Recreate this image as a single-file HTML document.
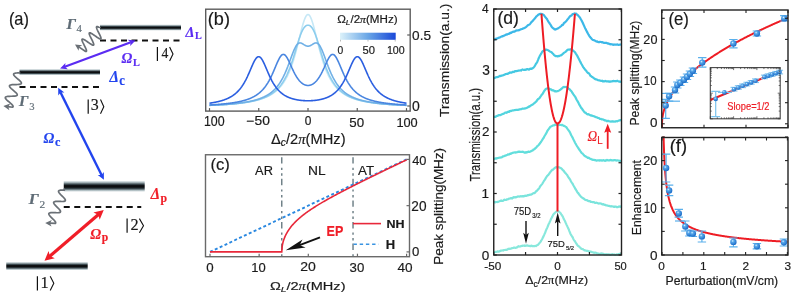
<!DOCTYPE html>
<html><head><meta charset="utf-8"><style>html,body{margin:0;padding:0;background:#fff;} svg{display:block;}</style></head>
<body><svg width="794" height="296" viewBox="0 0 794 296">
<rect width="794" height="296" fill="#fff"/>
<path d="M209.5,105.38 L209.75,105.37 L209.99,105.36 L210.24,105.35 L210.49,105.34 L210.73,105.33 L210.98,105.32 L211.22,105.3 L211.47,105.29 L211.72,105.28 L211.96,105.27 L212.21,105.26 L212.45,105.25 L212.7,105.24 L212.95,105.23 L213.19,105.22 L213.44,105.21 L213.69,105.2 L213.93,105.18 L214.18,105.17 L214.43,105.16 L214.67,105.15 L214.92,105.14 L215.16,105.13 L215.41,105.11 L215.66,105.1 L215.9,105.09 L216.15,105.08 L216.39,105.07 L216.64,105.05 L216.89,105.04 L217.13,105.03 L217.38,105.02 L217.63,105 L217.87,104.99 L218.12,104.98 L218.37,104.96 L218.61,104.95 L218.86,104.94 L219.1,104.92 L219.35,104.91 L219.6,104.9 L219.84,104.88 L220.09,104.87 L220.34,104.85 L220.58,104.84 L220.83,104.83 L221.07,104.81 L221.32,104.8 L221.57,104.78 L221.81,104.77 L222.06,104.75 L222.31,104.74 L222.55,104.72 L222.8,104.71 L223.04,104.69 L223.29,104.68 L223.54,104.66 L223.78,104.65 L224.03,104.63 L224.28,104.62 L224.52,104.6 L224.77,104.58 L225.01,104.57 L225.26,104.55 L225.51,104.53 L225.75,104.52 L226,104.5 L226.25,104.48 L226.49,104.47 L226.74,104.45 L226.98,104.43 L227.23,104.41 L227.48,104.4 L227.72,104.38 L227.97,104.36 L228.22,104.34 L228.46,104.32 L228.71,104.3 L228.95,104.28 L229.2,104.27 L229.45,104.25 L229.69,104.23 L229.94,104.21 L230.19,104.19 L230.43,104.17 L230.68,104.15 L230.92,104.13 L231.17,104.11 L231.42,104.09 L231.66,104.07 L231.91,104.05 L232.16,104.02 L232.4,104 L232.65,103.98 L232.89,103.96 L233.14,103.94 L233.39,103.92 L233.63,103.89 L233.88,103.87 L234.12,103.85 L234.37,103.83 L234.62,103.8 L234.86,103.78 L235.11,103.75 L235.36,103.73 L235.6,103.71 L235.85,103.68 L236.09,103.66 L236.34,103.63 L236.59,103.61 L236.83,103.58 L237.08,103.56 L237.33,103.53 L237.57,103.51 L237.82,103.48 L238.06,103.45 L238.31,103.43 L238.56,103.4 L238.8,103.37 L239.05,103.34 L239.3,103.31 L239.54,103.29 L239.79,103.26 L240.03,103.23 L240.28,103.2 L240.53,103.17 L240.77,103.14 L241.02,103.11 L241.27,103.08 L241.51,103.05 L241.76,103.02 L242,102.99 L242.25,102.96 L242.5,102.92 L242.74,102.89 L242.99,102.86 L243.24,102.83 L243.48,102.79 L243.73,102.76 L243.97,102.72 L244.22,102.69 L244.47,102.66 L244.71,102.62 L244.96,102.58 L245.21,102.55 L245.45,102.51 L245.7,102.48 L245.94,102.44 L246.19,102.4 L246.44,102.36 L246.68,102.32 L246.93,102.28 L247.18,102.25 L247.42,102.21 L247.67,102.17 L247.91,102.12 L248.16,102.08 L248.41,102.04 L248.65,102 L248.9,101.96 L249.15,101.91 L249.39,101.87 L249.64,101.83 L249.88,101.78 L250.13,101.74 L250.38,101.69 L250.62,101.64 L250.87,101.6 L251.12,101.55 L251.36,101.5 L251.61,101.45 L251.86,101.41 L252.1,101.36 L252.35,101.31 L252.59,101.25 L252.84,101.2 L253.09,101.15 L253.33,101.1 L253.58,101.04 L253.82,100.99 L254.07,100.94 L254.32,100.88 L254.56,100.82 L254.81,100.77 L255.06,100.71 L255.3,100.65 L255.55,100.59 L255.8,100.53 L256.04,100.47 L256.29,100.41 L256.53,100.35 L256.78,100.29 L257.03,100.22 L257.27,100.16 L257.52,100.09 L257.76,100.03 L258.01,99.96 L258.26,99.89 L258.5,99.82 L258.75,99.75 L259,99.68 L259.24,99.61 L259.49,99.54 L259.74,99.46 L259.98,99.39 L260.23,99.31 L260.47,99.24 L260.72,99.16 L260.97,99.08 L261.21,99 L261.46,98.92 L261.7,98.84 L261.95,98.75 L262.2,98.67 L262.44,98.58 L262.69,98.49 L262.94,98.41 L263.18,98.32 L263.43,98.23 L263.68,98.13 L263.92,98.04 L264.17,97.94 L264.41,97.85 L264.66,97.75 L264.91,97.65 L265.15,97.55 L265.4,97.45 L265.64,97.35 L265.89,97.24 L266.14,97.13 L266.38,97.02 L266.63,96.91 L266.88,96.8 L267.12,96.69 L267.37,96.57 L267.62,96.46 L267.86,96.34 L268.11,96.22 L268.35,96.1 L268.6,95.97 L268.85,95.84 L269.09,95.72 L269.34,95.59 L269.58,95.45 L269.83,95.32 L270.08,95.18 L270.32,95.04 L270.57,94.9 L270.82,94.76 L271.06,94.61 L271.31,94.46 L271.56,94.31 L271.8,94.16 L272.05,94 L272.29,93.84 L272.54,93.68 L272.79,93.52 L273.03,93.35 L273.28,93.18 L273.52,93.01 L273.77,92.83 L274.02,92.66 L274.26,92.47 L274.51,92.29 L274.76,92.1 L275,91.91 L275.25,91.72 L275.5,91.52 L275.74,91.32 L275.99,91.11 L276.23,90.9 L276.48,90.69 L276.73,90.47 L276.97,90.25 L277.22,90.03 L277.46,89.8 L277.71,89.57 L277.96,89.33 L278.2,89.09 L278.45,88.85 L278.7,88.6 L278.94,88.34 L279.19,88.08 L279.44,87.82 L279.68,87.55 L279.93,87.28 L280.17,87 L280.42,86.71 L280.67,86.42 L280.91,86.13 L281.16,85.82 L281.4,85.52 L281.65,85.2 L281.9,84.89 L282.14,84.56 L282.39,84.23 L282.64,83.89 L282.88,83.55 L283.13,83.2 L283.38,82.84 L283.62,82.47 L283.87,82.1 L284.11,81.72 L284.36,81.33 L284.61,80.94 L284.85,80.54 L285.1,80.13 L285.35,79.71 L285.59,79.28 L285.84,78.85 L286.08,78.4 L286.33,77.95 L286.58,77.49 L286.82,77.02 L287.07,76.54 L287.31,76.05 L287.56,75.55 L287.81,75.04 L288.05,74.52 L288.3,73.99 L288.55,73.45 L288.79,72.9 L289.04,72.34 L289.29,71.76 L289.53,71.18 L289.78,70.58 L290.02,69.98 L290.27,69.36 L290.52,68.73 L290.76,68.09 L291.01,67.43 L291.25,66.77 L291.5,66.09 L291.75,65.4 L291.99,64.69 L292.24,63.98 L292.49,63.25 L292.73,62.51 L292.98,61.75 L293.23,60.99 L293.47,60.21 L293.72,59.41 L293.96,58.61 L294.21,57.79 L294.46,56.96 L294.7,56.11 L294.95,55.26 L295.19,54.39 L295.44,53.51 L295.69,52.61 L295.93,51.71 L296.18,50.79 L296.43,49.87 L296.67,48.93 L296.92,47.98 L297.17,47.03 L297.41,46.06 L297.66,45.09 L297.9,44.11 L298.15,43.13 L298.4,42.13 L298.64,41.14 L298.89,40.14 L299.13,39.13 L299.38,38.13 L299.63,37.12 L299.87,36.12 L300.12,35.12 L300.37,34.12 L300.61,33.13 L300.86,32.14 L301.11,31.16 L301.35,30.19 L301.6,29.23 L301.84,28.29 L302.09,27.36 L302.34,26.45 L302.58,25.56 L302.83,24.69 L303.07,23.84 L303.32,23.02 L303.57,22.22 L303.81,21.45 L304.06,20.72 L304.31,20.01 L304.55,19.35 L304.8,18.72 L305.05,18.12 L305.29,17.57 L305.54,17.06 L305.78,16.6 L306.03,16.17 L306.28,15.8 L306.52,15.47 L306.77,15.19 L307.01,14.96 L307.26,14.78 L307.51,14.66 L307.75,14.58 L308,14.55 L308.25,14.58 L308.49,14.66 L308.74,14.78 L308.99,14.96 L309.23,15.19 L309.48,15.47 L309.72,15.8 L309.97,16.17 L310.22,16.6 L310.46,17.06 L310.71,17.57 L310.95,18.12 L311.2,18.72 L311.45,19.35 L311.69,20.01 L311.94,20.72 L312.19,21.45 L312.43,22.22 L312.68,23.02 L312.93,23.84 L313.17,24.69 L313.42,25.56 L313.66,26.45 L313.91,27.36 L314.16,28.29 L314.4,29.23 L314.65,30.19 L314.89,31.16 L315.14,32.14 L315.39,33.13 L315.63,34.12 L315.88,35.12 L316.13,36.12 L316.37,37.12 L316.62,38.13 L316.87,39.13 L317.11,40.14 L317.36,41.14 L317.6,42.13 L317.85,43.13 L318.1,44.11 L318.34,45.09 L318.59,46.06 L318.83,47.03 L319.08,47.98 L319.33,48.93 L319.57,49.87 L319.82,50.79 L320.07,51.71 L320.31,52.61 L320.56,53.51 L320.81,54.39 L321.05,55.26 L321.3,56.11 L321.54,56.96 L321.79,57.79 L322.04,58.61 L322.28,59.41 L322.53,60.21 L322.77,60.99 L323.02,61.75 L323.27,62.51 L323.51,63.25 L323.76,63.98 L324.01,64.69 L324.25,65.4 L324.5,66.09 L324.75,66.77 L324.99,67.43 L325.24,68.09 L325.48,68.73 L325.73,69.36 L325.98,69.98 L326.22,70.58 L326.47,71.18 L326.71,71.76 L326.96,72.34 L327.21,72.9 L327.45,73.45 L327.7,73.99 L327.95,74.52 L328.19,75.04 L328.44,75.55 L328.69,76.05 L328.93,76.54 L329.18,77.02 L329.42,77.49 L329.67,77.95 L329.92,78.4 L330.16,78.85 L330.41,79.28 L330.65,79.71 L330.9,80.13 L331.15,80.54 L331.39,80.94 L331.64,81.33 L331.89,81.72 L332.13,82.1 L332.38,82.47 L332.62,82.84 L332.87,83.2 L333.12,83.55 L333.36,83.89 L333.61,84.23 L333.86,84.56 L334.1,84.89 L334.35,85.2 L334.6,85.52 L334.84,85.82 L335.09,86.13 L335.33,86.42 L335.58,86.71 L335.83,87 L336.07,87.28 L336.32,87.55 L336.56,87.82 L336.81,88.08 L337.06,88.34 L337.3,88.6 L337.55,88.85 L337.8,89.09 L338.04,89.33 L338.29,89.57 L338.54,89.8 L338.78,90.03 L339.03,90.25 L339.27,90.47 L339.52,90.69 L339.77,90.9 L340.01,91.11 L340.26,91.32 L340.5,91.52 L340.75,91.72 L341,91.91 L341.24,92.1 L341.49,92.29 L341.74,92.47 L341.98,92.66 L342.23,92.83 L342.48,93.01 L342.72,93.18 L342.97,93.35 L343.21,93.52 L343.46,93.68 L343.71,93.84 L343.95,94 L344.2,94.16 L344.44,94.31 L344.69,94.46 L344.94,94.61 L345.18,94.76 L345.43,94.9 L345.68,95.04 L345.92,95.18 L346.17,95.32 L346.42,95.45 L346.66,95.59 L346.91,95.72 L347.15,95.84 L347.4,95.97 L347.65,96.1 L347.89,96.22 L348.14,96.34 L348.38,96.46 L348.63,96.57 L348.88,96.69 L349.12,96.8 L349.37,96.91 L349.62,97.02 L349.86,97.13 L350.11,97.24 L350.36,97.35 L350.6,97.45 L350.85,97.55 L351.09,97.65 L351.34,97.75 L351.59,97.85 L351.83,97.94 L352.08,98.04 L352.32,98.13 L352.57,98.23 L352.82,98.32 L353.06,98.41 L353.31,98.49 L353.56,98.58 L353.8,98.67 L354.05,98.75 L354.3,98.84 L354.54,98.92 L354.79,99 L355.03,99.08 L355.28,99.16 L355.53,99.24 L355.77,99.31 L356.02,99.39 L356.26,99.46 L356.51,99.54 L356.76,99.61 L357,99.68 L357.25,99.75 L357.5,99.82 L357.74,99.89 L357.99,99.96 L358.24,100.03 L358.48,100.09 L358.73,100.16 L358.97,100.22 L359.22,100.29 L359.47,100.35 L359.71,100.41 L359.96,100.47 L360.2,100.53 L360.45,100.59 L360.7,100.65 L360.94,100.71 L361.19,100.77 L361.44,100.82 L361.68,100.88 L361.93,100.94 L362.18,100.99 L362.42,101.04 L362.67,101.1 L362.91,101.15 L363.16,101.2 L363.41,101.25 L363.65,101.31 L363.9,101.36 L364.14,101.41 L364.39,101.45 L364.64,101.5 L364.88,101.55 L365.13,101.6 L365.38,101.64 L365.62,101.69 L365.87,101.74 L366.12,101.78 L366.36,101.83 L366.61,101.87 L366.85,101.91 L367.1,101.96 L367.35,102 L367.59,102.04 L367.84,102.08 L368.08,102.12 L368.33,102.17 L368.58,102.21 L368.82,102.25 L369.07,102.28 L369.32,102.32 L369.56,102.36 L369.81,102.4 L370.06,102.44 L370.3,102.48 L370.55,102.51 L370.79,102.55 L371.04,102.58 L371.29,102.62 L371.53,102.66 L371.78,102.69 L372.02,102.72 L372.27,102.76 L372.52,102.79 L372.76,102.83 L373.01,102.86 L373.26,102.89 L373.5,102.92 L373.75,102.96 L374,102.99 L374.24,103.02 L374.49,103.05 L374.73,103.08 L374.98,103.11 L375.23,103.14 L375.47,103.17 L375.72,103.2 L375.97,103.23 L376.21,103.26 L376.46,103.29 L376.7,103.31 L376.95,103.34 L377.2,103.37 L377.44,103.4 L377.69,103.43 L377.94,103.45 L378.18,103.48 L378.43,103.51 L378.67,103.53 L378.92,103.56 L379.17,103.58 L379.41,103.61 L379.66,103.63 L379.9,103.66 L380.15,103.68 L380.4,103.71 L380.64,103.73 L380.89,103.75 L381.14,103.78 L381.38,103.8 L381.63,103.83 L381.88,103.85 L382.12,103.87 L382.37,103.89 L382.61,103.92 L382.86,103.94 L383.11,103.96 L383.35,103.98 L383.6,104 L383.85,104.02 L384.09,104.05 L384.34,104.07 L384.58,104.09 L384.83,104.11 L385.08,104.13 L385.32,104.15 L385.57,104.17 L385.81,104.19 L386.06,104.21 L386.31,104.23 L386.55,104.25 L386.8,104.27 L387.05,104.28 L387.29,104.3 L387.54,104.32 L387.78,104.34 L388.03,104.36 L388.28,104.38 L388.52,104.4 L388.77,104.41 L389.02,104.43 L389.26,104.45 L389.51,104.47 L389.75,104.48 L390,104.5 L390.25,104.52 L390.49,104.53 L390.74,104.55 L390.99,104.57 L391.23,104.58 L391.48,104.6 L391.73,104.62 L391.97,104.63 L392.22,104.65 L392.46,104.66 L392.71,104.68 L392.96,104.69 L393.2,104.71 L393.45,104.72 L393.69,104.74 L393.94,104.75 L394.19,104.77 L394.43,104.78 L394.68,104.8 L394.93,104.81 L395.17,104.83 L395.42,104.84 L395.66,104.85 L395.91,104.87 L396.16,104.88 L396.4,104.9 L396.65,104.91 L396.9,104.92 L397.14,104.94 L397.39,104.95 L397.63,104.96 L397.88,104.98 L398.13,104.99 L398.37,105 L398.62,105.02 L398.87,105.03 L399.11,105.04 L399.36,105.05 L399.61,105.07 L399.85,105.08 L400.1,105.09 L400.34,105.1 L400.59,105.11 L400.84,105.13 L401.08,105.14 L401.33,105.15 L401.57,105.16 L401.82,105.17 L402.07,105.18 L402.31,105.2 L402.56,105.21 L402.81,105.22 L403.05,105.23 L403.3,105.24 L403.55,105.25 L403.79,105.26 L404.04,105.27 L404.28,105.28 L404.53,105.29 L404.78,105.3 L405.02,105.32 L405.27,105.33 L405.51,105.34 L405.76,105.35 L406.01,105.36 L406.25,105.37 L406.5,105.38" fill="none" stroke="#c6e8f6" stroke-width="1.6"/>
<path d="M209.5,105.36 L209.75,105.35 L209.99,105.34 L210.24,105.33 L210.49,105.32 L210.73,105.31 L210.98,105.3 L211.22,105.29 L211.47,105.28 L211.72,105.27 L211.96,105.26 L212.21,105.25 L212.45,105.24 L212.7,105.22 L212.95,105.21 L213.19,105.2 L213.44,105.19 L213.69,105.18 L213.93,105.17 L214.18,105.16 L214.43,105.14 L214.67,105.13 L214.92,105.12 L215.16,105.11 L215.41,105.1 L215.66,105.08 L215.9,105.07 L216.15,105.06 L216.39,105.05 L216.64,105.03 L216.89,105.02 L217.13,105.01 L217.38,105 L217.63,104.98 L217.87,104.97 L218.12,104.96 L218.37,104.94 L218.61,104.93 L218.86,104.92 L219.1,104.9 L219.35,104.89 L219.6,104.88 L219.84,104.86 L220.09,104.85 L220.34,104.83 L220.58,104.82 L220.83,104.8 L221.07,104.79 L221.32,104.77 L221.57,104.76 L221.81,104.75 L222.06,104.73 L222.31,104.72 L222.55,104.7 L222.8,104.68 L223.04,104.67 L223.29,104.65 L223.54,104.64 L223.78,104.62 L224.03,104.61 L224.28,104.59 L224.52,104.57 L224.77,104.56 L225.01,104.54 L225.26,104.52 L225.51,104.51 L225.75,104.49 L226,104.47 L226.25,104.45 L226.49,104.44 L226.74,104.42 L226.98,104.4 L227.23,104.38 L227.48,104.36 L227.72,104.35 L227.97,104.33 L228.22,104.31 L228.46,104.29 L228.71,104.27 L228.95,104.25 L229.2,104.23 L229.45,104.21 L229.69,104.19 L229.94,104.17 L230.19,104.15 L230.43,104.13 L230.68,104.11 L230.92,104.09 L231.17,104.07 L231.42,104.05 L231.66,104.03 L231.91,104.01 L232.16,103.99 L232.4,103.96 L232.65,103.94 L232.89,103.92 L233.14,103.9 L233.39,103.88 L233.63,103.85 L233.88,103.83 L234.12,103.81 L234.37,103.78 L234.62,103.76 L234.86,103.73 L235.11,103.71 L235.36,103.69 L235.6,103.66 L235.85,103.64 L236.09,103.61 L236.34,103.59 L236.59,103.56 L236.83,103.53 L237.08,103.51 L237.33,103.48 L237.57,103.45 L237.82,103.43 L238.06,103.4 L238.31,103.37 L238.56,103.34 L238.8,103.32 L239.05,103.29 L239.3,103.26 L239.54,103.23 L239.79,103.2 L240.03,103.17 L240.28,103.14 L240.53,103.11 L240.77,103.08 L241.02,103.05 L241.27,103.02 L241.51,102.99 L241.76,102.96 L242,102.92 L242.25,102.89 L242.5,102.86 L242.74,102.82 L242.99,102.79 L243.24,102.76 L243.48,102.72 L243.73,102.69 L243.97,102.65 L244.22,102.62 L244.47,102.58 L244.71,102.54 L244.96,102.51 L245.21,102.47 L245.45,102.43 L245.7,102.4 L245.94,102.36 L246.19,102.32 L246.44,102.28 L246.68,102.24 L246.93,102.2 L247.18,102.16 L247.42,102.12 L247.67,102.08 L247.91,102.03 L248.16,101.99 L248.41,101.95 L248.65,101.9 L248.9,101.86 L249.15,101.82 L249.39,101.77 L249.64,101.73 L249.88,101.68 L250.13,101.63 L250.38,101.58 L250.62,101.54 L250.87,101.49 L251.12,101.44 L251.36,101.39 L251.61,101.34 L251.86,101.29 L252.1,101.24 L252.35,101.19 L252.59,101.13 L252.84,101.08 L253.09,101.02 L253.33,100.97 L253.58,100.91 L253.82,100.86 L254.07,100.8 L254.32,100.74 L254.56,100.69 L254.81,100.63 L255.06,100.57 L255.3,100.51 L255.55,100.44 L255.8,100.38 L256.04,100.32 L256.29,100.25 L256.53,100.19 L256.78,100.12 L257.03,100.06 L257.27,99.99 L257.52,99.92 L257.76,99.85 L258.01,99.78 L258.26,99.71 L258.5,99.64 L258.75,99.57 L259,99.49 L259.24,99.42 L259.49,99.34 L259.74,99.26 L259.98,99.19 L260.23,99.11 L260.47,99.03 L260.72,98.94 L260.97,98.86 L261.21,98.78 L261.46,98.69 L261.7,98.6 L261.95,98.52 L262.2,98.43 L262.44,98.34 L262.69,98.25 L262.94,98.15 L263.18,98.06 L263.43,97.96 L263.68,97.87 L263.92,97.77 L264.17,97.67 L264.41,97.57 L264.66,97.46 L264.91,97.36 L265.15,97.25 L265.4,97.14 L265.64,97.03 L265.89,96.92 L266.14,96.81 L266.38,96.69 L266.63,96.58 L266.88,96.46 L267.12,96.34 L267.37,96.22 L267.62,96.09 L267.86,95.97 L268.11,95.84 L268.35,95.71 L268.6,95.58 L268.85,95.44 L269.09,95.3 L269.34,95.16 L269.58,95.02 L269.83,94.88 L270.08,94.73 L270.32,94.59 L270.57,94.43 L270.82,94.28 L271.06,94.12 L271.31,93.97 L271.56,93.8 L271.8,93.64 L272.05,93.47 L272.29,93.3 L272.54,93.13 L272.79,92.95 L273.03,92.78 L273.28,92.59 L273.52,92.41 L273.77,92.22 L274.02,92.03 L274.26,91.83 L274.51,91.63 L274.76,91.43 L275,91.22 L275.25,91.01 L275.5,90.8 L275.74,90.58 L275.99,90.36 L276.23,90.14 L276.48,89.91 L276.73,89.67 L276.97,89.43 L277.22,89.19 L277.46,88.94 L277.71,88.69 L277.96,88.44 L278.2,88.17 L278.45,87.91 L278.7,87.64 L278.94,87.36 L279.19,87.08 L279.44,86.79 L279.68,86.5 L279.93,86.2 L280.17,85.89 L280.42,85.58 L280.67,85.27 L280.91,84.95 L281.16,84.62 L281.4,84.28 L281.65,83.94 L281.9,83.59 L282.14,83.24 L282.39,82.88 L282.64,82.51 L282.88,82.13 L283.13,81.75 L283.38,81.36 L283.62,80.96 L283.87,80.55 L284.11,80.14 L284.36,79.72 L284.61,79.29 L284.85,78.85 L285.1,78.4 L285.35,77.94 L285.59,77.48 L285.84,77 L286.08,76.52 L286.33,76.03 L286.58,75.53 L286.82,75.01 L287.07,74.49 L287.31,73.96 L287.56,73.42 L287.81,72.87 L288.05,72.31 L288.3,71.74 L288.55,71.16 L288.79,70.57 L289.04,69.97 L289.29,69.35 L289.53,68.73 L289.78,68.1 L290.02,67.45 L290.27,66.8 L290.52,66.14 L290.76,65.46 L291.01,64.78 L291.25,64.08 L291.5,63.37 L291.75,62.66 L291.99,61.93 L292.24,61.2 L292.49,60.45 L292.73,59.7 L292.98,58.94 L293.23,58.17 L293.47,57.39 L293.72,56.61 L293.96,55.81 L294.21,55.01 L294.46,54.21 L294.7,53.4 L294.95,52.58 L295.19,51.77 L295.44,50.94 L295.69,50.12 L295.93,49.29 L296.18,48.47 L296.43,47.64 L296.67,46.81 L296.92,45.99 L297.17,45.17 L297.41,44.36 L297.66,43.55 L297.9,42.74 L298.15,41.95 L298.4,41.16 L298.64,40.38 L298.89,39.61 L299.13,38.86 L299.38,38.12 L299.63,37.39 L299.87,36.68 L300.12,35.99 L300.37,35.31 L300.61,34.65 L300.86,34.01 L301.11,33.39 L301.35,32.8 L301.6,32.22 L301.84,31.66 L302.09,31.13 L302.34,30.62 L302.58,30.14 L302.83,29.68 L303.07,29.24 L303.32,28.82 L303.57,28.43 L303.81,28.06 L304.06,27.72 L304.31,27.4 L304.55,27.1 L304.8,26.83 L305.05,26.58 L305.29,26.35 L305.54,26.14 L305.78,25.95 L306.03,25.79 L306.28,25.64 L306.52,25.52 L306.77,25.41 L307.01,25.33 L307.26,25.26 L307.51,25.22 L307.75,25.19 L308,25.18 L308.25,25.19 L308.49,25.22 L308.74,25.26 L308.99,25.33 L309.23,25.41 L309.48,25.52 L309.72,25.64 L309.97,25.79 L310.22,25.95 L310.46,26.14 L310.71,26.35 L310.95,26.58 L311.2,26.83 L311.45,27.1 L311.69,27.4 L311.94,27.72 L312.19,28.06 L312.43,28.43 L312.68,28.82 L312.93,29.24 L313.17,29.68 L313.42,30.14 L313.66,30.62 L313.91,31.13 L314.16,31.66 L314.4,32.22 L314.65,32.8 L314.89,33.39 L315.14,34.01 L315.39,34.65 L315.63,35.31 L315.88,35.99 L316.13,36.68 L316.37,37.39 L316.62,38.12 L316.87,38.86 L317.11,39.61 L317.36,40.38 L317.6,41.16 L317.85,41.95 L318.1,42.74 L318.34,43.55 L318.59,44.36 L318.83,45.17 L319.08,45.99 L319.33,46.81 L319.57,47.64 L319.82,48.47 L320.07,49.29 L320.31,50.12 L320.56,50.94 L320.81,51.77 L321.05,52.58 L321.3,53.4 L321.54,54.21 L321.79,55.01 L322.04,55.81 L322.28,56.61 L322.53,57.39 L322.77,58.17 L323.02,58.94 L323.27,59.7 L323.51,60.45 L323.76,61.2 L324.01,61.93 L324.25,62.66 L324.5,63.37 L324.75,64.08 L324.99,64.78 L325.24,65.46 L325.48,66.14 L325.73,66.8 L325.98,67.45 L326.22,68.1 L326.47,68.73 L326.71,69.35 L326.96,69.97 L327.21,70.57 L327.45,71.16 L327.7,71.74 L327.95,72.31 L328.19,72.87 L328.44,73.42 L328.69,73.96 L328.93,74.49 L329.18,75.01 L329.42,75.53 L329.67,76.03 L329.92,76.52 L330.16,77 L330.41,77.48 L330.65,77.94 L330.9,78.4 L331.15,78.85 L331.39,79.29 L331.64,79.72 L331.89,80.14 L332.13,80.55 L332.38,80.96 L332.62,81.36 L332.87,81.75 L333.12,82.13 L333.36,82.51 L333.61,82.88 L333.86,83.24 L334.1,83.59 L334.35,83.94 L334.6,84.28 L334.84,84.62 L335.09,84.95 L335.33,85.27 L335.58,85.58 L335.83,85.89 L336.07,86.2 L336.32,86.5 L336.56,86.79 L336.81,87.08 L337.06,87.36 L337.3,87.64 L337.55,87.91 L337.8,88.17 L338.04,88.44 L338.29,88.69 L338.54,88.94 L338.78,89.19 L339.03,89.43 L339.27,89.67 L339.52,89.91 L339.77,90.14 L340.01,90.36 L340.26,90.58 L340.5,90.8 L340.75,91.01 L341,91.22 L341.24,91.43 L341.49,91.63 L341.74,91.83 L341.98,92.03 L342.23,92.22 L342.48,92.41 L342.72,92.59 L342.97,92.78 L343.21,92.95 L343.46,93.13 L343.71,93.3 L343.95,93.47 L344.2,93.64 L344.44,93.8 L344.69,93.97 L344.94,94.12 L345.18,94.28 L345.43,94.43 L345.68,94.59 L345.92,94.73 L346.17,94.88 L346.42,95.02 L346.66,95.16 L346.91,95.3 L347.15,95.44 L347.4,95.58 L347.65,95.71 L347.89,95.84 L348.14,95.97 L348.38,96.09 L348.63,96.22 L348.88,96.34 L349.12,96.46 L349.37,96.58 L349.62,96.69 L349.86,96.81 L350.11,96.92 L350.36,97.03 L350.6,97.14 L350.85,97.25 L351.09,97.36 L351.34,97.46 L351.59,97.57 L351.83,97.67 L352.08,97.77 L352.32,97.87 L352.57,97.96 L352.82,98.06 L353.06,98.15 L353.31,98.25 L353.56,98.34 L353.8,98.43 L354.05,98.52 L354.3,98.6 L354.54,98.69 L354.79,98.78 L355.03,98.86 L355.28,98.94 L355.53,99.03 L355.77,99.11 L356.02,99.19 L356.26,99.26 L356.51,99.34 L356.76,99.42 L357,99.49 L357.25,99.57 L357.5,99.64 L357.74,99.71 L357.99,99.78 L358.24,99.85 L358.48,99.92 L358.73,99.99 L358.97,100.06 L359.22,100.12 L359.47,100.19 L359.71,100.25 L359.96,100.32 L360.2,100.38 L360.45,100.44 L360.7,100.51 L360.94,100.57 L361.19,100.63 L361.44,100.69 L361.68,100.74 L361.93,100.8 L362.18,100.86 L362.42,100.91 L362.67,100.97 L362.91,101.02 L363.16,101.08 L363.41,101.13 L363.65,101.19 L363.9,101.24 L364.14,101.29 L364.39,101.34 L364.64,101.39 L364.88,101.44 L365.13,101.49 L365.38,101.54 L365.62,101.58 L365.87,101.63 L366.12,101.68 L366.36,101.73 L366.61,101.77 L366.85,101.82 L367.1,101.86 L367.35,101.9 L367.59,101.95 L367.84,101.99 L368.08,102.03 L368.33,102.08 L368.58,102.12 L368.82,102.16 L369.07,102.2 L369.32,102.24 L369.56,102.28 L369.81,102.32 L370.06,102.36 L370.3,102.4 L370.55,102.43 L370.79,102.47 L371.04,102.51 L371.29,102.54 L371.53,102.58 L371.78,102.62 L372.02,102.65 L372.27,102.69 L372.52,102.72 L372.76,102.76 L373.01,102.79 L373.26,102.82 L373.5,102.86 L373.75,102.89 L374,102.92 L374.24,102.96 L374.49,102.99 L374.73,103.02 L374.98,103.05 L375.23,103.08 L375.47,103.11 L375.72,103.14 L375.97,103.17 L376.21,103.2 L376.46,103.23 L376.7,103.26 L376.95,103.29 L377.2,103.32 L377.44,103.34 L377.69,103.37 L377.94,103.4 L378.18,103.43 L378.43,103.45 L378.67,103.48 L378.92,103.51 L379.17,103.53 L379.41,103.56 L379.66,103.59 L379.9,103.61 L380.15,103.64 L380.4,103.66 L380.64,103.69 L380.89,103.71 L381.14,103.73 L381.38,103.76 L381.63,103.78 L381.88,103.81 L382.12,103.83 L382.37,103.85 L382.61,103.88 L382.86,103.9 L383.11,103.92 L383.35,103.94 L383.6,103.96 L383.85,103.99 L384.09,104.01 L384.34,104.03 L384.58,104.05 L384.83,104.07 L385.08,104.09 L385.32,104.11 L385.57,104.13 L385.81,104.15 L386.06,104.17 L386.31,104.19 L386.55,104.21 L386.8,104.23 L387.05,104.25 L387.29,104.27 L387.54,104.29 L387.78,104.31 L388.03,104.33 L388.28,104.35 L388.52,104.36 L388.77,104.38 L389.02,104.4 L389.26,104.42 L389.51,104.44 L389.75,104.45 L390,104.47 L390.25,104.49 L390.49,104.51 L390.74,104.52 L390.99,104.54 L391.23,104.56 L391.48,104.57 L391.73,104.59 L391.97,104.61 L392.22,104.62 L392.46,104.64 L392.71,104.65 L392.96,104.67 L393.2,104.68 L393.45,104.7 L393.69,104.72 L393.94,104.73 L394.19,104.75 L394.43,104.76 L394.68,104.77 L394.93,104.79 L395.17,104.8 L395.42,104.82 L395.66,104.83 L395.91,104.85 L396.16,104.86 L396.4,104.88 L396.65,104.89 L396.9,104.9 L397.14,104.92 L397.39,104.93 L397.63,104.94 L397.88,104.96 L398.13,104.97 L398.37,104.98 L398.62,105 L398.87,105.01 L399.11,105.02 L399.36,105.03 L399.61,105.05 L399.85,105.06 L400.1,105.07 L400.34,105.08 L400.59,105.1 L400.84,105.11 L401.08,105.12 L401.33,105.13 L401.57,105.14 L401.82,105.16 L402.07,105.17 L402.31,105.18 L402.56,105.19 L402.81,105.2 L403.05,105.21 L403.3,105.22 L403.55,105.24 L403.79,105.25 L404.04,105.26 L404.28,105.27 L404.53,105.28 L404.78,105.29 L405.02,105.3 L405.27,105.31 L405.51,105.32 L405.76,105.33 L406.01,105.34 L406.25,105.35 L406.5,105.36" fill="none" stroke="#8ccdee" stroke-width="1.6"/>
<path d="M209.5,105.32 L209.75,105.31 L209.99,105.3 L210.24,105.29 L210.49,105.28 L210.73,105.27 L210.98,105.26 L211.22,105.24 L211.47,105.23 L211.72,105.22 L211.96,105.21 L212.21,105.2 L212.45,105.19 L212.7,105.18 L212.95,105.16 L213.19,105.15 L213.44,105.14 L213.69,105.13 L213.93,105.12 L214.18,105.1 L214.43,105.09 L214.67,105.08 L214.92,105.07 L215.16,105.05 L215.41,105.04 L215.66,105.03 L215.9,105.02 L216.15,105 L216.39,104.99 L216.64,104.98 L216.89,104.96 L217.13,104.95 L217.38,104.94 L217.63,104.92 L217.87,104.91 L218.12,104.9 L218.37,104.88 L218.61,104.87 L218.86,104.85 L219.1,104.84 L219.35,104.82 L219.6,104.81 L219.84,104.8 L220.09,104.78 L220.34,104.77 L220.58,104.75 L220.83,104.74 L221.07,104.72 L221.32,104.7 L221.57,104.69 L221.81,104.67 L222.06,104.66 L222.31,104.64 L222.55,104.63 L222.8,104.61 L223.04,104.59 L223.29,104.58 L223.54,104.56 L223.78,104.54 L224.03,104.53 L224.28,104.51 L224.52,104.49 L224.77,104.47 L225.01,104.46 L225.26,104.44 L225.51,104.42 L225.75,104.4 L226,104.38 L226.25,104.37 L226.49,104.35 L226.74,104.33 L226.98,104.31 L227.23,104.29 L227.48,104.27 L227.72,104.25 L227.97,104.23 L228.22,104.21 L228.46,104.19 L228.71,104.17 L228.95,104.15 L229.2,104.13 L229.45,104.11 L229.69,104.09 L229.94,104.07 L230.19,104.05 L230.43,104.03 L230.68,104 L230.92,103.98 L231.17,103.96 L231.42,103.94 L231.66,103.91 L231.91,103.89 L232.16,103.87 L232.4,103.85 L232.65,103.82 L232.89,103.8 L233.14,103.77 L233.39,103.75 L233.63,103.73 L233.88,103.7 L234.12,103.68 L234.37,103.65 L234.62,103.63 L234.86,103.6 L235.11,103.57 L235.36,103.55 L235.6,103.52 L235.85,103.49 L236.09,103.47 L236.34,103.44 L236.59,103.41 L236.83,103.38 L237.08,103.36 L237.33,103.33 L237.57,103.3 L237.82,103.27 L238.06,103.24 L238.31,103.21 L238.56,103.18 L238.8,103.15 L239.05,103.12 L239.3,103.09 L239.54,103.06 L239.79,103.03 L240.03,102.99 L240.28,102.96 L240.53,102.93 L240.77,102.89 L241.02,102.86 L241.27,102.83 L241.51,102.79 L241.76,102.76 L242,102.72 L242.25,102.69 L242.5,102.65 L242.74,102.62 L242.99,102.58 L243.24,102.54 L243.48,102.51 L243.73,102.47 L243.97,102.43 L244.22,102.39 L244.47,102.35 L244.71,102.31 L244.96,102.27 L245.21,102.23 L245.45,102.19 L245.7,102.15 L245.94,102.11 L246.19,102.06 L246.44,102.02 L246.68,101.98 L246.93,101.93 L247.18,101.89 L247.42,101.84 L247.67,101.8 L247.91,101.75 L248.16,101.7 L248.41,101.66 L248.65,101.61 L248.9,101.56 L249.15,101.51 L249.39,101.46 L249.64,101.41 L249.88,101.36 L250.13,101.31 L250.38,101.25 L250.62,101.2 L250.87,101.15 L251.12,101.09 L251.36,101.04 L251.61,100.98 L251.86,100.92 L252.1,100.87 L252.35,100.81 L252.59,100.75 L252.84,100.69 L253.09,100.63 L253.33,100.57 L253.58,100.51 L253.82,100.44 L254.07,100.38 L254.32,100.31 L254.56,100.25 L254.81,100.18 L255.06,100.11 L255.3,100.05 L255.55,99.98 L255.8,99.91 L256.04,99.84 L256.29,99.76 L256.53,99.69 L256.78,99.62 L257.03,99.54 L257.27,99.46 L257.52,99.39 L257.76,99.31 L258.01,99.23 L258.26,99.15 L258.5,99.06 L258.75,98.98 L259,98.9 L259.24,98.81 L259.49,98.72 L259.74,98.63 L259.98,98.54 L260.23,98.45 L260.47,98.36 L260.72,98.27 L260.97,98.17 L261.21,98.07 L261.46,97.98 L261.7,97.88 L261.95,97.77 L262.2,97.67 L262.44,97.57 L262.69,97.46 L262.94,97.35 L263.18,97.24 L263.43,97.13 L263.68,97.02 L263.92,96.9 L264.17,96.78 L264.41,96.67 L264.66,96.54 L264.91,96.42 L265.15,96.3 L265.4,96.17 L265.64,96.04 L265.89,95.91 L266.14,95.78 L266.38,95.64 L266.63,95.5 L266.88,95.36 L267.12,95.22 L267.37,95.07 L267.62,94.93 L267.86,94.78 L268.11,94.62 L268.35,94.47 L268.6,94.31 L268.85,94.15 L269.09,93.98 L269.34,93.82 L269.58,93.65 L269.83,93.48 L270.08,93.3 L270.32,93.12 L270.57,92.94 L270.82,92.75 L271.06,92.56 L271.31,92.37 L271.56,92.17 L271.8,91.98 L272.05,91.77 L272.29,91.56 L272.54,91.35 L272.79,91.14 L273.03,90.92 L273.28,90.7 L273.52,90.47 L273.77,90.24 L274.02,90 L274.26,89.76 L274.51,89.52 L274.76,89.27 L275,89.01 L275.25,88.75 L275.5,88.49 L275.74,88.22 L275.99,87.94 L276.23,87.66 L276.48,87.38 L276.73,87.09 L276.97,86.79 L277.22,86.49 L277.46,86.18 L277.71,85.86 L277.96,85.54 L278.2,85.22 L278.45,84.88 L278.7,84.54 L278.94,84.2 L279.19,83.84 L279.44,83.48 L279.68,83.11 L279.93,82.74 L280.17,82.36 L280.42,81.97 L280.67,81.57 L280.91,81.17 L281.16,80.75 L281.4,80.33 L281.65,79.91 L281.9,79.47 L282.14,79.03 L282.39,78.57 L282.64,78.11 L282.88,77.64 L283.13,77.17 L283.38,76.68 L283.62,76.18 L283.87,75.68 L284.11,75.17 L284.36,74.65 L284.61,74.12 L284.85,73.58 L285.1,73.03 L285.35,72.47 L285.59,71.91 L285.84,71.34 L286.08,70.76 L286.33,70.17 L286.58,69.57 L286.82,68.96 L287.07,68.35 L287.31,67.73 L287.56,67.1 L287.81,66.47 L288.05,65.82 L288.3,65.18 L288.55,64.52 L288.79,63.87 L289.04,63.2 L289.29,62.54 L289.53,61.86 L289.78,61.19 L290.02,60.52 L290.27,59.84 L290.52,59.16 L290.76,58.49 L291.01,57.81 L291.25,57.14 L291.5,56.47 L291.75,55.8 L291.99,55.14 L292.24,54.48 L292.49,53.84 L292.73,53.2 L292.98,52.57 L293.23,51.95 L293.47,51.34 L293.72,50.75 L293.96,50.17 L294.21,49.61 L294.46,49.06 L294.7,48.54 L294.95,48.03 L295.19,47.54 L295.44,47.07 L295.69,46.63 L295.93,46.21 L296.18,45.81 L296.43,45.44 L296.67,45.09 L296.92,44.76 L297.17,44.47 L297.41,44.2 L297.66,43.95 L297.9,43.74 L298.15,43.55 L298.4,43.38 L298.64,43.24 L298.89,43.13 L299.13,43.04 L299.38,42.97 L299.63,42.93 L299.87,42.91 L300.12,42.91 L300.37,42.93 L300.61,42.97 L300.86,43.03 L301.11,43.1 L301.35,43.19 L301.6,43.29 L301.84,43.41 L302.09,43.53 L302.34,43.67 L302.58,43.81 L302.83,43.95 L303.07,44.11 L303.32,44.26 L303.57,44.42 L303.81,44.57 L304.06,44.73 L304.31,44.88 L304.55,45.03 L304.8,45.17 L305.05,45.31 L305.29,45.44 L305.54,45.56 L305.78,45.68 L306.03,45.78 L306.28,45.88 L306.52,45.96 L306.77,46.03 L307.01,46.09 L307.26,46.13 L307.51,46.17 L307.75,46.19 L308,46.19 L308.25,46.19 L308.49,46.17 L308.74,46.13 L308.99,46.09 L309.23,46.03 L309.48,45.96 L309.72,45.88 L309.97,45.78 L310.22,45.68 L310.46,45.56 L310.71,45.44 L310.95,45.31 L311.2,45.17 L311.45,45.03 L311.69,44.88 L311.94,44.73 L312.19,44.57 L312.43,44.42 L312.68,44.26 L312.93,44.11 L313.17,43.95 L313.42,43.81 L313.66,43.67 L313.91,43.53 L314.16,43.41 L314.4,43.29 L314.65,43.19 L314.89,43.1 L315.14,43.03 L315.39,42.97 L315.63,42.93 L315.88,42.91 L316.13,42.91 L316.37,42.93 L316.62,42.97 L316.87,43.04 L317.11,43.13 L317.36,43.24 L317.6,43.38 L317.85,43.55 L318.1,43.74 L318.34,43.95 L318.59,44.2 L318.83,44.47 L319.08,44.76 L319.33,45.09 L319.57,45.44 L319.82,45.81 L320.07,46.21 L320.31,46.63 L320.56,47.07 L320.81,47.54 L321.05,48.03 L321.3,48.54 L321.54,49.06 L321.79,49.61 L322.04,50.17 L322.28,50.75 L322.53,51.34 L322.77,51.95 L323.02,52.57 L323.27,53.2 L323.51,53.84 L323.76,54.48 L324.01,55.14 L324.25,55.8 L324.5,56.47 L324.75,57.14 L324.99,57.81 L325.24,58.49 L325.48,59.16 L325.73,59.84 L325.98,60.52 L326.22,61.19 L326.47,61.86 L326.71,62.54 L326.96,63.2 L327.21,63.87 L327.45,64.52 L327.7,65.18 L327.95,65.82 L328.19,66.47 L328.44,67.1 L328.69,67.73 L328.93,68.35 L329.18,68.96 L329.42,69.57 L329.67,70.17 L329.92,70.76 L330.16,71.34 L330.41,71.91 L330.65,72.47 L330.9,73.03 L331.15,73.58 L331.39,74.12 L331.64,74.65 L331.89,75.17 L332.13,75.68 L332.38,76.18 L332.62,76.68 L332.87,77.17 L333.12,77.64 L333.36,78.11 L333.61,78.57 L333.86,79.03 L334.1,79.47 L334.35,79.91 L334.6,80.33 L334.84,80.75 L335.09,81.17 L335.33,81.57 L335.58,81.97 L335.83,82.36 L336.07,82.74 L336.32,83.11 L336.56,83.48 L336.81,83.84 L337.06,84.2 L337.3,84.54 L337.55,84.88 L337.8,85.22 L338.04,85.54 L338.29,85.86 L338.54,86.18 L338.78,86.49 L339.03,86.79 L339.27,87.09 L339.52,87.38 L339.77,87.66 L340.01,87.94 L340.26,88.22 L340.5,88.49 L340.75,88.75 L341,89.01 L341.24,89.27 L341.49,89.52 L341.74,89.76 L341.98,90 L342.23,90.24 L342.48,90.47 L342.72,90.7 L342.97,90.92 L343.21,91.14 L343.46,91.35 L343.71,91.56 L343.95,91.77 L344.2,91.98 L344.44,92.17 L344.69,92.37 L344.94,92.56 L345.18,92.75 L345.43,92.94 L345.68,93.12 L345.92,93.3 L346.17,93.48 L346.42,93.65 L346.66,93.82 L346.91,93.98 L347.15,94.15 L347.4,94.31 L347.65,94.47 L347.89,94.62 L348.14,94.78 L348.38,94.93 L348.63,95.07 L348.88,95.22 L349.12,95.36 L349.37,95.5 L349.62,95.64 L349.86,95.78 L350.11,95.91 L350.36,96.04 L350.6,96.17 L350.85,96.3 L351.09,96.42 L351.34,96.54 L351.59,96.67 L351.83,96.78 L352.08,96.9 L352.32,97.02 L352.57,97.13 L352.82,97.24 L353.06,97.35 L353.31,97.46 L353.56,97.57 L353.8,97.67 L354.05,97.77 L354.3,97.88 L354.54,97.98 L354.79,98.07 L355.03,98.17 L355.28,98.27 L355.53,98.36 L355.77,98.45 L356.02,98.54 L356.26,98.63 L356.51,98.72 L356.76,98.81 L357,98.9 L357.25,98.98 L357.5,99.06 L357.74,99.15 L357.99,99.23 L358.24,99.31 L358.48,99.39 L358.73,99.46 L358.97,99.54 L359.22,99.62 L359.47,99.69 L359.71,99.76 L359.96,99.84 L360.2,99.91 L360.45,99.98 L360.7,100.05 L360.94,100.11 L361.19,100.18 L361.44,100.25 L361.68,100.31 L361.93,100.38 L362.18,100.44 L362.42,100.51 L362.67,100.57 L362.91,100.63 L363.16,100.69 L363.41,100.75 L363.65,100.81 L363.9,100.87 L364.14,100.92 L364.39,100.98 L364.64,101.04 L364.88,101.09 L365.13,101.15 L365.38,101.2 L365.62,101.25 L365.87,101.31 L366.12,101.36 L366.36,101.41 L366.61,101.46 L366.85,101.51 L367.1,101.56 L367.35,101.61 L367.59,101.66 L367.84,101.7 L368.08,101.75 L368.33,101.8 L368.58,101.84 L368.82,101.89 L369.07,101.93 L369.32,101.98 L369.56,102.02 L369.81,102.06 L370.06,102.11 L370.3,102.15 L370.55,102.19 L370.79,102.23 L371.04,102.27 L371.29,102.31 L371.53,102.35 L371.78,102.39 L372.02,102.43 L372.27,102.47 L372.52,102.51 L372.76,102.54 L373.01,102.58 L373.26,102.62 L373.5,102.65 L373.75,102.69 L374,102.72 L374.24,102.76 L374.49,102.79 L374.73,102.83 L374.98,102.86 L375.23,102.89 L375.47,102.93 L375.72,102.96 L375.97,102.99 L376.21,103.03 L376.46,103.06 L376.7,103.09 L376.95,103.12 L377.2,103.15 L377.44,103.18 L377.69,103.21 L377.94,103.24 L378.18,103.27 L378.43,103.3 L378.67,103.33 L378.92,103.36 L379.17,103.38 L379.41,103.41 L379.66,103.44 L379.9,103.47 L380.15,103.49 L380.4,103.52 L380.64,103.55 L380.89,103.57 L381.14,103.6 L381.38,103.63 L381.63,103.65 L381.88,103.68 L382.12,103.7 L382.37,103.73 L382.61,103.75 L382.86,103.77 L383.11,103.8 L383.35,103.82 L383.6,103.85 L383.85,103.87 L384.09,103.89 L384.34,103.91 L384.58,103.94 L384.83,103.96 L385.08,103.98 L385.32,104 L385.57,104.03 L385.81,104.05 L386.06,104.07 L386.31,104.09 L386.55,104.11 L386.8,104.13 L387.05,104.15 L387.29,104.17 L387.54,104.19 L387.78,104.21 L388.03,104.23 L388.28,104.25 L388.52,104.27 L388.77,104.29 L389.02,104.31 L389.26,104.33 L389.51,104.35 L389.75,104.37 L390,104.38 L390.25,104.4 L390.49,104.42 L390.74,104.44 L390.99,104.46 L391.23,104.47 L391.48,104.49 L391.73,104.51 L391.97,104.53 L392.22,104.54 L392.46,104.56 L392.71,104.58 L392.96,104.59 L393.2,104.61 L393.45,104.63 L393.69,104.64 L393.94,104.66 L394.19,104.67 L394.43,104.69 L394.68,104.7 L394.93,104.72 L395.17,104.74 L395.42,104.75 L395.66,104.77 L395.91,104.78 L396.16,104.8 L396.4,104.81 L396.65,104.82 L396.9,104.84 L397.14,104.85 L397.39,104.87 L397.63,104.88 L397.88,104.9 L398.13,104.91 L398.37,104.92 L398.62,104.94 L398.87,104.95 L399.11,104.96 L399.36,104.98 L399.61,104.99 L399.85,105 L400.1,105.02 L400.34,105.03 L400.59,105.04 L400.84,105.05 L401.08,105.07 L401.33,105.08 L401.57,105.09 L401.82,105.1 L402.07,105.12 L402.31,105.13 L402.56,105.14 L402.81,105.15 L403.05,105.16 L403.3,105.18 L403.55,105.19 L403.79,105.2 L404.04,105.21 L404.28,105.22 L404.53,105.23 L404.78,105.24 L405.02,105.26 L405.27,105.27 L405.51,105.28 L405.76,105.29 L406.01,105.3 L406.25,105.31 L406.5,105.32" fill="none" stroke="#70b0e6" stroke-width="1.6"/>
<path d="M209.5,104.99 L209.75,104.98 L209.99,104.96 L210.24,104.95 L210.49,104.93 L210.73,104.92 L210.98,104.91 L211.22,104.89 L211.47,104.88 L211.72,104.86 L211.96,104.85 L212.21,104.83 L212.45,104.82 L212.7,104.8 L212.95,104.78 L213.19,104.77 L213.44,104.75 L213.69,104.74 L213.93,104.72 L214.18,104.7 L214.43,104.69 L214.67,104.67 L214.92,104.65 L215.16,104.64 L215.41,104.62 L215.66,104.6 L215.9,104.58 L216.15,104.57 L216.39,104.55 L216.64,104.53 L216.89,104.51 L217.13,104.49 L217.38,104.47 L217.63,104.46 L217.87,104.44 L218.12,104.42 L218.37,104.4 L218.61,104.38 L218.86,104.36 L219.1,104.34 L219.35,104.32 L219.6,104.3 L219.84,104.28 L220.09,104.26 L220.34,104.24 L220.58,104.22 L220.83,104.19 L221.07,104.17 L221.32,104.15 L221.57,104.13 L221.81,104.11 L222.06,104.08 L222.31,104.06 L222.55,104.04 L222.8,104.01 L223.04,103.99 L223.29,103.97 L223.54,103.94 L223.78,103.92 L224.03,103.89 L224.28,103.87 L224.52,103.84 L224.77,103.82 L225.01,103.79 L225.26,103.77 L225.51,103.74 L225.75,103.72 L226,103.69 L226.25,103.66 L226.49,103.63 L226.74,103.61 L226.98,103.58 L227.23,103.55 L227.48,103.52 L227.72,103.49 L227.97,103.46 L228.22,103.43 L228.46,103.4 L228.71,103.37 L228.95,103.34 L229.2,103.31 L229.45,103.28 L229.69,103.25 L229.94,103.22 L230.19,103.18 L230.43,103.15 L230.68,103.12 L230.92,103.08 L231.17,103.05 L231.42,103.02 L231.66,102.98 L231.91,102.95 L232.16,102.91 L232.4,102.87 L232.65,102.84 L232.89,102.8 L233.14,102.76 L233.39,102.72 L233.63,102.69 L233.88,102.65 L234.12,102.61 L234.37,102.57 L234.62,102.53 L234.86,102.49 L235.11,102.44 L235.36,102.4 L235.6,102.36 L235.85,102.32 L236.09,102.27 L236.34,102.23 L236.59,102.18 L236.83,102.14 L237.08,102.09 L237.33,102.05 L237.57,102 L237.82,101.95 L238.06,101.9 L238.31,101.85 L238.56,101.8 L238.8,101.75 L239.05,101.7 L239.3,101.65 L239.54,101.6 L239.79,101.54 L240.03,101.49 L240.28,101.43 L240.53,101.38 L240.77,101.32 L241.02,101.26 L241.27,101.2 L241.51,101.15 L241.76,101.09 L242,101.02 L242.25,100.96 L242.5,100.9 L242.74,100.84 L242.99,100.77 L243.24,100.71 L243.48,100.64 L243.73,100.57 L243.97,100.5 L244.22,100.44 L244.47,100.36 L244.71,100.29 L244.96,100.22 L245.21,100.15 L245.45,100.07 L245.7,100 L245.94,99.92 L246.19,99.84 L246.44,99.76 L246.68,99.68 L246.93,99.6 L247.18,99.51 L247.42,99.43 L247.67,99.34 L247.91,99.25 L248.16,99.16 L248.41,99.07 L248.65,98.98 L248.9,98.89 L249.15,98.79 L249.39,98.69 L249.64,98.6 L249.88,98.5 L250.13,98.39 L250.38,98.29 L250.62,98.18 L250.87,98.08 L251.12,97.97 L251.36,97.86 L251.61,97.74 L251.86,97.63 L252.1,97.51 L252.35,97.39 L252.59,97.27 L252.84,97.15 L253.09,97.02 L253.33,96.9 L253.58,96.77 L253.82,96.63 L254.07,96.5 L254.32,96.36 L254.56,96.22 L254.81,96.08 L255.06,95.93 L255.3,95.79 L255.55,95.64 L255.8,95.48 L256.04,95.33 L256.29,95.17 L256.53,95 L256.78,94.84 L257.03,94.67 L257.27,94.5 L257.52,94.32 L257.76,94.14 L258.01,93.96 L258.26,93.78 L258.5,93.59 L258.75,93.4 L259,93.2 L259.24,93 L259.49,92.79 L259.74,92.58 L259.98,92.37 L260.23,92.16 L260.47,91.93 L260.72,91.71 L260.97,91.48 L261.21,91.24 L261.46,91 L261.7,90.76 L261.95,90.51 L262.2,90.25 L262.44,89.99 L262.69,89.73 L262.94,89.46 L263.18,89.18 L263.43,88.9 L263.68,88.61 L263.92,88.32 L264.17,88.02 L264.41,87.72 L264.66,87.4 L264.91,87.09 L265.15,86.76 L265.4,86.43 L265.64,86.09 L265.89,85.75 L266.14,85.4 L266.38,85.04 L266.63,84.67 L266.88,84.3 L267.12,83.92 L267.37,83.53 L267.62,83.14 L267.86,82.74 L268.11,82.33 L268.35,81.91 L268.6,81.48 L268.85,81.05 L269.09,80.61 L269.34,80.16 L269.58,79.71 L269.83,79.24 L270.08,78.77 L270.32,78.29 L270.57,77.8 L270.82,77.31 L271.06,76.8 L271.31,76.29 L271.56,75.77 L271.8,75.25 L272.05,74.72 L272.29,74.18 L272.54,73.63 L272.79,73.08 L273.03,72.52 L273.28,71.96 L273.52,71.39 L273.77,70.82 L274.02,70.25 L274.26,69.67 L274.51,69.08 L274.76,68.5 L275,67.91 L275.25,67.32 L275.5,66.74 L275.74,66.15 L275.99,65.56 L276.23,64.98 L276.48,64.4 L276.73,63.83 L276.97,63.26 L277.22,62.7 L277.46,62.14 L277.71,61.6 L277.96,61.06 L278.2,60.54 L278.45,60.03 L278.7,59.54 L278.94,59.05 L279.19,58.59 L279.44,58.15 L279.68,57.72 L279.93,57.32 L280.17,56.93 L280.42,56.57 L280.67,56.24 L280.91,55.93 L281.16,55.65 L281.4,55.39 L281.65,55.16 L281.9,54.97 L282.14,54.8 L282.39,54.66 L282.64,54.55 L282.88,54.48 L283.13,54.43 L283.38,54.42 L283.62,54.44 L283.87,54.49 L284.11,54.57 L284.36,54.69 L284.61,54.83 L284.85,55 L285.1,55.21 L285.35,55.44 L285.59,55.7 L285.84,55.98 L286.08,56.29 L286.33,56.62 L286.58,56.98 L286.82,57.36 L287.07,57.76 L287.31,58.17 L287.56,58.61 L287.81,59.06 L288.05,59.53 L288.3,60.01 L288.55,60.5 L288.79,61 L289.04,61.52 L289.29,62.04 L289.53,62.57 L289.78,63.1 L290.02,63.64 L290.27,64.18 L290.52,64.73 L290.76,65.27 L291.01,65.82 L291.25,66.36 L291.5,66.91 L291.75,67.45 L291.99,67.99 L292.24,68.52 L292.49,69.06 L292.73,69.58 L292.98,70.1 L293.23,70.62 L293.47,71.12 L293.72,71.62 L293.96,72.12 L294.21,72.6 L294.46,73.08 L294.7,73.55 L294.95,74.01 L295.19,74.46 L295.44,74.9 L295.69,75.34 L295.93,75.76 L296.18,76.17 L296.43,76.58 L296.67,76.98 L296.92,77.36 L297.17,77.74 L297.41,78.1 L297.66,78.46 L297.9,78.81 L298.15,79.14 L298.4,79.47 L298.64,79.79 L298.89,80.1 L299.13,80.4 L299.38,80.69 L299.63,80.97 L299.87,81.24 L300.12,81.5 L300.37,81.75 L300.61,82 L300.86,82.23 L301.11,82.46 L301.35,82.68 L301.6,82.88 L301.84,83.08 L302.09,83.28 L302.34,83.46 L302.58,83.63 L302.83,83.8 L303.07,83.96 L303.32,84.11 L303.57,84.25 L303.81,84.38 L304.06,84.51 L304.31,84.62 L304.55,84.73 L304.8,84.83 L305.05,84.93 L305.29,85.01 L305.54,85.09 L305.78,85.16 L306.03,85.23 L306.28,85.28 L306.52,85.33 L306.77,85.37 L307.01,85.41 L307.26,85.43 L307.51,85.45 L307.75,85.46 L308,85.47 L308.25,85.46 L308.49,85.45 L308.74,85.43 L308.99,85.41 L309.23,85.37 L309.48,85.33 L309.72,85.28 L309.97,85.23 L310.22,85.16 L310.46,85.09 L310.71,85.01 L310.95,84.93 L311.2,84.83 L311.45,84.73 L311.69,84.62 L311.94,84.51 L312.19,84.38 L312.43,84.25 L312.68,84.11 L312.93,83.96 L313.17,83.8 L313.42,83.63 L313.66,83.46 L313.91,83.28 L314.16,83.08 L314.4,82.88 L314.65,82.68 L314.89,82.46 L315.14,82.23 L315.39,82 L315.63,81.75 L315.88,81.5 L316.13,81.24 L316.37,80.97 L316.62,80.69 L316.87,80.4 L317.11,80.1 L317.36,79.79 L317.6,79.47 L317.85,79.14 L318.1,78.81 L318.34,78.46 L318.59,78.1 L318.83,77.74 L319.08,77.36 L319.33,76.98 L319.57,76.58 L319.82,76.17 L320.07,75.76 L320.31,75.34 L320.56,74.9 L320.81,74.46 L321.05,74.01 L321.3,73.55 L321.54,73.08 L321.79,72.6 L322.04,72.12 L322.28,71.62 L322.53,71.12 L322.77,70.62 L323.02,70.1 L323.27,69.58 L323.51,69.06 L323.76,68.52 L324.01,67.99 L324.25,67.45 L324.5,66.91 L324.75,66.36 L324.99,65.82 L325.24,65.27 L325.48,64.73 L325.73,64.18 L325.98,63.64 L326.22,63.1 L326.47,62.57 L326.71,62.04 L326.96,61.52 L327.21,61 L327.45,60.5 L327.7,60.01 L327.95,59.53 L328.19,59.06 L328.44,58.61 L328.69,58.17 L328.93,57.76 L329.18,57.36 L329.42,56.98 L329.67,56.62 L329.92,56.29 L330.16,55.98 L330.41,55.7 L330.65,55.44 L330.9,55.21 L331.15,55 L331.39,54.83 L331.64,54.69 L331.89,54.57 L332.13,54.49 L332.38,54.44 L332.62,54.42 L332.87,54.43 L333.12,54.48 L333.36,54.55 L333.61,54.66 L333.86,54.8 L334.1,54.97 L334.35,55.16 L334.6,55.39 L334.84,55.65 L335.09,55.93 L335.33,56.24 L335.58,56.57 L335.83,56.93 L336.07,57.32 L336.32,57.72 L336.56,58.15 L336.81,58.59 L337.06,59.05 L337.3,59.54 L337.55,60.03 L337.8,60.54 L338.04,61.06 L338.29,61.6 L338.54,62.14 L338.78,62.7 L339.03,63.26 L339.27,63.83 L339.52,64.4 L339.77,64.98 L340.01,65.56 L340.26,66.15 L340.5,66.74 L340.75,67.32 L341,67.91 L341.24,68.5 L341.49,69.08 L341.74,69.67 L341.98,70.25 L342.23,70.82 L342.48,71.39 L342.72,71.96 L342.97,72.52 L343.21,73.08 L343.46,73.63 L343.71,74.18 L343.95,74.72 L344.2,75.25 L344.44,75.77 L344.69,76.29 L344.94,76.8 L345.18,77.31 L345.43,77.8 L345.68,78.29 L345.92,78.77 L346.17,79.24 L346.42,79.71 L346.66,80.16 L346.91,80.61 L347.15,81.05 L347.4,81.48 L347.65,81.91 L347.89,82.33 L348.14,82.74 L348.38,83.14 L348.63,83.53 L348.88,83.92 L349.12,84.3 L349.37,84.67 L349.62,85.04 L349.86,85.4 L350.11,85.75 L350.36,86.09 L350.6,86.43 L350.85,86.76 L351.09,87.09 L351.34,87.4 L351.59,87.72 L351.83,88.02 L352.08,88.32 L352.32,88.61 L352.57,88.9 L352.82,89.18 L353.06,89.46 L353.31,89.73 L353.56,89.99 L353.8,90.25 L354.05,90.51 L354.3,90.76 L354.54,91 L354.79,91.24 L355.03,91.48 L355.28,91.71 L355.53,91.93 L355.77,92.16 L356.02,92.37 L356.26,92.58 L356.51,92.79 L356.76,93 L357,93.2 L357.25,93.4 L357.5,93.59 L357.74,93.78 L357.99,93.96 L358.24,94.14 L358.48,94.32 L358.73,94.5 L358.97,94.67 L359.22,94.84 L359.47,95 L359.71,95.17 L359.96,95.33 L360.2,95.48 L360.45,95.64 L360.7,95.79 L360.94,95.93 L361.19,96.08 L361.44,96.22 L361.68,96.36 L361.93,96.5 L362.18,96.63 L362.42,96.77 L362.67,96.9 L362.91,97.02 L363.16,97.15 L363.41,97.27 L363.65,97.39 L363.9,97.51 L364.14,97.63 L364.39,97.74 L364.64,97.86 L364.88,97.97 L365.13,98.08 L365.38,98.18 L365.62,98.29 L365.87,98.39 L366.12,98.5 L366.36,98.6 L366.61,98.69 L366.85,98.79 L367.1,98.89 L367.35,98.98 L367.59,99.07 L367.84,99.16 L368.08,99.25 L368.33,99.34 L368.58,99.43 L368.82,99.51 L369.07,99.6 L369.32,99.68 L369.56,99.76 L369.81,99.84 L370.06,99.92 L370.3,100 L370.55,100.07 L370.79,100.15 L371.04,100.22 L371.29,100.29 L371.53,100.36 L371.78,100.44 L372.02,100.5 L372.27,100.57 L372.52,100.64 L372.76,100.71 L373.01,100.77 L373.26,100.84 L373.5,100.9 L373.75,100.96 L374,101.02 L374.24,101.09 L374.49,101.15 L374.73,101.2 L374.98,101.26 L375.23,101.32 L375.47,101.38 L375.72,101.43 L375.97,101.49 L376.21,101.54 L376.46,101.6 L376.7,101.65 L376.95,101.7 L377.2,101.75 L377.44,101.8 L377.69,101.85 L377.94,101.9 L378.18,101.95 L378.43,102 L378.67,102.05 L378.92,102.09 L379.17,102.14 L379.41,102.18 L379.66,102.23 L379.9,102.27 L380.15,102.32 L380.4,102.36 L380.64,102.4 L380.89,102.44 L381.14,102.49 L381.38,102.53 L381.63,102.57 L381.88,102.61 L382.12,102.65 L382.37,102.69 L382.61,102.72 L382.86,102.76 L383.11,102.8 L383.35,102.84 L383.6,102.87 L383.85,102.91 L384.09,102.95 L384.34,102.98 L384.58,103.02 L384.83,103.05 L385.08,103.08 L385.32,103.12 L385.57,103.15 L385.81,103.18 L386.06,103.22 L386.31,103.25 L386.55,103.28 L386.8,103.31 L387.05,103.34 L387.29,103.37 L387.54,103.4 L387.78,103.43 L388.03,103.46 L388.28,103.49 L388.52,103.52 L388.77,103.55 L389.02,103.58 L389.26,103.61 L389.51,103.63 L389.75,103.66 L390,103.69 L390.25,103.72 L390.49,103.74 L390.74,103.77 L390.99,103.79 L391.23,103.82 L391.48,103.84 L391.73,103.87 L391.97,103.89 L392.22,103.92 L392.46,103.94 L392.71,103.97 L392.96,103.99 L393.2,104.01 L393.45,104.04 L393.69,104.06 L393.94,104.08 L394.19,104.11 L394.43,104.13 L394.68,104.15 L394.93,104.17 L395.17,104.19 L395.42,104.22 L395.66,104.24 L395.91,104.26 L396.16,104.28 L396.4,104.3 L396.65,104.32 L396.9,104.34 L397.14,104.36 L397.39,104.38 L397.63,104.4 L397.88,104.42 L398.13,104.44 L398.37,104.46 L398.62,104.47 L398.87,104.49 L399.11,104.51 L399.36,104.53 L399.61,104.55 L399.85,104.57 L400.1,104.58 L400.34,104.6 L400.59,104.62 L400.84,104.64 L401.08,104.65 L401.33,104.67 L401.57,104.69 L401.82,104.7 L402.07,104.72 L402.31,104.74 L402.56,104.75 L402.81,104.77 L403.05,104.78 L403.3,104.8 L403.55,104.82 L403.79,104.83 L404.04,104.85 L404.28,104.86 L404.53,104.88 L404.78,104.89 L405.02,104.91 L405.27,104.92 L405.51,104.93 L405.76,104.95 L406.01,104.96 L406.25,104.98 L406.5,104.99" fill="none" stroke="#4a86e0" stroke-width="1.6"/>
<path d="M209.5,103.21 L209.75,103.18 L209.99,103.14 L210.24,103.1 L210.49,103.07 L210.73,103.03 L210.98,102.99 L211.22,102.95 L211.47,102.91 L211.72,102.87 L211.96,102.83 L212.21,102.79 L212.45,102.75 L212.7,102.7 L212.95,102.66 L213.19,102.62 L213.44,102.57 L213.69,102.53 L213.93,102.48 L214.18,102.44 L214.43,102.39 L214.67,102.34 L214.92,102.29 L215.16,102.25 L215.41,102.2 L215.66,102.15 L215.9,102.09 L216.15,102.04 L216.39,101.99 L216.64,101.94 L216.89,101.88 L217.13,101.83 L217.38,101.77 L217.63,101.72 L217.87,101.66 L218.12,101.6 L218.37,101.54 L218.61,101.48 L218.86,101.42 L219.1,101.36 L219.35,101.3 L219.6,101.23 L219.84,101.17 L220.09,101.1 L220.34,101.03 L220.58,100.96 L220.83,100.9 L221.07,100.83 L221.32,100.75 L221.57,100.68 L221.81,100.61 L222.06,100.53 L222.31,100.46 L222.55,100.38 L222.8,100.3 L223.04,100.22 L223.29,100.14 L223.54,100.06 L223.78,99.97 L224.03,99.89 L224.28,99.8 L224.52,99.71 L224.77,99.62 L225.01,99.53 L225.26,99.43 L225.51,99.34 L225.75,99.24 L226,99.14 L226.25,99.04 L226.49,98.94 L226.74,98.84 L226.98,98.73 L227.23,98.63 L227.48,98.52 L227.72,98.4 L227.97,98.29 L228.22,98.18 L228.46,98.06 L228.71,97.94 L228.95,97.82 L229.2,97.69 L229.45,97.56 L229.69,97.43 L229.94,97.3 L230.19,97.17 L230.43,97.03 L230.68,96.89 L230.92,96.75 L231.17,96.61 L231.42,96.46 L231.66,96.31 L231.91,96.15 L232.16,96 L232.4,95.84 L232.65,95.68 L232.89,95.51 L233.14,95.34 L233.39,95.17 L233.63,94.99 L233.88,94.81 L234.12,94.63 L234.37,94.44 L234.62,94.25 L234.86,94.06 L235.11,93.86 L235.36,93.65 L235.6,93.45 L235.85,93.24 L236.09,93.02 L236.34,92.8 L236.59,92.58 L236.83,92.35 L237.08,92.11 L237.33,91.87 L237.57,91.63 L237.82,91.38 L238.06,91.13 L238.31,90.87 L238.56,90.6 L238.8,90.33 L239.05,90.05 L239.3,89.77 L239.54,89.48 L239.79,89.19 L240.03,88.89 L240.28,88.58 L240.53,88.27 L240.77,87.95 L241.02,87.63 L241.27,87.29 L241.51,86.95 L241.76,86.61 L242,86.25 L242.25,85.89 L242.5,85.52 L242.74,85.15 L242.99,84.77 L243.24,84.38 L243.48,83.98 L243.73,83.57 L243.97,83.16 L244.22,82.74 L244.47,82.31 L244.71,81.87 L244.96,81.43 L245.21,80.98 L245.45,80.52 L245.7,80.05 L245.94,79.57 L246.19,79.09 L246.44,78.6 L246.68,78.1 L246.93,77.59 L247.18,77.08 L247.42,76.56 L247.67,76.03 L247.91,75.5 L248.16,74.96 L248.41,74.41 L248.65,73.86 L248.9,73.31 L249.15,72.75 L249.39,72.18 L249.64,71.61 L249.88,71.04 L250.13,70.47 L250.38,69.89 L250.62,69.31 L250.87,68.73 L251.12,68.16 L251.36,67.58 L251.61,67.01 L251.86,66.44 L252.1,65.87 L252.35,65.31 L252.59,64.76 L252.84,64.21 L253.09,63.68 L253.33,63.15 L253.58,62.64 L253.82,62.13 L254.07,61.65 L254.32,61.17 L254.56,60.72 L254.81,60.28 L255.06,59.86 L255.3,59.46 L255.55,59.09 L255.8,58.74 L256.04,58.41 L256.29,58.11 L256.53,57.83 L256.78,57.58 L257.03,57.36 L257.27,57.17 L257.52,57.01 L257.76,56.88 L258.01,56.79 L258.26,56.72 L258.5,56.68 L258.75,56.68 L259,56.71 L259.24,56.77 L259.49,56.86 L259.74,56.99 L259.98,57.14 L260.23,57.33 L260.47,57.54 L260.72,57.79 L260.97,58.06 L261.21,58.36 L261.46,58.68 L261.7,59.03 L261.95,59.41 L262.2,59.8 L262.44,60.22 L262.69,60.66 L262.94,61.11 L263.18,61.59 L263.43,62.08 L263.68,62.58 L263.92,63.1 L264.17,63.63 L264.41,64.17 L264.66,64.72 L264.91,65.27 L265.15,65.84 L265.4,66.41 L265.64,66.98 L265.89,67.56 L266.14,68.14 L266.38,68.72 L266.63,69.31 L266.88,69.89 L267.12,70.47 L267.37,71.05 L267.62,71.63 L267.86,72.2 L268.11,72.77 L268.35,73.34 L268.6,73.9 L268.85,74.45 L269.09,75 L269.34,75.55 L269.58,76.08 L269.83,76.61 L270.08,77.14 L270.32,77.65 L270.57,78.16 L270.82,78.66 L271.06,79.15 L271.31,79.64 L271.56,80.11 L271.8,80.58 L272.05,81.04 L272.29,81.49 L272.54,81.93 L272.79,82.37 L273.03,82.8 L273.28,83.22 L273.52,83.63 L273.77,84.03 L274.02,84.42 L274.26,84.81 L274.51,85.19 L274.76,85.56 L275,85.92 L275.25,86.28 L275.5,86.63 L275.74,86.97 L275.99,87.3 L276.23,87.63 L276.48,87.95 L276.73,88.26 L276.97,88.56 L277.22,88.86 L277.46,89.16 L277.71,89.44 L277.96,89.72 L278.2,90 L278.45,90.26 L278.7,90.52 L278.94,90.78 L279.19,91.03 L279.44,91.27 L279.68,91.51 L279.93,91.75 L280.17,91.98 L280.42,92.2 L280.67,92.42 L280.91,92.63 L281.16,92.84 L281.4,93.04 L281.65,93.24 L281.9,93.44 L282.14,93.63 L282.39,93.82 L282.64,94 L282.88,94.18 L283.13,94.35 L283.38,94.52 L283.62,94.69 L283.87,94.85 L284.11,95.01 L284.36,95.17 L284.61,95.32 L284.85,95.47 L285.1,95.61 L285.35,95.75 L285.59,95.89 L285.84,96.03 L286.08,96.16 L286.33,96.29 L286.58,96.42 L286.82,96.54 L287.07,96.67 L287.31,96.78 L287.56,96.9 L287.81,97.01 L288.05,97.12 L288.3,97.23 L288.55,97.34 L288.79,97.44 L289.04,97.54 L289.29,97.64 L289.53,97.74 L289.78,97.83 L290.02,97.93 L290.27,98.02 L290.52,98.1 L290.76,98.19 L291.01,98.27 L291.25,98.36 L291.5,98.44 L291.75,98.52 L291.99,98.59 L292.24,98.67 L292.49,98.74 L292.73,98.81 L292.98,98.88 L293.23,98.95 L293.47,99.02 L293.72,99.08 L293.96,99.14 L294.21,99.2 L294.46,99.26 L294.7,99.32 L294.95,99.38 L295.19,99.44 L295.44,99.49 L295.69,99.54 L295.93,99.59 L296.18,99.64 L296.43,99.69 L296.67,99.74 L296.92,99.79 L297.17,99.83 L297.41,99.88 L297.66,99.92 L297.9,99.96 L298.15,100 L298.4,100.04 L298.64,100.08 L298.89,100.11 L299.13,100.15 L299.38,100.18 L299.63,100.21 L299.87,100.25 L300.12,100.28 L300.37,100.31 L300.61,100.34 L300.86,100.36 L301.11,100.39 L301.35,100.42 L301.6,100.44 L301.84,100.46 L302.09,100.49 L302.34,100.51 L302.58,100.53 L302.83,100.55 L303.07,100.57 L303.32,100.59 L303.57,100.6 L303.81,100.62 L304.06,100.63 L304.31,100.65 L304.55,100.66 L304.8,100.67 L305.05,100.68 L305.29,100.69 L305.54,100.7 L305.78,100.71 L306.03,100.72 L306.28,100.73 L306.52,100.73 L306.77,100.74 L307.01,100.74 L307.26,100.74 L307.51,100.75 L307.75,100.75 L308,100.75 L308.25,100.75 L308.49,100.75 L308.74,100.74 L308.99,100.74 L309.23,100.74 L309.48,100.73 L309.72,100.73 L309.97,100.72 L310.22,100.71 L310.46,100.7 L310.71,100.69 L310.95,100.68 L311.2,100.67 L311.45,100.66 L311.69,100.65 L311.94,100.63 L312.19,100.62 L312.43,100.6 L312.68,100.59 L312.93,100.57 L313.17,100.55 L313.42,100.53 L313.66,100.51 L313.91,100.49 L314.16,100.46 L314.4,100.44 L314.65,100.42 L314.89,100.39 L315.14,100.36 L315.39,100.34 L315.63,100.31 L315.88,100.28 L316.13,100.25 L316.37,100.21 L316.62,100.18 L316.87,100.15 L317.11,100.11 L317.36,100.08 L317.6,100.04 L317.85,100 L318.1,99.96 L318.34,99.92 L318.59,99.88 L318.83,99.83 L319.08,99.79 L319.33,99.74 L319.57,99.69 L319.82,99.64 L320.07,99.59 L320.31,99.54 L320.56,99.49 L320.81,99.44 L321.05,99.38 L321.3,99.32 L321.54,99.26 L321.79,99.2 L322.04,99.14 L322.28,99.08 L322.53,99.02 L322.77,98.95 L323.02,98.88 L323.27,98.81 L323.51,98.74 L323.76,98.67 L324.01,98.59 L324.25,98.52 L324.5,98.44 L324.75,98.36 L324.99,98.27 L325.24,98.19 L325.48,98.1 L325.73,98.02 L325.98,97.93 L326.22,97.83 L326.47,97.74 L326.71,97.64 L326.96,97.54 L327.21,97.44 L327.45,97.34 L327.7,97.23 L327.95,97.12 L328.19,97.01 L328.44,96.9 L328.69,96.78 L328.93,96.67 L329.18,96.54 L329.42,96.42 L329.67,96.29 L329.92,96.16 L330.16,96.03 L330.41,95.89 L330.65,95.75 L330.9,95.61 L331.15,95.47 L331.39,95.32 L331.64,95.17 L331.89,95.01 L332.13,94.85 L332.38,94.69 L332.62,94.52 L332.87,94.35 L333.12,94.18 L333.36,94 L333.61,93.82 L333.86,93.63 L334.1,93.44 L334.35,93.24 L334.6,93.04 L334.84,92.84 L335.09,92.63 L335.33,92.42 L335.58,92.2 L335.83,91.98 L336.07,91.75 L336.32,91.51 L336.56,91.27 L336.81,91.03 L337.06,90.78 L337.3,90.52 L337.55,90.26 L337.8,90 L338.04,89.72 L338.29,89.44 L338.54,89.16 L338.78,88.86 L339.03,88.56 L339.27,88.26 L339.52,87.95 L339.77,87.63 L340.01,87.3 L340.26,86.97 L340.5,86.63 L340.75,86.28 L341,85.92 L341.24,85.56 L341.49,85.19 L341.74,84.81 L341.98,84.42 L342.23,84.03 L342.48,83.63 L342.72,83.22 L342.97,82.8 L343.21,82.37 L343.46,81.93 L343.71,81.49 L343.95,81.04 L344.2,80.58 L344.44,80.11 L344.69,79.64 L344.94,79.15 L345.18,78.66 L345.43,78.16 L345.68,77.65 L345.92,77.14 L346.17,76.61 L346.42,76.08 L346.66,75.55 L346.91,75 L347.15,74.45 L347.4,73.9 L347.65,73.34 L347.89,72.77 L348.14,72.2 L348.38,71.63 L348.63,71.05 L348.88,70.47 L349.12,69.89 L349.37,69.31 L349.62,68.72 L349.86,68.14 L350.11,67.56 L350.36,66.98 L350.6,66.41 L350.85,65.84 L351.09,65.27 L351.34,64.72 L351.59,64.17 L351.83,63.63 L352.08,63.1 L352.32,62.58 L352.57,62.08 L352.82,61.59 L353.06,61.11 L353.31,60.66 L353.56,60.22 L353.8,59.8 L354.05,59.41 L354.3,59.03 L354.54,58.68 L354.79,58.36 L355.03,58.06 L355.28,57.79 L355.53,57.54 L355.77,57.33 L356.02,57.14 L356.26,56.99 L356.51,56.86 L356.76,56.77 L357,56.71 L357.25,56.68 L357.5,56.68 L357.74,56.72 L357.99,56.79 L358.24,56.88 L358.48,57.01 L358.73,57.17 L358.97,57.36 L359.22,57.58 L359.47,57.83 L359.71,58.11 L359.96,58.41 L360.2,58.74 L360.45,59.09 L360.7,59.46 L360.94,59.86 L361.19,60.28 L361.44,60.72 L361.68,61.17 L361.93,61.65 L362.18,62.13 L362.42,62.64 L362.67,63.15 L362.91,63.68 L363.16,64.21 L363.41,64.76 L363.65,65.31 L363.9,65.87 L364.14,66.44 L364.39,67.01 L364.64,67.58 L364.88,68.16 L365.13,68.73 L365.38,69.31 L365.62,69.89 L365.87,70.47 L366.12,71.04 L366.36,71.61 L366.61,72.18 L366.85,72.75 L367.1,73.31 L367.35,73.86 L367.59,74.41 L367.84,74.96 L368.08,75.5 L368.33,76.03 L368.58,76.56 L368.82,77.08 L369.07,77.59 L369.32,78.1 L369.56,78.6 L369.81,79.09 L370.06,79.57 L370.3,80.05 L370.55,80.52 L370.79,80.98 L371.04,81.43 L371.29,81.87 L371.53,82.31 L371.78,82.74 L372.02,83.16 L372.27,83.57 L372.52,83.98 L372.76,84.38 L373.01,84.77 L373.26,85.15 L373.5,85.52 L373.75,85.89 L374,86.25 L374.24,86.61 L374.49,86.95 L374.73,87.29 L374.98,87.63 L375.23,87.95 L375.47,88.27 L375.72,88.58 L375.97,88.89 L376.21,89.19 L376.46,89.48 L376.7,89.77 L376.95,90.05 L377.2,90.33 L377.44,90.6 L377.69,90.87 L377.94,91.13 L378.18,91.38 L378.43,91.63 L378.67,91.87 L378.92,92.11 L379.17,92.35 L379.41,92.58 L379.66,92.8 L379.9,93.02 L380.15,93.24 L380.4,93.45 L380.64,93.65 L380.89,93.86 L381.14,94.06 L381.38,94.25 L381.63,94.44 L381.88,94.63 L382.12,94.81 L382.37,94.99 L382.61,95.17 L382.86,95.34 L383.11,95.51 L383.35,95.68 L383.6,95.84 L383.85,96 L384.09,96.15 L384.34,96.31 L384.58,96.46 L384.83,96.61 L385.08,96.75 L385.32,96.89 L385.57,97.03 L385.81,97.17 L386.06,97.3 L386.31,97.43 L386.55,97.56 L386.8,97.69 L387.05,97.82 L387.29,97.94 L387.54,98.06 L387.78,98.18 L388.03,98.29 L388.28,98.4 L388.52,98.52 L388.77,98.63 L389.02,98.73 L389.26,98.84 L389.51,98.94 L389.75,99.04 L390,99.14 L390.25,99.24 L390.49,99.34 L390.74,99.43 L390.99,99.53 L391.23,99.62 L391.48,99.71 L391.73,99.8 L391.97,99.89 L392.22,99.97 L392.46,100.06 L392.71,100.14 L392.96,100.22 L393.2,100.3 L393.45,100.38 L393.69,100.46 L393.94,100.53 L394.19,100.61 L394.43,100.68 L394.68,100.75 L394.93,100.83 L395.17,100.9 L395.42,100.96 L395.66,101.03 L395.91,101.1 L396.16,101.17 L396.4,101.23 L396.65,101.3 L396.9,101.36 L397.14,101.42 L397.39,101.48 L397.63,101.54 L397.88,101.6 L398.13,101.66 L398.37,101.72 L398.62,101.77 L398.87,101.83 L399.11,101.88 L399.36,101.94 L399.61,101.99 L399.85,102.04 L400.1,102.09 L400.34,102.15 L400.59,102.2 L400.84,102.25 L401.08,102.29 L401.33,102.34 L401.57,102.39 L401.82,102.44 L402.07,102.48 L402.31,102.53 L402.56,102.57 L402.81,102.62 L403.05,102.66 L403.3,102.7 L403.55,102.75 L403.79,102.79 L404.04,102.83 L404.28,102.87 L404.53,102.91 L404.78,102.95 L405.02,102.99 L405.27,103.03 L405.51,103.07 L405.76,103.1 L406.01,103.14 L406.25,103.18 L406.5,103.21" fill="none" stroke="#2a5ee0" stroke-width="1.6"/>
<rect x="205.7" y="9.2" width="204.5" height="101.89999999999999" fill="none" stroke="#5c5c5c" stroke-width="1.4"/>
<line x1="209.5" y1="111.1" x2="209.5" y2="108.1" stroke="#5c5c5c" stroke-width="1.2"/>
<line x1="258.75" y1="111.1" x2="258.75" y2="108.1" stroke="#5c5c5c" stroke-width="1.2"/>
<line x1="308" y1="111.1" x2="308" y2="108.1" stroke="#5c5c5c" stroke-width="1.2"/>
<line x1="357.25" y1="111.1" x2="357.25" y2="108.1" stroke="#5c5c5c" stroke-width="1.2"/>
<line x1="406.5" y1="111.1" x2="406.5" y2="108.1" stroke="#5c5c5c" stroke-width="1.2"/>
<line x1="410.2" y1="106" x2="407.2" y2="106" stroke="#5c5c5c" stroke-width="1.2"/>
<line x1="410.2" y1="35" x2="407.2" y2="35" stroke="#5c5c5c" stroke-width="1.2"/>
<defs><linearGradient id="cb" x1="0" x2="1" y1="0" y2="0"><stop offset="0" stop-color="#dcf2fa"/><stop offset="0.5" stop-color="#6aa6e6"/><stop offset="1" stop-color="#1a48d8"/></linearGradient></defs>
<rect x="340" y="32.7" width="55.7" height="7.1" fill="url(#cb)"/>
<line x1="340.5" y1="39.8" x2="340.5" y2="41.5" stroke="#aaa" stroke-width="0.8"/>
<line x1="368" y1="39.8" x2="368" y2="41.5" stroke="#aaa" stroke-width="0.8"/>
<line x1="395.2" y1="39.8" x2="395.2" y2="41.5" stroke="#aaa" stroke-width="0.8"/>
<line x1="281.76" y1="157.2" x2="281.76" y2="256.7" stroke="#687a82" stroke-width="1.4" stroke-dasharray="6.4,4.2,2.2,3.3,2.5,3"/>
<line x1="353.03" y1="157.2" x2="353.03" y2="256.7" stroke="#687a82" stroke-width="1.4" stroke-dasharray="6.4,4.2,2.2,3.3,2.5,3"/>
<line x1="210" y1="251.9" x2="406.6" y2="159.4" stroke="#2a88e0" stroke-width="1.9" stroke-dasharray="3,2.36"/>
<path d="M210,251.9 L281.76,251.9 L281.76,251.9 L282.18,246.33 L282.59,244.04 L283.01,242.3 L283.43,240.84 L283.85,239.56 L284.26,238.41 L284.68,237.37 L285.1,236.4 L285.52,235.49 L285.93,234.64 L286.35,233.83 L286.77,233.07 L287.19,232.34 L287.6,231.64 L288.02,230.97 L288.44,230.32 L288.86,229.7 L289.27,229.1 L289.69,228.51 L290.11,227.95 L290.53,227.4 L290.94,226.86 L291.36,226.34 L291.78,225.83 L292.2,225.34 L292.61,224.85 L293.03,224.38 L293.45,223.91 L293.87,223.46 L294.28,223.02 L294.7,222.58 L295.12,222.15 L295.54,221.73 L295.95,221.32 L296.37,220.91 L296.79,220.51 L297.21,220.12 L297.63,219.73 L298.04,219.35 L298.46,218.97 L298.88,218.6 L299.3,218.23 L299.71,217.87 L300.13,217.52 L300.55,217.16 L300.97,216.82 L301.38,216.47 L301.8,216.13 L302.22,215.8 L302.64,215.46 L303.05,215.14 L303.47,214.81 L303.89,214.49 L304.31,214.17 L304.72,213.85 L305.14,213.54 L305.56,213.23 L305.98,212.92 L306.39,212.62 L306.81,212.32 L307.23,212.02 L307.65,211.72 L308.06,211.42 L308.48,211.13 L308.9,210.84 L309.32,210.55 L309.73,210.27 L310.15,209.98 L310.57,209.7 L310.99,209.42 L311.4,209.14 L311.82,208.87 L312.24,208.59 L312.66,208.32 L313.07,208.05 L313.49,207.78 L313.91,207.51 L314.33,207.24 L314.74,206.98 L315.16,206.71 L315.58,206.45 L316,206.19 L316.41,205.93 L316.83,205.67 L317.25,205.41 L317.67,205.16 L318.08,204.9 L318.5,204.65 L318.92,204.39 L319.34,204.14 L319.75,203.89 L320.17,203.64 L320.59,203.39 L321.01,203.15 L321.42,202.9 L321.84,202.66 L322.26,202.41 L322.68,202.17 L323.09,201.92 L323.51,201.68 L323.93,201.44 L324.35,201.2 L324.76,200.96 L325.18,200.72 L325.6,200.48 L326.02,200.25 L326.43,200.01 L326.85,199.77 L327.27,199.54 L327.69,199.3 L328.1,199.07 L328.52,198.84 L328.94,198.61 L329.36,198.37 L329.77,198.14 L330.19,197.91 L330.61,197.68 L331.03,197.45 L331.44,197.22 L331.86,196.99 L332.28,196.77 L332.7,196.54 L333.11,196.31 L333.53,196.09 L333.95,195.86 L334.37,195.64 L334.79,195.41 L335.2,195.19 L335.62,194.96 L336.04,194.74 L336.46,194.52 L336.87,194.29 L337.29,194.07 L337.71,193.85 L338.13,193.63 L338.54,193.41 L338.96,193.19 L339.38,192.97 L339.8,192.75 L340.21,192.53 L340.63,192.31 L341.05,192.09 L341.47,191.87 L341.88,191.65 L342.3,191.43 L342.72,191.22 L343.14,191 L343.55,190.78 L343.97,190.57 L344.39,190.35 L344.81,190.13 L345.22,189.92 L345.64,189.7 L346.06,189.49 L346.48,189.27 L346.89,189.06 L347.31,188.84 L347.73,188.63 L348.15,188.42 L348.56,188.2 L348.98,187.99 L349.4,187.78 L349.82,187.56 L350.23,187.35 L350.65,187.14 L351.07,186.93 L351.49,186.71 L351.9,186.5 L352.32,186.29 L352.74,186.08 L353.16,185.87 L353.57,185.66 L353.99,185.45 L354.41,185.24 L354.83,185.03 L355.24,184.82 L355.66,184.61 L356.08,184.4 L356.5,184.19 L356.91,183.98 L357.33,183.77 L357.75,183.56 L358.17,183.35 L358.58,183.14 L359,182.93 L359.42,182.73 L359.84,182.52 L360.25,182.31 L360.67,182.1 L361.09,181.89 L361.51,181.69 L361.92,181.48 L362.34,181.27 L362.76,181.07 L363.18,180.86 L363.59,180.65 L364.01,180.44 L364.43,180.24 L364.85,180.03 L365.26,179.83 L365.68,179.62 L366.1,179.41 L366.52,179.21 L366.93,179 L367.35,178.8 L367.77,178.59 L368.19,178.38 L368.6,178.18 L369.02,177.97 L369.44,177.77 L369.86,177.56 L370.28,177.36 L370.69,177.15 L371.11,176.95 L371.53,176.74 L371.95,176.54 L372.36,176.34 L372.78,176.13 L373.2,175.93 L373.62,175.72 L374.03,175.52 L374.45,175.32 L374.87,175.11 L375.29,174.91 L375.7,174.7 L376.12,174.5 L376.54,174.3 L376.96,174.09 L377.37,173.89 L377.79,173.69 L378.21,173.48 L378.63,173.28 L379.04,173.08 L379.46,172.87 L379.88,172.67 L380.3,172.47 L380.71,172.27 L381.13,172.06 L381.55,171.86 L381.97,171.66 L382.38,171.46 L382.8,171.25 L383.22,171.05 L383.64,170.85 L384.05,170.65 L384.47,170.44 L384.89,170.24 L385.31,170.04 L385.72,169.84 L386.14,169.64 L386.56,169.44 L386.98,169.23 L387.39,169.03 L387.81,168.83 L388.23,168.63 L388.65,168.43 L389.06,168.23 L389.48,168.02 L389.9,167.82 L390.32,167.62 L390.73,167.42 L391.15,167.22 L391.57,167.02 L391.99,166.82 L392.4,166.62 L392.82,166.41 L393.24,166.21 L393.66,166.01 L394.07,165.81 L394.49,165.61 L394.91,165.41 L395.33,165.21 L395.74,165.01 L396.16,164.81 L396.58,164.61 L397,164.41 L397.41,164.21 L397.83,164.01 L398.25,163.81 L398.67,163.61 L399.08,163.41 L399.5,163.21 L399.92,163.01 L400.34,162.8 L400.75,162.6 L401.17,162.4 L401.59,162.2 L402.01,162 L402.42,161.8 L402.84,161.6 L403.26,161.4 L403.68,161.2 L404.09,161 L404.51,160.8 L404.93,160.61 L405.35,160.41 L405.76,160.21 L406.18,160.01 L406.6,159.81" fill="none" stroke="#e8283a" stroke-width="1.6"/>
<rect x="205.5" y="154.75" width="204.0" height="101.94999999999999" fill="none" stroke="#6a6a6a" stroke-width="1.4"/>
<line x1="210" y1="256.7" x2="210" y2="253.7" stroke="#6a6a6a" stroke-width="1.2"/>
<line x1="259.15" y1="256.7" x2="259.15" y2="253.7" stroke="#6a6a6a" stroke-width="1.2"/>
<line x1="308.3" y1="256.7" x2="308.3" y2="253.7" stroke="#6a6a6a" stroke-width="1.2"/>
<line x1="357.45" y1="256.7" x2="357.45" y2="253.7" stroke="#6a6a6a" stroke-width="1.2"/>
<line x1="406.6" y1="256.7" x2="406.6" y2="253.7" stroke="#6a6a6a" stroke-width="1.2"/>
<line x1="409.5" y1="251.9" x2="406.5" y2="251.9" stroke="#6a6a6a" stroke-width="1.2"/>
<line x1="409.5" y1="205.65" x2="406.5" y2="205.65" stroke="#6a6a6a" stroke-width="1.2"/>
<line x1="409.5" y1="159.4" x2="406.5" y2="159.4" stroke="#6a6a6a" stroke-width="1.2"/>
<line x1="353" y1="223.6" x2="381" y2="223.6" stroke="#e8283a" stroke-width="1.6"/>
<line x1="353.5" y1="244.3" x2="378.5" y2="244.3" stroke="#3a94e2" stroke-width="1.4" stroke-dasharray="3.4,2.8"/>
<line x1="320" y1="237.4" x2="299" y2="245.4" stroke="#111" stroke-width="2"/>
<path d="M285.8,250.3 L302.5,239.6 L299.6,245.3 L305.6,247.6 Z" fill="#111"/>
<path d="M493.75,252.72 L494.18,252.63 L494.6,252.16 L495.03,251.99 L495.46,251.85 L495.89,251.93 L496.31,251.79 L496.74,251.73 L497.17,251.59 L497.6,251.43 L498.02,251.42 L498.45,251.46 L498.88,251.67 L499.3,251.5 L499.73,251.27 L500.16,250.95 L500.59,250.7 L501.01,250.75 L501.44,250.6 L501.87,250.54 L502.3,250.33 L502.72,250.5 L503.15,250.55 L503.58,250.38 L504,250.07 L504.43,250.01 L504.86,250.01 L505.29,249.91 L505.71,249.73 L506.14,249.73 L506.57,249.91 L506.99,249.71 L507.42,249.48 L507.85,249.11 L508.28,248.9 L508.7,248.77 L509.13,248.65 L509.56,248.91 L509.99,248.89 L510.41,248.73 L510.84,248.58 L511.27,248.46 L511.69,248.35 L512.12,248.12 L512.55,247.99 L512.98,247.98 L513.4,247.93 L513.83,247.66 L514.26,247.61 L514.69,247.6 L515.11,247.8 L515.54,247.83 L515.97,247.73 L516.39,247.67 L516.82,247.34 L517.25,247.19 L517.68,246.74 L518.1,246.67 L518.53,246.27 L518.96,246.44 L519.39,246.52 L519.81,246.57 L520.24,246.53 L520.67,246.23 L521.09,246.16 L521.52,245.9 L521.95,245.77 L522.38,245.72 L522.8,245.82 L523.23,245.77 L523.66,245.76 L524.09,245.51 L524.51,245.77 L524.94,245.71 L525.37,245.8 L525.79,245.7 L526.22,245.7 L526.65,245.53 L527.08,245.65 L527.5,245.54 L527.93,245.76 L528.36,245.75 L528.79,245.86 L529.21,245.92 L529.64,246.04 L530.07,246.18 L530.49,246.14 L530.92,245.78 L531.35,245.73 L531.78,245.8 L532.2,246.06 L532.63,246.08 L533.06,246.17 L533.48,246.15 L533.91,246.21 L534.34,246.18 L534.77,246.08 L535.19,245.97 L535.62,245.99 L536.05,246.02 L536.48,245.73 L536.9,245.29 L537.33,245.01 L537.76,244.97 L538.18,244.65 L538.61,244.16 L539.04,243.54 L539.47,243.11 L539.89,242.66 L540.32,242.1 L540.75,241.38 L541.18,240.62 L541.6,240.01 L542.03,239.18 L542.46,238.46 L542.88,237.62 L543.31,236.85 L543.74,235.81 L544.17,234.92 L544.59,233.84 L545.02,232.99 L545.45,231.79 L545.88,230.68 L546.3,229.65 L546.73,228.74 L547.16,227.89 L547.58,226.87 L548.01,225.77 L548.44,224.7 L548.87,223.66 L549.29,222.94 L549.72,222.14 L550.15,221.16 L550.58,220.11 L551,219.08 L551.43,218.23 L551.86,217.43 L552.28,216.63 L552.71,215.75 L553.14,214.85 L553.57,214.25 L553.99,213.81 L554.42,213.46 L554.85,212.87 L555.28,212.49 L555.7,212.03 L556.13,211.79 L556.56,211.57 L556.98,211.43 L557.41,211.3 L557.84,211.35 L558.27,211.29 L558.69,211.58 L559.12,211.74 L559.55,212.25 L559.97,212.59 L560.4,213.06 L560.83,213.55 L561.26,214.32 L561.68,214.89 L562.11,215.61 L562.54,216.22 L562.97,216.95 L563.39,218.02 L563.82,218.89 L564.25,219.75 L564.67,220.52 L565.1,221.34 L565.53,222.47 L565.96,223.37 L566.38,224.38 L566.81,225.28 L567.24,226.12 L567.67,227.16 L568.09,228.02 L568.52,228.92 L568.95,229.88 L569.37,231.1 L569.8,232.23 L570.23,233.33 L570.66,234.19 L571.08,234.95 L571.51,235.62 L571.94,236.17 L572.37,236.93 L572.79,237.63 L573.22,238.61 L573.65,239.51 L574.07,240.27 L574.5,240.87 L574.93,241.31 L575.36,241.99 L575.78,242.68 L576.21,243.46 L576.64,243.95 L577.07,244.66 L577.49,245.23 L577.92,245.77 L578.35,245.97 L578.77,246.24 L579.2,246.66 L579.63,247.08 L580.06,247.51 L580.48,247.9 L580.91,248.35 L581.34,248.7 L581.77,248.88 L582.19,249.04 L582.62,249.12 L583.05,249.29 L583.47,249.64 L583.9,249.83 L584.33,250.26 L584.76,250.2 L585.18,250.43 L585.61,250.48 L586.04,250.66 L586.46,250.8 L586.89,250.79 L587.32,250.86 L587.75,250.91 L588.17,250.98 L588.6,251.3 L589.03,251.4 L589.46,251.74 L589.88,251.41 L590.31,251.53 L590.74,251.51 L591.16,251.85 L591.59,252.05 L592.02,252.15 L592.45,252.25 L592.87,252.28 L593.3,252.58 L593.73,252.72 L594.16,252.8 L594.58,252.56 L595.01,252.63 L595.44,252.56 L595.86,252.66 L596.29,252.97 L596.72,253.29 L597.15,253.45 L597.57,253.39 L598,253.54 L598.43,253.61 L598.86,253.78 L599.28,253.76 L599.71,253.79 L600.14,253.82 L600.56,253.54 L600.99,253.52 L601.42,253.44 L601.85,253.64 L602.27,253.74 L602.7,253.7 L603.13,253.78 L603.56,254.11 L603.98,254.29 L604.41,254.39 L604.84,254.3 L605.26,254.25 L605.69,254.38 L606.12,254.32 L606.55,254.55 L606.97,254.35 L607.4,254.42 L607.83,254.3 L608.26,254.35 L608.68,254.41 L609.11,254.33 L609.54,254.63 L609.96,254.59 L610.39,254.76 L610.82,254.62 L611.25,254.67 L611.67,254.42 L612.1,254.43 L612.53,254.28 L612.95,254.49 L613.38,254.48 L613.81,254.6 L614.24,254.48 L614.66,254.66 L615.09,254.82 L615.52,254.87 L615.95,254.67 L616.37,254.45 L616.8,254.57 L617.23,254.74 L617.65,254.56 L618.08,254.34 L618.51,254.02 L618.94,253.99 L619.36,253.85 L619.79,253.95 L620.22,253.9 L620.65,254.17 L621.07,254.18 L621.5,254.24" fill="none" stroke="#88e8dc" stroke-width="2.2"/>
<path d="M493.75,202.29 L494.18,202.17 L494.6,202.35 L495.03,202.31 L495.46,202.15 L495.89,201.93 L496.31,201.98 L496.74,201.98 L497.17,202.06 L497.6,201.96 L498.02,201.98 L498.45,201.65 L498.88,201.52 L499.3,201.36 L499.73,201.12 L500.16,201.05 L500.59,200.79 L501.01,200.91 L501.44,200.62 L501.87,200.89 L502.3,200.82 L502.72,200.94 L503.15,200.72 L503.58,200.44 L504,200 L504.43,199.76 L504.86,199.87 L505.29,199.99 L505.71,199.98 L506.14,199.86 L506.57,199.59 L506.99,199.42 L507.42,199.4 L507.85,199.37 L508.28,199.02 L508.7,198.68 L509.13,198.57 L509.56,198.7 L509.99,198.52 L510.41,198.46 L510.84,198.08 L511.27,198.14 L511.69,198.18 L512.12,198.42 L512.55,198.07 L512.98,197.84 L513.4,197.3 L513.83,197.38 L514.26,197.24 L514.69,197.33 L515.11,197.24 L515.54,197.17 L515.97,197.27 L516.39,197.16 L516.82,197.08 L517.25,196.71 L517.68,196.5 L518.1,196.35 L518.53,196.5 L518.96,196.54 L519.39,196.68 L519.81,196.5 L520.24,196.41 L520.67,196.23 L521.09,196.25 L521.52,196.27 L521.95,196.15 L522.38,196.27 L522.8,196.15 L523.23,196.28 L523.66,196.1 L524.09,196.25 L524.51,195.96 L524.94,195.97 L525.37,195.74 L525.79,195.86 L526.22,195.87 L526.65,195.75 L527.08,195.53 L527.5,195.24 L527.93,195.3 L528.36,195.16 L528.79,195.18 L529.21,194.92 L529.64,194.87 L530.07,194.7 L530.49,194.72 L530.92,194.62 L531.35,194.44 L531.78,194.21 L532.2,194.05 L532.63,193.61 L533.06,193.34 L533.48,193.12 L533.91,193.22 L534.34,193.18 L534.77,192.93 L535.19,192.49 L535.62,191.83 L536.05,191.39 L536.48,191.06 L536.9,190.85 L537.33,190.3 L537.76,189.77 L538.18,189.22 L538.61,188.97 L539.04,188.42 L539.47,187.71 L539.89,186.87 L540.32,186.21 L540.75,185.59 L541.18,185.11 L541.6,184.62 L542.03,184.12 L542.46,183.51 L542.88,182.71 L543.31,182.03 L543.74,181.22 L544.17,180.63 L544.59,180.07 L545.02,179.47 L545.45,178.65 L545.88,177.88 L546.3,177.19 L546.73,176.61 L547.16,175.96 L547.58,175.53 L548.01,175.26 L548.44,174.72 L548.87,174.16 L549.29,173.56 L549.72,172.95 L550.15,172.32 L550.58,171.68 L551,171.31 L551.43,170.68 L551.86,170.18 L552.28,169.83 L552.71,169.7 L553.14,169.53 L553.57,169.02 L553.99,168.75 L554.42,168.33 L554.85,167.95 L555.28,167.6 L555.7,167.3 L556.13,167.33 L556.56,167.12 L556.98,167.2 L557.41,167.14 L557.84,167.13 L558.27,167.16 L558.69,167.27 L559.12,167.39 L559.55,167.61 L559.97,167.76 L560.4,167.99 L560.83,168.1 L561.26,168.32 L561.68,168.68 L562.11,169.3 L562.54,169.76 L562.97,170.25 L563.39,170.41 L563.82,170.92 L564.25,171.57 L564.67,172.28 L565.1,172.81 L565.53,173.2 L565.96,173.58 L566.38,174.14 L566.81,174.63 L567.24,175.22 L567.67,175.94 L568.09,176.71 L568.52,177.48 L568.95,178.07 L569.37,178.53 L569.8,179.15 L570.23,179.75 L570.66,180.66 L571.08,181.42 L571.51,182.29 L571.94,182.89 L572.37,183.38 L572.79,184.13 L573.22,185.03 L573.65,185.81 L574.07,186.48 L574.5,187.22 L574.93,188.01 L575.36,188.9 L575.78,189.48 L576.21,190.19 L576.64,190.85 L577.07,191.6 L577.49,192.3 L577.92,192.89 L578.35,193.28 L578.77,194.11 L579.2,194.49 L579.63,195.24 L580.06,195.51 L580.48,196.1 L580.91,196.6 L581.34,196.97 L581.77,197.4 L582.19,197.65 L582.62,198.01 L583.05,198.23 L583.47,198.46 L583.9,198.73 L584.33,199.12 L584.76,199.45 L585.18,199.88 L585.61,200.05 L586.04,200.17 L586.46,200.06 L586.89,200.12 L587.32,200.42 L587.75,200.76 L588.17,200.89 L588.6,201.1 L589.03,201.05 L589.46,201.13 L589.88,201.15 L590.31,201.65 L590.74,201.92 L591.16,201.9 L591.59,201.83 L592.02,201.94 L592.45,202.22 L592.87,202.21 L593.3,202.14 L593.73,202.14 L594.16,202.3 L594.58,202.63 L595.01,202.91 L595.44,202.89 L595.86,202.77 L596.29,202.65 L596.72,202.79 L597.15,202.99 L597.57,203.15 L598,203.31 L598.43,203.5 L598.86,203.54 L599.28,203.52 L599.71,203.34 L600.14,203.36 L600.56,203.48 L600.99,203.56 L601.42,203.84 L601.85,204.07 L602.27,204.33 L602.7,204.29 L603.13,204.23 L603.56,204.29 L603.98,204.67 L604.41,204.72 L604.84,204.94 L605.26,204.93 L605.69,205.27 L606.12,205.33 L606.55,205.44 L606.97,205.41 L607.4,205.6 L607.83,205.76 L608.26,205.86 L608.68,205.81 L609.11,205.77 L609.54,206.06 L609.96,206.35 L610.39,206.48 L610.82,206.39 L611.25,206.21 L611.67,206.24 L612.1,206.4 L612.53,206.46 L612.95,206.49 L613.38,206.53 L613.81,206.78 L614.24,206.71 L614.66,206.77 L615.09,206.57 L615.52,206.64 L615.95,206.59 L616.37,206.86 L616.8,207.23 L617.23,207.26 L617.65,207.14 L618.08,206.89 L618.51,206.7 L618.94,206.69 L619.36,206.42 L619.79,206.66 L620.22,206.67 L620.65,206.77 L621.07,206.45 L621.5,206.22" fill="none" stroke="#7ae4dc" stroke-width="2.2"/>
<path d="M493.75,158.94 L494.18,158.91 L494.6,158.76 L495.03,158.5 L495.46,158.47 L495.89,158.44 L496.31,158.57 L496.74,158.46 L497.17,158.17 L497.6,158.1 L498.02,158 L498.45,157.99 L498.88,157.76 L499.3,157.7 L499.73,157.7 L500.16,157.67 L500.59,157.54 L501.01,157.41 L501.44,157.39 L501.87,157.18 L502.3,156.88 L502.72,156.54 L503.15,156.36 L503.58,156.29 L504,156.27 L504.43,156.07 L504.86,155.87 L505.29,155.52 L505.71,155.53 L506.14,155.31 L506.57,155.29 L506.99,154.93 L507.42,154.78 L507.85,154.52 L508.28,154.6 L508.7,154.51 L509.13,154.41 L509.56,153.99 L509.99,153.75 L510.41,153.67 L510.84,153.79 L511.27,153.56 L511.69,153.28 L512.12,152.96 L512.55,152.91 L512.98,152.71 L513.4,152.61 L513.83,152.63 L514.26,152.52 L514.69,152.44 L515.11,152.36 L515.54,152.52 L515.97,152.37 L516.39,152.42 L516.82,152.3 L517.25,152.19 L517.68,152 L518.1,151.78 L518.53,151.91 L518.96,151.64 L519.39,151.81 L519.81,151.64 L520.24,151.87 L520.67,151.86 L521.09,151.98 L521.52,151.89 L521.95,151.95 L522.38,151.76 L522.8,151.84 L523.23,151.82 L523.66,152.1 L524.09,152.18 L524.51,152.56 L524.94,152.55 L525.37,152.59 L525.79,152.26 L526.22,152.42 L526.65,152.15 L527.08,152.3 L527.5,152.05 L527.93,151.99 L528.36,151.66 L528.79,151.64 L529.21,151.79 L529.64,151.78 L530.07,151.74 L530.49,151.56 L530.92,151.38 L531.35,150.89 L531.78,150.73 L532.2,150.6 L532.63,150.51 L533.06,150 L533.48,149.47 L533.91,149.37 L534.34,149.17 L534.77,148.89 L535.19,148.27 L535.62,148.02 L536.05,147.62 L536.48,147.2 L536.9,146.55 L537.33,146.14 L537.76,145.86 L538.18,145.51 L538.61,145.11 L539.04,144.51 L539.47,144 L539.89,143.37 L540.32,142.79 L540.75,142.28 L541.18,141.71 L541.6,141.02 L542.03,140.29 L542.46,139.57 L542.88,138.99 L543.31,138.3 L543.74,137.63 L544.17,136.69 L544.59,135.96 L545.02,135.29 L545.45,134.54 L545.88,133.91 L546.3,133.05 L546.73,132.42 L547.16,131.35 L547.58,130.73 L548.01,129.98 L548.44,129.46 L548.87,128.8 L549.29,128.23 L549.72,127.66 L550.15,127.03 L550.58,126.71 L551,126.51 L551.43,126.35 L551.86,126.14 L552.28,125.82 L552.71,125.6 L553.14,125.34 L553.57,125.45 L553.99,125.36 L554.42,125.16 L554.85,124.8 L555.28,124.9 L555.7,124.94 L556.13,124.99 L556.56,124.87 L556.98,124.89 L557.41,125.04 L557.84,125.16 L558.27,125.18 L558.69,125.18 L559.12,124.91 L559.55,124.9 L559.97,124.81 L560.4,124.94 L560.83,125.01 L561.26,125.11 L561.68,124.99 L562.11,125.04 L562.54,124.95 L562.97,125.29 L563.39,125.6 L563.82,125.95 L564.25,125.95 L564.67,126.12 L565.1,126.38 L565.53,126.66 L565.96,126.91 L566.38,127.32 L566.81,128 L567.24,128.59 L567.67,129.11 L568.09,129.66 L568.52,130.28 L568.95,130.89 L569.37,131.47 L569.8,132.18 L570.23,132.92 L570.66,134.04 L571.08,134.9 L571.51,135.78 L571.94,136.37 L572.37,137.2 L572.79,138.03 L573.22,138.98 L573.65,139.85 L574.07,140.82 L574.5,141.54 L574.93,142.41 L575.36,143.23 L575.78,143.98 L576.21,144.74 L576.64,145.43 L577.07,146.25 L577.49,146.9 L577.92,147.38 L578.35,148.21 L578.77,148.81 L579.2,149.51 L579.63,150.07 L580.06,150.57 L580.48,151.36 L580.91,151.88 L581.34,152.64 L581.77,153.03 L582.19,153.34 L582.62,153.55 L583.05,154.14 L583.47,154.62 L583.9,155.15 L584.33,155.53 L584.76,155.86 L585.18,156.21 L585.61,156.34 L586.04,156.68 L586.46,156.87 L586.89,157.1 L587.32,157.49 L587.75,157.89 L588.17,157.87 L588.6,157.75 L589.03,157.9 L589.46,158.36 L589.88,158.69 L590.31,158.92 L590.74,158.9 L591.16,159.2 L591.59,159.25 L592.02,159.6 L592.45,159.63 L592.87,159.81 L593.3,159.83 L593.73,159.84 L594.16,159.92 L594.58,160.04 L595.01,160.05 L595.44,160.17 L595.86,160.33 L596.29,160.65 L596.72,160.58 L597.15,160.53 L597.57,160.39 L598,160.31 L598.43,160.31 L598.86,160.39 L599.28,160.44 L599.71,160.63 L600.14,160.46 L600.56,160.45 L600.99,160.2 L601.42,160.49 L601.85,160.55 L602.27,160.58 L602.7,160.35 L603.13,160.29 L603.56,160.18 L603.98,160.35 L604.41,160.47 L604.84,160.69 L605.26,160.5 L605.69,160.67 L606.12,160.45 L606.55,160.29 L606.97,159.99 L607.4,160.08 L607.83,160.34 L608.26,160.25 L608.68,160.28 L609.11,160.36 L609.54,160.36 L609.96,160.21 L610.39,159.86 L610.82,159.95 L611.25,160.11 L611.67,160.35 L612.1,160.4 L612.53,160.46 L612.95,160.4 L613.38,160.41 L613.81,160.19 L614.24,160.11 L614.66,160.06 L615.09,160.09 L615.52,160.25 L615.95,160.4 L616.37,160.56 L616.8,160.47 L617.23,160.31 L617.65,160.46 L618.08,160.51 L618.51,160.66 L618.94,160.57 L619.36,160.73 L619.79,160.92 L620.22,160.99 L620.65,160.94 L621.07,161.08 L621.5,161.25" fill="none" stroke="#62dedc" stroke-width="2.2"/>
<path d="M493.75,117.09 L494.18,116.97 L494.6,116.9 L495.03,116.82 L495.46,116.82 L495.89,116.58 L496.31,116.28 L496.74,116.04 L497.17,115.94 L497.6,115.88 L498.02,115.62 L498.45,115.21 L498.88,115.05 L499.3,115.04 L499.73,115.18 L500.16,115.14 L500.59,114.99 L501.01,114.72 L501.44,114.49 L501.87,114.24 L502.3,114.24 L502.72,114 L503.15,113.89 L503.58,113.63 L504,113.45 L504.43,113.09 L504.86,112.91 L505.29,112.52 L505.71,112.56 L506.14,112.5 L506.57,112.78 L506.99,112.61 L507.42,112.29 L507.85,111.78 L508.28,111.79 L508.7,111.58 L509.13,111.68 L509.56,111.12 L509.99,111.12 L510.41,110.97 L510.84,111.11 L511.27,110.98 L511.69,110.71 L512.12,110.48 L512.55,110.47 L512.98,110.49 L513.4,110.46 L513.83,110.29 L514.26,110.06 L514.69,110.09 L515.11,110.11 L515.54,110.05 L515.97,109.89 L516.39,109.81 L516.82,109.76 L517.25,109.89 L517.68,109.88 L518.1,109.86 L518.53,109.7 L518.96,109.66 L519.39,109.52 L519.81,109.42 L520.24,109.19 L520.67,109.23 L521.09,109.18 L521.52,109.09 L521.95,108.9 L522.38,108.62 L522.8,108.58 L523.23,108.7 L523.66,108.75 L524.09,108.64 L524.51,108.47 L524.94,108.49 L525.37,108.44 L525.79,108.24 L526.22,107.94 L526.65,107.85 L527.08,107.71 L527.5,107.52 L527.93,107.21 L528.36,106.96 L528.79,106.88 L529.21,106.44 L529.64,106.45 L530.07,106.07 L530.49,105.9 L530.92,105.51 L531.35,105.1 L531.78,104.98 L532.2,104.73 L532.63,104.52 L533.06,104.1 L533.48,103.78 L533.91,103.42 L534.34,103.1 L534.77,102.68 L535.19,102.52 L535.62,102.08 L536.05,101.65 L536.48,101.19 L536.9,100.56 L537.33,100.1 L537.76,99.35 L538.18,98.95 L538.61,98.7 L539.04,98.42 L539.47,98.24 L539.89,97.5 L540.32,96.99 L540.75,96.24 L541.18,95.63 L541.6,94.97 L542.03,94.4 L542.46,93.97 L542.88,93.3 L543.31,92.66 L543.74,91.82 L544.17,91.21 L544.59,90.43 L545.02,90 L545.45,89.42 L545.88,89.12 L546.3,88.64 L546.73,88.54 L547.16,88.42 L547.58,88.35 L548.01,88.26 L548.44,88.29 L548.87,88.46 L549.29,88.64 L549.72,88.92 L550.15,89.22 L550.58,89.46 L551,89.45 L551.43,89.71 L551.86,90.11 L552.28,90.44 L552.71,90.45 L553.14,90.25 L553.57,90.56 L553.99,90.68 L554.42,91.23 L554.85,91.04 L555.28,91.25 L555.7,91.2 L556.13,91.45 L556.56,91.36 L556.98,91.27 L557.41,91.17 L557.84,91.08 L558.27,90.86 L558.69,90.64 L559.12,90.4 L559.55,90.21 L559.97,89.93 L560.4,89.65 L560.83,89.18 L561.26,88.99 L561.68,88.53 L562.11,88.39 L562.54,87.71 L562.97,87.48 L563.39,86.99 L563.82,87.19 L564.25,87.14 L564.67,87.05 L565.1,86.83 L565.53,86.93 L565.96,87.1 L566.38,87.31 L566.81,87.17 L567.24,87.23 L567.67,87.47 L568.09,88.14 L568.52,88.56 L568.95,88.93 L569.37,89.01 L569.8,89.62 L570.23,89.99 L570.66,90.54 L571.08,90.75 L571.51,91.31 L571.94,91.95 L572.37,92.87 L572.79,93.42 L573.22,94.14 L573.65,94.63 L574.07,95.39 L574.5,95.89 L574.93,96.46 L575.36,97.09 L575.78,98.08 L576.21,98.87 L576.64,99.7 L577.07,100.41 L577.49,101.08 L577.92,101.94 L578.35,102.55 L578.77,103.55 L579.2,104.36 L579.63,105.15 L580.06,105.86 L580.48,106.57 L580.91,107.36 L581.34,108 L581.77,108.57 L582.19,109.01 L582.62,109.81 L583.05,110.27 L583.47,110.95 L583.9,111.47 L584.33,112.11 L584.76,112.46 L585.18,112.57 L585.61,112.75 L586.04,113.16 L586.46,113.53 L586.89,113.83 L587.32,114.22 L587.75,114.3 L588.17,114.43 L588.6,114.31 L589.03,114.57 L589.46,114.81 L589.88,114.97 L590.31,115.18 L590.74,115.36 L591.16,115.51 L591.59,115.35 L592.02,115.54 L592.45,115.64 L592.87,115.98 L593.3,116.04 L593.73,116.18 L594.16,116.33 L594.58,116.51 L595.01,116.76 L595.44,117.04 L595.86,117.1 L596.29,117.28 L596.72,117.3 L597.15,117.52 L597.57,117.73 L598,117.97 L598.43,118.02 L598.86,118.13 L599.28,118.32 L599.71,118.73 L600.14,118.9 L600.56,118.99 L600.99,118.91 L601.42,119.25 L601.85,119.34 L602.27,119.48 L602.7,119.4 L603.13,119.45 L603.56,119.8 L603.98,119.96 L604.41,120.31 L604.84,120.22 L605.26,120.27 L605.69,120.41 L606.12,120.71 L606.55,121.14 L606.97,121.26 L607.4,121.07 L607.83,120.88 L608.26,120.82 L608.68,121.19 L609.11,121.24 L609.54,121.39 L609.96,121.31 L610.39,121.43 L610.82,121.57 L611.25,121.58 L611.67,121.35 L612.1,121.13 L612.53,121.36 L612.95,121.6 L613.38,121.68 L613.81,121.42 L614.24,121.49 L614.66,121.53 L615.09,121.59 L615.52,121.4 L615.95,121.31 L616.37,121.23 L616.8,121.28 L617.23,121.36 L617.65,121.12 L618.08,120.83 L618.51,120.59 L618.94,120.69 L619.36,120.56 L619.79,120.38 L620.22,120.2 L620.65,120.16 L621.07,120.02 L621.5,119.9" fill="none" stroke="#52d4de" stroke-width="2.2"/>
<path d="M493.75,78.07 L494.18,78.03 L494.6,77.99 L495.03,77.81 L495.46,77.55 L495.89,77.32 L496.31,77.24 L496.74,77.2 L497.17,77.2 L497.6,77.03 L498.02,76.9 L498.45,76.73 L498.88,76.41 L499.3,76.26 L499.73,76.02 L500.16,76.12 L500.59,75.93 L501.01,75.87 L501.44,75.6 L501.87,75.57 L502.3,75.48 L502.72,75.35 L503.15,75.17 L503.58,74.97 L504,74.93 L504.43,74.74 L504.86,74.58 L505.29,74.31 L505.71,74.1 L506.14,73.97 L506.57,73.91 L506.99,73.78 L507.42,73.78 L507.85,73.52 L508.28,73.53 L508.7,73.27 L509.13,73.04 L509.56,72.82 L509.99,72.49 L510.41,72.52 L510.84,72.45 L511.27,72.66 L511.69,72.62 L512.12,72.27 L512.55,71.93 L512.98,71.88 L513.4,71.93 L513.83,72.02 L514.26,71.68 L514.69,71.49 L515.11,71.07 L515.54,71 L515.97,71.07 L516.39,71.01 L516.82,71.04 L517.25,70.86 L517.68,70.94 L518.1,70.74 L518.53,70.62 L518.96,70.67 L519.39,70.49 L519.81,70.5 L520.24,70.37 L520.67,70.47 L521.09,70.5 L521.52,70 L521.95,69.87 L522.38,69.54 L522.8,69.76 L523.23,69.74 L523.66,69.87 L524.09,69.8 L524.51,69.87 L524.94,69.64 L525.37,69.79 L525.79,69.65 L526.22,69.6 L526.65,69.3 L527.08,69.11 L527.5,69.15 L527.93,69.3 L528.36,69.56 L528.79,69.69 L529.21,69.48 L529.64,69.04 L530.07,68.85 L530.49,68.73 L530.92,68.81 L531.35,68.62 L531.78,68.82 L532.2,68.44 L532.63,68.28 L533.06,67.89 L533.48,67.66 L533.91,67.14 L534.34,66.66 L534.77,65.96 L535.19,65.27 L535.62,64.31 L536.05,63.83 L536.48,63.26 L536.9,62.49 L537.33,61.73 L537.76,60.66 L538.18,59.68 L538.61,58.44 L539.04,57.61 L539.47,56.66 L539.89,55.76 L540.32,54.98 L540.75,54.34 L541.18,53.79 L541.6,52.87 L542.03,52.07 L542.46,51.44 L542.88,51.1 L543.31,50.79 L543.74,50.47 L544.17,50.3 L544.59,50.03 L545.02,49.92 L545.45,49.71 L545.88,49.7 L546.3,49.64 L546.73,49.79 L547.16,49.95 L547.58,50.03 L548.01,50.16 L548.44,50.35 L548.87,50.7 L549.29,50.91 L549.72,51.29 L550.15,51.6 L550.58,51.84 L551,51.96 L551.43,52.13 L551.86,52.64 L552.28,53.06 L552.71,53.53 L553.14,53.83 L553.57,54.37 L553.99,54.95 L554.42,55.25 L554.85,55.62 L555.28,55.71 L555.7,56.07 L556.13,56.04 L556.56,56.02 L556.98,56.06 L557.41,56.29 L557.84,56.28 L558.27,56.2 L558.69,56.02 L559.12,56.13 L559.55,55.87 L559.97,55.61 L560.4,55.42 L560.83,55.47 L561.26,55.27 L561.68,54.98 L562.11,54.51 L562.54,54.22 L562.97,53.74 L563.39,53.36 L563.82,52.91 L564.25,52.61 L564.67,52.4 L565.1,52.13 L565.53,51.85 L565.96,51.36 L566.38,51.1 L566.81,50.43 L567.24,50.08 L567.67,49.74 L568.09,49.66 L568.52,49.68 L568.95,49.58 L569.37,49.57 L569.8,49.45 L570.23,49.26 L570.66,49.28 L571.08,49.31 L571.51,49.42 L571.94,49.78 L572.37,49.96 L572.79,50.48 L573.22,50.67 L573.65,51.11 L574.07,51.32 L574.5,51.74 L574.93,52.16 L575.36,52.81 L575.78,53.56 L576.21,54.18 L576.64,54.81 L577.07,55.43 L577.49,56.34 L577.92,57.16 L578.35,57.93 L578.77,58.65 L579.2,59.54 L579.63,60.47 L580.06,61.32 L580.48,62.11 L580.91,62.96 L581.34,63.81 L581.77,64.53 L582.19,65.25 L582.62,66.02 L583.05,66.82 L583.47,67.47 L583.9,67.99 L584.33,68.56 L584.76,69.12 L585.18,69.75 L585.61,70.11 L586.04,70.61 L586.46,71.16 L586.89,71.89 L587.32,72.35 L587.75,72.8 L588.17,73.03 L588.6,73.36 L589.03,73.49 L589.46,74.07 L589.88,74.79 L590.31,75.66 L590.74,75.95 L591.16,76.22 L591.59,76.52 L592.02,76.94 L592.45,77 L592.87,77.33 L593.3,77.62 L593.73,78.06 L594.16,78.36 L594.58,78.69 L595.01,79.06 L595.44,79.28 L595.86,79.43 L596.29,79.45 L596.72,79.55 L597.15,79.74 L597.57,80.08 L598,80.19 L598.43,80.26 L598.86,80.32 L599.28,80.36 L599.71,80.53 L600.14,80.62 L600.56,80.78 L600.99,80.91 L601.42,80.86 L601.85,80.95 L602.27,80.84 L602.7,81.24 L603.13,81.15 L603.56,81.32 L603.98,81.26 L604.41,81.35 L604.84,81.24 L605.26,80.98 L605.69,81.04 L606.12,81.21 L606.55,81.44 L606.97,81.44 L607.4,81.35 L607.83,81.3 L608.26,81.41 L608.68,81.37 L609.11,81.67 L609.54,81.47 L609.96,81.66 L610.39,81.48 L610.82,81.6 L611.25,81.49 L611.67,81.36 L612.1,81.39 L612.53,81.08 L612.95,81.05 L613.38,80.87 L613.81,81.06 L614.24,81.03 L614.66,81.09 L615.09,81.22 L615.52,81.16 L615.95,81.27 L616.37,81.03 L616.8,81.02 L617.23,80.82 L617.65,81.08 L618.08,81.17 L618.51,81.4 L618.94,81.38 L619.36,81.62 L619.79,81.72 L620.22,81.84 L620.65,81.63 L621.07,81.55 L621.5,81.71" fill="none" stroke="#44c8e2" stroke-width="2.2"/>
<path d="M493.75,39.47 L494.18,39.41 L494.6,39.31 L495.03,39.24 L495.46,38.99 L495.89,38.75 L496.31,38.52 L496.74,38.53 L497.17,38.6 L497.6,38.25 L498.02,38.08 L498.45,37.87 L498.88,37.79 L499.3,37.55 L499.73,37.46 L500.16,37.24 L500.59,36.92 L501.01,36.79 L501.44,36.44 L501.87,36.4 L502.3,36.17 L502.72,36.27 L503.15,36.02 L503.58,35.83 L504,35.68 L504.43,35.43 L504.86,35.23 L505.29,35.01 L505.71,34.81 L506.14,34.53 L506.57,34.46 L506.99,34.51 L507.42,34.35 L507.85,34.09 L508.28,33.85 L508.7,33.89 L509.13,33.75 L509.56,33.29 L509.99,32.95 L510.41,32.8 L510.84,33.04 L511.27,32.84 L511.69,32.42 L512.12,32.11 L512.55,31.95 L512.98,31.92 L513.4,31.62 L513.83,31.61 L514.26,31.52 L514.69,31.54 L515.11,31.21 L515.54,30.84 L515.97,30.53 L516.39,30.56 L516.82,30.41 L517.25,30.48 L517.68,30.47 L518.1,30.46 L518.53,30.24 L518.96,30.02 L519.39,30.04 L519.81,29.86 L520.24,29.59 L520.67,29.36 L521.09,29.24 L521.52,29.16 L521.95,29.01 L522.38,28.99 L522.8,28.58 L523.23,28.48 L523.66,28.23 L524.09,28.18 L524.51,27.88 L524.94,27.66 L525.37,27.46 L525.79,27.14 L526.22,26.8 L526.65,26.42 L527.08,26.02 L527.5,25.59 L527.93,25.26 L528.36,25.07 L528.79,24.89 L529.21,24.62 L529.64,24.36 L530.07,23.87 L530.49,23.36 L530.92,22.71 L531.35,22.17 L531.78,21.73 L532.2,21.46 L532.63,20.9 L533.06,20.48 L533.48,19.84 L533.91,19.56 L534.34,18.95 L534.77,18.52 L535.19,17.89 L535.62,17.51 L536.05,16.77 L536.48,16.42 L536.9,16 L537.33,15.63 L537.76,15.29 L538.18,14.75 L538.61,14.69 L539.04,14.34 L539.47,14.29 L539.89,14.05 L540.32,13.81 L540.75,13.83 L541.18,13.92 L541.6,14 L542.03,14.04 L542.46,14.16 L542.88,14.45 L543.31,14.6 L543.74,15.04 L544.17,15.48 L544.59,16.14 L545.02,16.7 L545.45,17.33 L545.88,17.72 L546.3,18.24 L546.73,18.69 L547.16,19.35 L547.58,20.22 L548.01,20.98 L548.44,21.82 L548.87,22.14 L549.29,22.92 L549.72,23.62 L550.15,24.15 L550.58,24.77 L551,25.46 L551.43,26.42 L551.86,27.09 L552.28,27.45 L552.71,27.87 L553.14,28.2 L553.57,28.56 L553.99,28.79 L554.42,29.26 L554.85,29.38 L555.28,29.55 L555.7,29.35 L556.13,29.24 L556.56,28.94 L556.98,28.75 L557.41,28.66 L557.84,28.55 L558.27,28.2 L558.69,27.86 L559.12,27.62 L559.55,27.38 L559.97,27.05 L560.4,26.59 L560.83,26.41 L561.26,26.06 L561.68,25.52 L562.11,25.04 L562.54,24.88 L562.97,24.75 L563.39,24.1 L563.82,23.27 L564.25,22.83 L564.67,22.5 L565.1,22.31 L565.53,21.7 L565.96,21.43 L566.38,20.92 L566.81,20.43 L567.24,19.8 L567.67,19.19 L568.09,18.75 L568.52,18.24 L568.95,17.67 L569.37,17.07 L569.8,16.49 L570.23,16.1 L570.66,15.83 L571.08,15.66 L571.51,15.48 L571.94,14.95 L572.37,14.35 L572.79,14.13 L573.22,14.02 L573.65,14.01 L574.07,13.67 L574.5,13.42 L574.93,13.64 L575.36,13.75 L575.78,14.03 L576.21,13.86 L576.64,14.29 L577.07,14.55 L577.49,14.99 L577.92,15.22 L578.35,15.7 L578.77,16.35 L579.2,16.7 L579.63,17.36 L580.06,17.79 L580.48,18.61 L580.91,19.22 L581.34,20.09 L581.77,20.82 L582.19,21.68 L582.62,22.57 L583.05,23.54 L583.47,24.46 L583.9,25.38 L584.33,26.38 L584.76,27.33 L585.18,28.23 L585.61,29.05 L586.04,30.07 L586.46,30.83 L586.89,31.62 L587.32,32.4 L587.75,33.17 L588.17,33.99 L588.6,34.65 L589.03,35.54 L589.46,36.23 L589.88,36.81 L590.31,37.25 L590.74,37.84 L591.16,38.3 L591.59,38.79 L592.02,39.27 L592.45,39.65 L592.87,39.9 L593.3,39.96 L593.73,40.15 L594.16,40.29 L594.58,40.47 L595.01,40.66 L595.44,40.97 L595.86,41.26 L596.29,41.4 L596.72,41.5 L597.15,41.41 L597.57,41.73 L598,42.02 L598.43,42.2 L598.86,42.11 L599.28,41.93 L599.71,42.08 L600.14,42.02 L600.56,41.93 L600.99,42 L601.42,42.03 L601.85,42.29 L602.27,42.2 L602.7,42.31 L603.13,42.46 L603.56,42.8 L603.98,42.95 L604.41,42.89 L604.84,42.85 L605.26,42.91 L605.69,42.87 L606.12,42.93 L606.55,42.85 L606.97,43.16 L607.4,43.21 L607.83,43.54 L608.26,43.44 L608.68,43.51 L609.11,43.64 L609.54,44.01 L609.96,44.25 L610.39,44.31 L610.82,44.14 L611.25,44.2 L611.67,44.24 L612.1,44.39 L612.53,44.53 L612.95,44.51 L613.38,44.77 L613.81,44.63 L614.24,44.69 L614.66,44.55 L615.09,44.52 L615.52,44.57 L615.95,44.62 L616.37,44.6 L616.8,44.58 L617.23,44.44 L617.65,44.57 L618.08,44.76 L618.51,44.84 L618.94,44.84 L619.36,44.72 L619.79,44.61 L620.22,44.61 L620.65,44.48 L621.07,44.46 L621.5,44.37" fill="none" stroke="#3cb8e8" stroke-width="2.2"/>
<path d="M541.45,13.75 L541.56,15.14 L541.66,16.53 L541.76,17.93 L541.86,19.32 L541.97,20.71 L542.07,22.1 L542.18,23.5 L542.29,24.89 L542.39,26.28 L542.5,27.67 L542.61,29.07 L542.72,30.46 L542.83,31.85 L542.94,33.24 L543.06,34.64 L543.17,36.03 L543.28,37.42 L543.4,38.81 L543.52,40.21 L543.63,41.6 L543.75,42.99 L543.87,44.38 L543.99,45.78 L544.11,47.17 L544.23,48.56 L544.36,49.95 L544.48,51.34 L544.61,52.74 L544.73,54.13 L544.86,55.52 L544.99,56.91 L545.12,58.31 L545.26,59.7 L545.39,61.09 L545.52,62.48 L545.66,63.88 L545.8,65.27 L545.94,66.66 L546.08,68.05 L546.23,69.45 L546.37,70.84 L546.52,72.23 L546.67,73.62 L546.82,75.02 L546.97,76.41 L547.13,77.8 L547.29,79.19 L547.45,80.59 L547.61,81.98 L547.78,83.37 L547.95,84.76 L548.12,86.16 L548.29,87.55 L548.47,88.94 L548.66,90.33 L548.84,91.72 L549.03,93.12 L549.23,94.51 L549.43,95.9 L549.63,97.29 L549.84,98.69 L550.06,100.08 L550.28,101.47 L550.51,102.86 L550.74,104.26 L550.99,105.65 L551.25,107.04 L551.51,108.43 L551.79,109.83 L552.08,111.22 L552.39,112.61 L552.72,114 L553.08,115.4 L553.46,116.79 L553.89,118.18 L554.37,119.57 L554.95,120.97 L555.69,122.36 L557.5,123.75 L557.5,123.75 L559.46,122.36 L560.27,120.97 L560.89,119.57 L561.42,118.18 L561.88,116.79 L562.3,115.4 L562.68,114 L563.04,112.61 L563.38,111.22 L563.69,109.83 L564,108.43 L564.29,107.04 L564.56,105.65 L564.83,104.26 L565.09,102.86 L565.34,101.47 L565.58,100.08 L565.81,98.69 L566.04,97.29 L566.26,95.9 L566.48,94.51 L566.69,93.12 L566.89,91.72 L567.1,90.33 L567.29,88.94 L567.49,87.55 L567.68,86.16 L567.87,84.76 L568.05,83.37 L568.23,81.98 L568.41,80.59 L568.58,79.19 L568.75,77.8 L568.92,76.41 L569.09,75.02 L569.25,73.62 L569.41,72.23 L569.57,70.84 L569.73,69.45 L569.89,68.05 L570.04,66.66 L570.19,65.27 L570.34,63.88 L570.49,62.48 L570.64,61.09 L570.79,59.7 L570.93,58.31 L571.07,56.91 L571.21,55.52 L571.35,54.13 L571.49,52.74 L571.63,51.34 L571.76,49.95 L571.89,48.56 L572.03,47.17 L572.16,45.78 L572.29,44.38 L572.42,42.99 L572.55,41.6 L572.67,40.21 L572.8,38.81 L572.92,37.42 L573.05,36.03 L573.17,34.64 L573.29,33.24 L573.41,31.85 L573.53,30.46 L573.65,29.07 L573.77,27.67 L573.89,26.28 L574.01,24.89 L574.12,23.5 L574.24,22.1 L574.35,20.71 L574.46,19.32 L574.58,17.93 L574.69,16.53 L574.8,15.14 L574.91,13.75" fill="none" stroke="#ee1c24" stroke-width="2" stroke-linejoin="round"/>
<line x1="557.5" y1="123.75" x2="557.5" y2="211.5" stroke="#ee1c24" stroke-width="2"/>
<rect x="493.75" y="9" width="127.75" height="246" fill="none" stroke="#222" stroke-width="1.4"/>
<line x1="493.62" y1="255" x2="493.62" y2="252" stroke="#222" stroke-width="1.2"/>
<line x1="493.62" y1="9" x2="493.62" y2="12" stroke="#222" stroke-width="1.2"/>
<line x1="525.56" y1="255" x2="525.56" y2="252" stroke="#222" stroke-width="1.2"/>
<line x1="525.56" y1="9" x2="525.56" y2="12" stroke="#222" stroke-width="1.2"/>
<line x1="557.5" y1="255" x2="557.5" y2="252" stroke="#222" stroke-width="1.2"/>
<line x1="557.5" y1="9" x2="557.5" y2="12" stroke="#222" stroke-width="1.2"/>
<line x1="589.44" y1="255" x2="589.44" y2="252" stroke="#222" stroke-width="1.2"/>
<line x1="589.44" y1="9" x2="589.44" y2="12" stroke="#222" stroke-width="1.2"/>
<line x1="621.38" y1="255" x2="621.38" y2="252" stroke="#222" stroke-width="1.2"/>
<line x1="621.38" y1="9" x2="621.38" y2="12" stroke="#222" stroke-width="1.2"/>
<line x1="493.75" y1="255" x2="496.75" y2="255" stroke="#222" stroke-width="1.2"/>
<line x1="621.5" y1="255" x2="618.5" y2="255" stroke="#222" stroke-width="1.2"/>
<line x1="493.75" y1="224.25" x2="496.75" y2="224.25" stroke="#222" stroke-width="1.2"/>
<line x1="621.5" y1="224.25" x2="618.5" y2="224.25" stroke="#222" stroke-width="1.2"/>
<line x1="493.75" y1="193.5" x2="496.75" y2="193.5" stroke="#222" stroke-width="1.2"/>
<line x1="621.5" y1="193.5" x2="618.5" y2="193.5" stroke="#222" stroke-width="1.2"/>
<line x1="493.75" y1="162.75" x2="496.75" y2="162.75" stroke="#222" stroke-width="1.2"/>
<line x1="621.5" y1="162.75" x2="618.5" y2="162.75" stroke="#222" stroke-width="1.2"/>
<line x1="493.75" y1="132" x2="496.75" y2="132" stroke="#222" stroke-width="1.2"/>
<line x1="621.5" y1="132" x2="618.5" y2="132" stroke="#222" stroke-width="1.2"/>
<line x1="493.75" y1="101.25" x2="496.75" y2="101.25" stroke="#222" stroke-width="1.2"/>
<line x1="621.5" y1="101.25" x2="618.5" y2="101.25" stroke="#222" stroke-width="1.2"/>
<line x1="493.75" y1="70.5" x2="496.75" y2="70.5" stroke="#222" stroke-width="1.2"/>
<line x1="621.5" y1="70.5" x2="618.5" y2="70.5" stroke="#222" stroke-width="1.2"/>
<line x1="493.75" y1="39.75" x2="496.75" y2="39.75" stroke="#222" stroke-width="1.2"/>
<line x1="621.5" y1="39.75" x2="618.5" y2="39.75" stroke="#222" stroke-width="1.2"/>
<line x1="493.75" y1="9" x2="496.75" y2="9" stroke="#222" stroke-width="1.2"/>
<line x1="621.5" y1="9" x2="618.5" y2="9" stroke="#222" stroke-width="1.2"/>
<line x1="526" y1="221" x2="526" y2="236" stroke="#111" stroke-width="1.4"/>
<path d="M526,243.8 L523.2,232.8 L526,235 L528.8,232.8 Z" fill="#111"/>
<line x1="557.7" y1="236" x2="557.7" y2="221" stroke="#111" stroke-width="1.4"/>
<path d="M557.7,212.5 L554.9,223.5 L557.7,221.3 L560.5,223.5 Z" fill="#111"/>
<line x1="607.7" y1="148.8" x2="607.7" y2="131" stroke="#ee1c24" stroke-width="1.8"/>
<path d="M607.7,123.8 L604.2,132.8 L607.7,131.2 L611.2,132.8 Z" fill="#ee1c24"/>
<defs><clipPath id="ce"><rect x="661.75" y="10" width="126.25" height="117.75"/></clipPath><clipPath id="cf"><rect x="661.75" y="136.5" width="126.25" height="119"/></clipPath></defs>
<path d="M662,127.5 L662.02,122.14 L662.44,117.24 L662.86,114.75 L663.29,112.83 L663.71,111.2 L664.13,109.77 L664.55,108.47 L664.97,107.28 L665.39,106.16 L665.81,105.12 L666.23,104.13 L666.66,103.19 L667.08,102.29 L667.5,101.43 L667.92,100.6 L668.34,99.8 L668.76,99.02 L669.18,98.27 L669.61,97.54 L670.03,96.83 L670.45,96.14 L670.87,95.47 L671.29,94.81 L671.71,94.16 L672.13,93.54 L672.55,92.92 L672.98,92.31 L673.4,91.72 L673.82,91.14 L674.24,90.57 L674.66,90.01 L675.08,89.45 L675.5,88.91 L675.93,88.37 L676.35,87.85 L676.77,87.33 L677.19,86.81 L677.61,86.31 L678.03,85.81 L678.45,85.32 L678.87,84.83 L679.3,84.35 L679.72,83.88 L680.14,83.41 L680.56,82.95 L680.98,82.49 L681.4,82.04 L681.82,81.59 L682.25,81.15 L682.67,80.71 L683.09,80.27 L683.51,79.84 L683.93,79.42 L684.35,79 L684.77,78.58 L685.19,78.17 L685.62,77.76 L686.04,77.35 L686.46,76.95 L686.88,76.55 L687.3,76.15 L687.72,75.76 L688.14,75.37 L688.57,74.98 L688.99,74.6 L689.41,74.22 L689.83,73.84 L690.25,73.47 L690.67,73.1 L691.09,72.73 L691.51,72.36 L691.94,72 L692.36,71.64 L692.78,71.28 L693.2,70.92 L693.62,70.57 L694.04,70.22 L694.46,69.87 L694.89,69.52 L695.31,69.17 L695.73,68.83 L696.15,68.49 L696.57,68.15 L696.99,67.82 L697.41,67.48 L697.83,67.15 L698.26,66.82 L698.68,66.49 L699.1,66.17 L699.52,65.84 L699.94,65.52 L700.36,65.2 L700.78,64.88 L701.21,64.56 L701.63,64.24 L702.05,63.93 L702.47,63.62 L702.89,63.31 L703.31,63 L703.73,62.69 L704.15,62.38 L704.58,62.08 L705,61.78 L705.42,61.47 L705.84,61.17 L706.26,60.87 L706.68,60.58 L707.1,60.28 L707.53,59.99 L707.95,59.69 L708.37,59.4 L708.79,59.11 L709.21,58.82 L709.63,58.53 L710.05,58.25 L710.47,57.96 L710.9,57.68 L711.32,57.39 L711.74,57.11 L712.16,56.83 L712.58,56.55 L713,56.27 L713.42,56 L713.85,55.72 L714.27,55.45 L714.69,55.17 L715.11,54.9 L715.53,54.63 L715.95,54.36 L716.37,54.09 L716.79,53.82 L717.22,53.55 L717.64,53.29 L718.06,53.02 L718.48,52.76 L718.9,52.49 L719.32,52.23 L719.74,51.97 L720.17,51.71 L720.59,51.45 L721.01,51.19 L721.43,50.93 L721.85,50.68 L722.27,50.42 L722.69,50.17 L723.11,49.91 L723.54,49.66 L723.96,49.41 L724.38,49.15 L724.8,48.9 L725.22,48.65 L725.64,48.4 L726.06,48.16 L726.49,47.91 L726.91,47.66 L727.33,47.42 L727.75,47.17 L728.17,46.93 L728.59,46.68 L729.01,46.44 L729.43,46.2 L729.86,45.96 L730.28,45.72 L730.7,45.48 L731.12,45.24 L731.54,45 L731.96,44.76 L732.38,44.53 L732.81,44.29 L733.23,44.06 L733.65,43.82 L734.07,43.59 L734.49,43.35 L734.91,43.12 L735.33,42.89 L735.75,42.66 L736.18,42.43 L736.6,42.2 L737.02,41.97 L737.44,41.74 L737.86,41.51 L738.28,41.28 L738.7,41.06 L739.13,40.83 L739.55,40.61 L739.97,40.38 L740.39,40.16 L740.81,39.93 L741.23,39.71 L741.65,39.49 L742.07,39.27 L742.5,39.04 L742.92,38.82 L743.34,38.6 L743.76,38.38 L744.18,38.17 L744.6,37.95 L745.02,37.73 L745.45,37.51 L745.87,37.29 L746.29,37.08 L746.71,36.86 L747.13,36.65 L747.55,36.43 L747.97,36.22 L748.39,36 L748.82,35.79 L749.24,35.58 L749.66,35.37 L750.08,35.16 L750.5,34.94 L750.92,34.73 L751.34,34.52 L751.77,34.31 L752.19,34.11 L752.61,33.9 L753.03,33.69 L753.45,33.48 L753.87,33.27 L754.29,33.07 L754.71,32.86 L755.14,32.66 L755.56,32.45 L755.98,32.25 L756.4,32.04 L756.82,31.84 L757.24,31.63 L757.66,31.43 L758.09,31.23 L758.51,31.03 L758.93,30.82 L759.35,30.62 L759.77,30.42 L760.19,30.22 L760.61,30.02 L761.03,29.82 L761.46,29.62 L761.88,29.43 L762.3,29.23 L762.72,29.03 L763.14,28.83 L763.56,28.63 L763.98,28.44 L764.41,28.24 L764.83,28.05 L765.25,27.85 L765.67,27.66 L766.09,27.46 L766.51,27.27 L766.93,27.07 L767.35,26.88 L767.78,26.69 L768.2,26.49 L768.62,26.3 L769.04,26.11 L769.46,25.92 L769.88,25.73 L770.3,25.54 L770.73,25.35 L771.15,25.16 L771.57,24.97 L771.99,24.78 L772.41,24.59 L772.83,24.4 L773.25,24.21 L773.67,24.02 L774.1,23.84 L774.52,23.65 L774.94,23.46 L775.36,23.28 L775.78,23.09 L776.2,22.9 L776.62,22.72 L777.05,22.53 L777.47,22.35 L777.89,22.16 L778.31,21.98 L778.73,21.8 L779.15,21.61 L779.57,21.43 L779.99,21.25 L780.42,21.07 L780.84,20.88 L781.26,20.7 L781.68,20.52 L782.1,20.34 L782.52,20.16 L782.94,19.98 L783.37,19.8 L783.79,19.62 L784.21,19.44 L784.63,19.26 L785.05,19.08 L785.47,18.9 L785.89,18.72 L786.31,18.55 L786.74,18.37 L787.16,18.19 L787.58,18.01 L788,17.84" fill="none" stroke="#ee1c24" stroke-width="2" clip-path="url(#ce)"/>
<defs><radialGradient id="ball" cx="0.38" cy="0.35" r="0.65"><stop offset="0" stop-color="#d8f0ff"/><stop offset="0.3" stop-color="#58a8ea"/><stop offset="1" stop-color="#1c6cc8"/></radialGradient></defs>
<path d="M665.7,99.3 V118.3 M661.5,99.3 H669.9 M661.5,118.3 H669.9" stroke="#5ab0ec" stroke-width="1.2" fill="none"/>
<path d="M669.1,93.4 V101.2 M664.9,93.4 H673.3 M664.9,101.2 H673.3" stroke="#5ab0ec" stroke-width="1.2" fill="none"/>
<path d="M675,87 V93 M670.8,87 H679.2 M670.8,93 H679.2" stroke="#5ab0ec" stroke-width="1.2" fill="none"/>
<path d="M677.3,82 V88 M673.1,82 H681.5 M673.1,88 H681.5" stroke="#5ab0ec" stroke-width="1.2" fill="none"/>
<path d="M680.3,80 V85.5 M676.1,80 H684.5 M676.1,85.5 H684.5" stroke="#5ab0ec" stroke-width="1.2" fill="none"/>
<path d="M684,77 V82.5 M679.8,77 H688.2 M679.8,82.5 H688.2" stroke="#5ab0ec" stroke-width="1.2" fill="none"/>
<path d="M687,74 V79.5 M682.8,74 H691.2 M682.8,79.5 H691.2" stroke="#5ab0ec" stroke-width="1.2" fill="none"/>
<path d="M689.9,71 V76.5 M685.7,71 H694.1 M685.7,76.5 H694.1" stroke="#5ab0ec" stroke-width="1.2" fill="none"/>
<path d="M692.9,68 V73.5 M688.7,68 H697.1 M688.7,73.5 H697.1" stroke="#5ab0ec" stroke-width="1.2" fill="none"/>
<path d="M702.25,57.7 V67.1 M698.05,57.7 H706.45 M698.05,67.1 H706.45" stroke="#5ab0ec" stroke-width="1.2" fill="none"/>
<path d="M733.4,39.5 V47.9 M729.2,39.5 H737.6 M729.2,47.9 H737.6" stroke="#5ab0ec" stroke-width="1.2" fill="none"/>
<path d="M756.9,31 V36 M752.7,31 H761.1 M752.7,36 H761.1" stroke="#5ab0ec" stroke-width="1.2" fill="none"/>
<path d="M784.3,15.6 V21 M780.1,15.6 H788.5 M780.1,21 H788.5" stroke="#5ab0ec" stroke-width="1.2" fill="none"/>
<path d="M662,101.2 H680" stroke="#5ab0ec" stroke-width="1.2" fill="none"/>
<path d="M662,93.4 H670" stroke="#5ab0ec" stroke-width="1.2" fill="none"/>
<circle cx="665.7" cy="105.6" r="3.2" fill="url(#ball)"/>
<circle cx="669.1" cy="96.3" r="3.2" fill="url(#ball)"/>
<circle cx="675" cy="90.1" r="3.2" fill="url(#ball)"/>
<circle cx="677.3" cy="84.9" r="3.2" fill="url(#ball)"/>
<circle cx="680.3" cy="82.7" r="3.2" fill="url(#ball)"/>
<circle cx="684" cy="79.7" r="3.2" fill="url(#ball)"/>
<circle cx="687" cy="76.7" r="3.2" fill="url(#ball)"/>
<circle cx="689.9" cy="73.8" r="3.2" fill="url(#ball)"/>
<circle cx="692.9" cy="70.8" r="3.2" fill="url(#ball)"/>
<circle cx="702.25" cy="62.6" r="3.2" fill="url(#ball)"/>
<circle cx="733.4" cy="43.5" r="3.2" fill="url(#ball)"/>
<circle cx="756.9" cy="33.5" r="3.2" fill="url(#ball)"/>
<circle cx="784.3" cy="18.4" r="3.2" fill="url(#ball)"/>
<rect x="661.75" y="10" width="126.25" height="117.75" fill="none" stroke="#222" stroke-width="1.4"/>
<line x1="662" y1="127.75" x2="662" y2="124.75" stroke="#222" stroke-width="1.1"/>
<line x1="662" y1="10" x2="662" y2="13" stroke="#222" stroke-width="1.1"/>
<line x1="704" y1="127.75" x2="704" y2="124.75" stroke="#222" stroke-width="1.1"/>
<line x1="704" y1="10" x2="704" y2="13" stroke="#222" stroke-width="1.1"/>
<line x1="746" y1="127.75" x2="746" y2="124.75" stroke="#222" stroke-width="1.1"/>
<line x1="746" y1="10" x2="746" y2="13" stroke="#222" stroke-width="1.1"/>
<line x1="788" y1="127.75" x2="788" y2="124.75" stroke="#222" stroke-width="1.1"/>
<line x1="788" y1="10" x2="788" y2="13" stroke="#222" stroke-width="1.1"/>
<line x1="661.75" y1="123.8" x2="664.75" y2="123.8" stroke="#222" stroke-width="1.1"/>
<line x1="788" y1="123.8" x2="785" y2="123.8" stroke="#222" stroke-width="1.1"/>
<line x1="661.75" y1="102.7" x2="664.75" y2="102.7" stroke="#222" stroke-width="1.1"/>
<line x1="788" y1="102.7" x2="785" y2="102.7" stroke="#222" stroke-width="1.1"/>
<line x1="661.75" y1="81.6" x2="664.75" y2="81.6" stroke="#222" stroke-width="1.1"/>
<line x1="788" y1="81.6" x2="785" y2="81.6" stroke="#222" stroke-width="1.1"/>
<line x1="661.75" y1="60.5" x2="664.75" y2="60.5" stroke="#222" stroke-width="1.1"/>
<line x1="788" y1="60.5" x2="785" y2="60.5" stroke="#222" stroke-width="1.1"/>
<line x1="661.75" y1="39.4" x2="664.75" y2="39.4" stroke="#222" stroke-width="1.1"/>
<line x1="788" y1="39.4" x2="785" y2="39.4" stroke="#222" stroke-width="1.1"/>
<line x1="661.75" y1="18.3" x2="664.75" y2="18.3" stroke="#222" stroke-width="1.1"/>
<line x1="788" y1="18.3" x2="785" y2="18.3" stroke="#222" stroke-width="1.1"/>
<rect x="710.3" y="67.6" width="69.90000000000009" height="51.2" fill="#fff" stroke="#444" stroke-width="1.1"/>
<line x1="710.3" y1="100" x2="780.2" y2="70.8" stroke="#ee1c24" stroke-width="2"/>
<path d="M715.7,91.4 V116.6 M711.2,91.4 H720.2 M711.2,116.6 H720.2" stroke="#7cc4ee" stroke-width="1.2" fill="none"/>
<path d="M718,92.4 H732" stroke="#7cc4ee" stroke-width="1.2" fill="none"/>
<path d="M730.5,91 H737.5" stroke="#8ccbf0" stroke-width="1.2" fill="none"/>
<path d="M730.5,87.4 H737.5" stroke="#8ccbf0" stroke-width="1.2" fill="none"/>
<path d="M734.8,89.3 H741.8" stroke="#8ccbf0" stroke-width="1.2" fill="none"/>
<path d="M734.8,85.7 H741.8" stroke="#8ccbf0" stroke-width="1.2" fill="none"/>
<path d="M739.1,87.6 H746.1" stroke="#8ccbf0" stroke-width="1.2" fill="none"/>
<path d="M739.1,84 H746.1" stroke="#8ccbf0" stroke-width="1.2" fill="none"/>
<path d="M743.4,85.9 H750.4" stroke="#8ccbf0" stroke-width="1.2" fill="none"/>
<path d="M743.4,82.3 H750.4" stroke="#8ccbf0" stroke-width="1.2" fill="none"/>
<path d="M747.7,84.2 H754.7" stroke="#8ccbf0" stroke-width="1.2" fill="none"/>
<path d="M747.7,80.6 H754.7" stroke="#8ccbf0" stroke-width="1.2" fill="none"/>
<path d="M752,82.5 H759" stroke="#8ccbf0" stroke-width="1.2" fill="none"/>
<path d="M752,78.9 H759" stroke="#8ccbf0" stroke-width="1.2" fill="none"/>
<path d="M760.9,78.7 H767.9" stroke="#8ccbf0" stroke-width="1.2" fill="none"/>
<path d="M760.9,75.1 H767.9" stroke="#8ccbf0" stroke-width="1.2" fill="none"/>
<path d="M764.7,77.5 H771.7" stroke="#8ccbf0" stroke-width="1.2" fill="none"/>
<path d="M764.7,73.9 H771.7" stroke="#8ccbf0" stroke-width="1.2" fill="none"/>
<path d="M768.5,76.3 H775.5" stroke="#8ccbf0" stroke-width="1.2" fill="none"/>
<path d="M768.5,72.7 H775.5" stroke="#8ccbf0" stroke-width="1.2" fill="none"/>
<path d="M772.3,75.1 H779.3" stroke="#8ccbf0" stroke-width="1.2" fill="none"/>
<path d="M772.3,71.5 H779.3" stroke="#8ccbf0" stroke-width="1.2" fill="none"/>
<path d="M776.1,73.9 H783.1" stroke="#8ccbf0" stroke-width="1.2" fill="none"/>
<path d="M776.1,70.3 H783.1" stroke="#8ccbf0" stroke-width="1.2" fill="none"/>
<circle cx="715.7" cy="98.9" r="2.3" fill="url(#ball)"/>
<circle cx="724.4" cy="92.4" r="2.3" fill="url(#ball)"/>
<circle cx="734" cy="89.2" r="2.3" fill="url(#ball)"/>
<circle cx="738.3" cy="87.5" r="2.3" fill="url(#ball)"/>
<circle cx="742.6" cy="85.8" r="2.3" fill="url(#ball)"/>
<circle cx="746.9" cy="84.1" r="2.3" fill="url(#ball)"/>
<circle cx="751.2" cy="82.4" r="2.3" fill="url(#ball)"/>
<circle cx="755.5" cy="80.7" r="2.3" fill="url(#ball)"/>
<circle cx="764.4" cy="76.9" r="2.3" fill="url(#ball)"/>
<circle cx="768.2" cy="75.7" r="2.3" fill="url(#ball)"/>
<circle cx="772" cy="74.5" r="2.3" fill="url(#ball)"/>
<circle cx="775.8" cy="73.3" r="2.3" fill="url(#ball)"/>
<circle cx="779.6" cy="72.1" r="2.3" fill="url(#ball)"/>
<line x1="710.3" y1="118.8" x2="710.3" y2="116.3" stroke="#333" stroke-width="0.7"/>
<line x1="710.3" y1="67.6" x2="710.3" y2="70.1" stroke="#333" stroke-width="0.7"/>
<line x1="717.31" y1="118.8" x2="717.31" y2="117.3" stroke="#333" stroke-width="0.7"/>
<line x1="717.31" y1="67.6" x2="717.31" y2="69.1" stroke="#333" stroke-width="0.7"/>
<line x1="721.42" y1="118.8" x2="721.42" y2="117.3" stroke="#333" stroke-width="0.7"/>
<line x1="721.42" y1="67.6" x2="721.42" y2="69.1" stroke="#333" stroke-width="0.7"/>
<line x1="724.33" y1="118.8" x2="724.33" y2="117.3" stroke="#333" stroke-width="0.7"/>
<line x1="724.33" y1="67.6" x2="724.33" y2="69.1" stroke="#333" stroke-width="0.7"/>
<line x1="726.59" y1="118.8" x2="726.59" y2="117.3" stroke="#333" stroke-width="0.7"/>
<line x1="726.59" y1="67.6" x2="726.59" y2="69.1" stroke="#333" stroke-width="0.7"/>
<line x1="728.43" y1="118.8" x2="728.43" y2="117.3" stroke="#333" stroke-width="0.7"/>
<line x1="728.43" y1="67.6" x2="728.43" y2="69.1" stroke="#333" stroke-width="0.7"/>
<line x1="729.99" y1="118.8" x2="729.99" y2="117.3" stroke="#333" stroke-width="0.7"/>
<line x1="729.99" y1="67.6" x2="729.99" y2="69.1" stroke="#333" stroke-width="0.7"/>
<line x1="731.34" y1="118.8" x2="731.34" y2="117.3" stroke="#333" stroke-width="0.7"/>
<line x1="731.34" y1="67.6" x2="731.34" y2="69.1" stroke="#333" stroke-width="0.7"/>
<line x1="732.53" y1="118.8" x2="732.53" y2="117.3" stroke="#333" stroke-width="0.7"/>
<line x1="732.53" y1="67.6" x2="732.53" y2="69.1" stroke="#333" stroke-width="0.7"/>
<line x1="733.6" y1="118.8" x2="733.6" y2="116.3" stroke="#333" stroke-width="0.7"/>
<line x1="733.6" y1="67.6" x2="733.6" y2="70.1" stroke="#333" stroke-width="0.7"/>
<line x1="740.61" y1="118.8" x2="740.61" y2="117.3" stroke="#333" stroke-width="0.7"/>
<line x1="740.61" y1="67.6" x2="740.61" y2="69.1" stroke="#333" stroke-width="0.7"/>
<line x1="744.72" y1="118.8" x2="744.72" y2="117.3" stroke="#333" stroke-width="0.7"/>
<line x1="744.72" y1="67.6" x2="744.72" y2="69.1" stroke="#333" stroke-width="0.7"/>
<line x1="747.63" y1="118.8" x2="747.63" y2="117.3" stroke="#333" stroke-width="0.7"/>
<line x1="747.63" y1="67.6" x2="747.63" y2="69.1" stroke="#333" stroke-width="0.7"/>
<line x1="749.89" y1="118.8" x2="749.89" y2="117.3" stroke="#333" stroke-width="0.7"/>
<line x1="749.89" y1="67.6" x2="749.89" y2="69.1" stroke="#333" stroke-width="0.7"/>
<line x1="751.73" y1="118.8" x2="751.73" y2="117.3" stroke="#333" stroke-width="0.7"/>
<line x1="751.73" y1="67.6" x2="751.73" y2="69.1" stroke="#333" stroke-width="0.7"/>
<line x1="753.29" y1="118.8" x2="753.29" y2="117.3" stroke="#333" stroke-width="0.7"/>
<line x1="753.29" y1="67.6" x2="753.29" y2="69.1" stroke="#333" stroke-width="0.7"/>
<line x1="754.64" y1="118.8" x2="754.64" y2="117.3" stroke="#333" stroke-width="0.7"/>
<line x1="754.64" y1="67.6" x2="754.64" y2="69.1" stroke="#333" stroke-width="0.7"/>
<line x1="755.83" y1="118.8" x2="755.83" y2="117.3" stroke="#333" stroke-width="0.7"/>
<line x1="755.83" y1="67.6" x2="755.83" y2="69.1" stroke="#333" stroke-width="0.7"/>
<line x1="756.9" y1="118.8" x2="756.9" y2="116.3" stroke="#333" stroke-width="0.7"/>
<line x1="756.9" y1="67.6" x2="756.9" y2="70.1" stroke="#333" stroke-width="0.7"/>
<line x1="763.91" y1="118.8" x2="763.91" y2="117.3" stroke="#333" stroke-width="0.7"/>
<line x1="763.91" y1="67.6" x2="763.91" y2="69.1" stroke="#333" stroke-width="0.7"/>
<line x1="768.02" y1="118.8" x2="768.02" y2="117.3" stroke="#333" stroke-width="0.7"/>
<line x1="768.02" y1="67.6" x2="768.02" y2="69.1" stroke="#333" stroke-width="0.7"/>
<line x1="770.93" y1="118.8" x2="770.93" y2="117.3" stroke="#333" stroke-width="0.7"/>
<line x1="770.93" y1="67.6" x2="770.93" y2="69.1" stroke="#333" stroke-width="0.7"/>
<line x1="773.19" y1="118.8" x2="773.19" y2="117.3" stroke="#333" stroke-width="0.7"/>
<line x1="773.19" y1="67.6" x2="773.19" y2="69.1" stroke="#333" stroke-width="0.7"/>
<line x1="775.03" y1="118.8" x2="775.03" y2="117.3" stroke="#333" stroke-width="0.7"/>
<line x1="775.03" y1="67.6" x2="775.03" y2="69.1" stroke="#333" stroke-width="0.7"/>
<line x1="776.59" y1="118.8" x2="776.59" y2="117.3" stroke="#333" stroke-width="0.7"/>
<line x1="776.59" y1="67.6" x2="776.59" y2="69.1" stroke="#333" stroke-width="0.7"/>
<line x1="777.94" y1="118.8" x2="777.94" y2="117.3" stroke="#333" stroke-width="0.7"/>
<line x1="777.94" y1="67.6" x2="777.94" y2="69.1" stroke="#333" stroke-width="0.7"/>
<line x1="779.13" y1="118.8" x2="779.13" y2="117.3" stroke="#333" stroke-width="0.7"/>
<line x1="779.13" y1="67.6" x2="779.13" y2="69.1" stroke="#333" stroke-width="0.7"/>
<line x1="710.3" y1="118.8" x2="712.8" y2="118.8" stroke="#333" stroke-width="0.7"/>
<line x1="780.2" y1="118.8" x2="777.7" y2="118.8" stroke="#333" stroke-width="0.7"/>
<line x1="710.3" y1="111.09" x2="711.8" y2="111.09" stroke="#333" stroke-width="0.7"/>
<line x1="780.2" y1="111.09" x2="778.7" y2="111.09" stroke="#333" stroke-width="0.7"/>
<line x1="710.3" y1="106.59" x2="711.8" y2="106.59" stroke="#333" stroke-width="0.7"/>
<line x1="780.2" y1="106.59" x2="778.7" y2="106.59" stroke="#333" stroke-width="0.7"/>
<line x1="710.3" y1="103.39" x2="711.8" y2="103.39" stroke="#333" stroke-width="0.7"/>
<line x1="780.2" y1="103.39" x2="778.7" y2="103.39" stroke="#333" stroke-width="0.7"/>
<line x1="710.3" y1="100.91" x2="711.8" y2="100.91" stroke="#333" stroke-width="0.7"/>
<line x1="780.2" y1="100.91" x2="778.7" y2="100.91" stroke="#333" stroke-width="0.7"/>
<line x1="710.3" y1="98.88" x2="711.8" y2="98.88" stroke="#333" stroke-width="0.7"/>
<line x1="780.2" y1="98.88" x2="778.7" y2="98.88" stroke="#333" stroke-width="0.7"/>
<line x1="710.3" y1="97.17" x2="711.8" y2="97.17" stroke="#333" stroke-width="0.7"/>
<line x1="780.2" y1="97.17" x2="778.7" y2="97.17" stroke="#333" stroke-width="0.7"/>
<line x1="710.3" y1="95.68" x2="711.8" y2="95.68" stroke="#333" stroke-width="0.7"/>
<line x1="780.2" y1="95.68" x2="778.7" y2="95.68" stroke="#333" stroke-width="0.7"/>
<line x1="710.3" y1="94.37" x2="711.8" y2="94.37" stroke="#333" stroke-width="0.7"/>
<line x1="780.2" y1="94.37" x2="778.7" y2="94.37" stroke="#333" stroke-width="0.7"/>
<line x1="710.3" y1="93.2" x2="712.8" y2="93.2" stroke="#333" stroke-width="0.7"/>
<line x1="780.2" y1="93.2" x2="777.7" y2="93.2" stroke="#333" stroke-width="0.7"/>
<line x1="710.3" y1="85.49" x2="711.8" y2="85.49" stroke="#333" stroke-width="0.7"/>
<line x1="780.2" y1="85.49" x2="778.7" y2="85.49" stroke="#333" stroke-width="0.7"/>
<line x1="710.3" y1="80.99" x2="711.8" y2="80.99" stroke="#333" stroke-width="0.7"/>
<line x1="780.2" y1="80.99" x2="778.7" y2="80.99" stroke="#333" stroke-width="0.7"/>
<line x1="710.3" y1="77.79" x2="711.8" y2="77.79" stroke="#333" stroke-width="0.7"/>
<line x1="780.2" y1="77.79" x2="778.7" y2="77.79" stroke="#333" stroke-width="0.7"/>
<line x1="710.3" y1="75.31" x2="711.8" y2="75.31" stroke="#333" stroke-width="0.7"/>
<line x1="780.2" y1="75.31" x2="778.7" y2="75.31" stroke="#333" stroke-width="0.7"/>
<line x1="710.3" y1="73.28" x2="711.8" y2="73.28" stroke="#333" stroke-width="0.7"/>
<line x1="780.2" y1="73.28" x2="778.7" y2="73.28" stroke="#333" stroke-width="0.7"/>
<line x1="710.3" y1="71.57" x2="711.8" y2="71.57" stroke="#333" stroke-width="0.7"/>
<line x1="780.2" y1="71.57" x2="778.7" y2="71.57" stroke="#333" stroke-width="0.7"/>
<line x1="710.3" y1="70.08" x2="711.8" y2="70.08" stroke="#333" stroke-width="0.7"/>
<line x1="780.2" y1="70.08" x2="778.7" y2="70.08" stroke="#333" stroke-width="0.7"/>
<line x1="710.3" y1="68.77" x2="711.8" y2="68.77" stroke="#333" stroke-width="0.7"/>
<line x1="780.2" y1="68.77" x2="778.7" y2="68.77" stroke="#333" stroke-width="0.7"/>
<path d="M662.84,93.13 L663.15,116.88 L663.46,132.53 L663.77,143.83 L664.08,152.5 L664.4,159.4 L664.71,165.08 L665.02,169.85 L665.33,173.94 L665.65,177.49 L665.96,180.61 L666.27,183.38 L666.58,185.86 L666.89,188.1 L667.21,190.14 L667.52,192 L667.83,193.71 L668.14,195.29 L668.46,196.75 L668.77,198.11 L669.08,199.38 L669.39,200.56 L669.7,201.68 L670.02,202.73 L670.33,203.72 L670.64,204.65 L670.95,205.54 L671.27,206.38 L671.58,207.18 L671.89,207.94 L672.2,208.66 L672.51,209.36 L672.83,210.02 L673.14,210.65 L673.45,211.26 L673.76,211.85 L674.07,212.41 L674.39,212.95 L674.7,213.47 L675.01,213.97 L675.32,214.45 L675.64,214.92 L675.95,215.37 L676.26,215.81 L676.57,216.23 L676.88,216.64 L677.2,217.03 L677.51,217.42 L677.82,217.79 L678.13,218.15 L678.45,218.5 L678.76,218.85 L679.07,219.18 L679.38,219.5 L679.69,219.82 L680.01,220.12 L680.32,220.42 L680.63,220.71 L680.94,220.99 L681.26,221.27 L681.57,221.54 L681.88,221.81 L682.19,222.06 L682.5,222.31 L682.82,222.56 L683.13,222.8 L683.44,223.04 L683.75,223.27 L684.06,223.49 L684.38,223.71 L684.69,223.93 L685,224.14 L685.31,224.35 L685.63,224.55 L685.94,224.75 L686.25,224.95 L686.56,225.14 L686.87,225.32 L687.19,225.51 L687.5,225.69 L687.81,225.87 L688.12,226.04 L688.44,226.21 L688.75,226.38 L689.06,226.55 L689.37,226.71 L689.68,226.87 L690,227.03 L690.31,227.18 L690.62,227.34 L690.93,227.48 L691.25,227.63 L691.56,227.78 L691.87,227.92 L692.18,228.06 L692.49,228.2 L692.81,228.33 L693.12,228.47 L693.43,228.6 L693.74,228.73 L694.06,228.86 L694.37,228.99 L694.68,229.11 L694.99,229.23 L695.3,229.35 L695.62,229.47 L695.93,229.59 L696.24,229.71 L696.55,229.82 L696.86,229.93 L697.18,230.05 L697.49,230.16 L697.8,230.26 L698.11,230.37 L698.43,230.48 L698.74,230.58 L699.05,230.68 L699.36,230.79 L699.67,230.89 L699.99,230.99 L700.3,231.08 L700.61,231.18 L700.92,231.28 L701.24,231.37 L701.55,231.47 L701.86,231.56 L702.17,231.65 L702.48,231.74 L702.8,231.83 L703.11,231.92 L703.42,232 L703.73,232.09 L704.05,232.17 L704.36,232.26 L704.67,232.34 L704.98,232.42 L705.29,232.51 L705.61,232.59 L705.92,232.67 L706.23,232.75 L706.54,232.82 L706.85,232.9 L707.17,232.98 L707.48,233.05 L707.79,233.13 L708.1,233.2 L708.42,233.28 L708.73,233.35 L709.04,233.42 L709.35,233.49 L709.66,233.56 L709.98,233.63 L710.29,233.7 L710.6,233.77 L710.91,233.84 L711.23,233.91 L711.54,233.97 L711.85,234.04 L712.16,234.1 L712.47,234.17 L712.79,234.23 L713.1,234.3 L713.41,234.36 L713.72,234.42 L714.04,234.48 L714.35,234.54 L714.66,234.6 L714.97,234.66 L715.28,234.72 L715.6,234.78 L715.91,234.84 L716.22,234.9 L716.53,234.96 L716.84,235.02 L717.16,235.07 L717.47,235.13 L717.78,235.18 L718.09,235.24 L718.41,235.29 L718.72,235.35 L719.03,235.4 L719.34,235.46 L719.65,235.51 L719.97,235.56 L720.28,235.61 L720.59,235.66 L720.9,235.72 L721.22,235.77 L721.53,235.82 L721.84,235.87 L722.15,235.92 L722.46,235.97 L722.78,236.02 L723.09,236.06 L723.4,236.11 L723.71,236.16 L724.03,236.21 L724.34,236.25 L724.65,236.3 L724.96,236.35 L725.27,236.39 L725.59,236.44 L725.9,236.48 L726.21,236.53 L726.52,236.57 L726.84,236.62 L727.15,236.66 L727.46,236.71 L727.77,236.75 L728.08,236.79 L728.4,236.84 L728.71,236.88 L729.02,236.92 L729.33,236.96 L729.64,237 L729.96,237.05 L730.27,237.09 L730.58,237.13 L730.89,237.17 L731.21,237.21 L731.52,237.25 L731.83,237.29 L732.14,237.33 L732.45,237.37 L732.77,237.41 L733.08,237.44 L733.39,237.48 L733.7,237.52 L734.02,237.56 L734.33,237.6 L734.64,237.63 L734.95,237.67 L735.26,237.71 L735.58,237.75 L735.89,237.78 L736.2,237.82 L736.51,237.85 L736.83,237.89 L737.14,237.93 L737.45,237.96 L737.76,238 L738.07,238.03 L738.39,238.07 L738.7,238.1 L739.01,238.13 L739.32,238.17 L739.63,238.2 L739.95,238.24 L740.26,238.27 L740.57,238.3 L740.88,238.34 L741.2,238.37 L741.51,238.4 L741.82,238.43 L742.13,238.47 L742.44,238.5 L742.76,238.53 L743.07,238.56 L743.38,238.59 L743.69,238.63 L744.01,238.66 L744.32,238.69 L744.63,238.72 L744.94,238.75 L745.25,238.78 L745.57,238.81 L745.88,238.84 L746.19,238.87 L746.5,238.9 L746.82,238.93 L747.13,238.96 L747.44,238.99 L747.75,239.02 L748.06,239.05 L748.38,239.08 L748.69,239.1 L749,239.13 L749.31,239.16 L749.62,239.19 L749.94,239.22 L750.25,239.25 L750.56,239.27 L750.87,239.3 L751.19,239.33 L751.5,239.36 L751.81,239.38 L752.12,239.41 L752.43,239.44 L752.75,239.46 L753.06,239.49 L753.37,239.52 L753.68,239.54 L754,239.57 L754.31,239.6 L754.62,239.62 L754.93,239.65 L755.24,239.67 L755.56,239.7 L755.87,239.72 L756.18,239.75 L756.49,239.77 L756.81,239.8 L757.12,239.82 L757.43,239.85 L757.74,239.87 L758.05,239.9 L758.37,239.92 L758.68,239.95 L758.99,239.97 L759.3,240 L759.62,240.02 L759.93,240.04 L760.24,240.07 L760.55,240.09 L760.86,240.11 L761.18,240.14 L761.49,240.16 L761.8,240.18 L762.11,240.21 L762.42,240.23 L762.74,240.25 L763.05,240.28 L763.36,240.3 L763.67,240.32 L763.99,240.34 L764.3,240.37 L764.61,240.39 L764.92,240.41 L765.23,240.43 L765.55,240.46 L765.86,240.48 L766.17,240.5 L766.48,240.52 L766.8,240.54 L767.11,240.56 L767.42,240.59 L767.73,240.61 L768.04,240.63 L768.36,240.65 L768.67,240.67 L768.98,240.69 L769.29,240.71 L769.61,240.73 L769.92,240.75 L770.23,240.77 L770.54,240.79 L770.85,240.81 L771.17,240.83 L771.48,240.85 L771.79,240.87 L772.1,240.9 L772.41,240.91 L772.73,240.93 L773.04,240.95 L773.35,240.97 L773.66,240.99 L773.98,241.01 L774.29,241.03 L774.6,241.05 L774.91,241.07 L775.22,241.09 L775.54,241.11 L775.85,241.13 L776.16,241.15 L776.47,241.17 L776.79,241.19 L777.1,241.2 L777.41,241.22 L777.72,241.24 L778.03,241.26 L778.35,241.28 L778.66,241.3 L778.97,241.32 L779.28,241.33 L779.6,241.35 L779.91,241.37 L780.22,241.39 L780.53,241.41 L780.84,241.42 L781.16,241.44 L781.47,241.46 L781.78,241.48 L782.09,241.49 L782.4,241.51 L782.72,241.53 L783.03,241.55 L783.34,241.56 L783.65,241.58 L783.97,241.6 L784.28,241.62 L784.59,241.63 L784.9,241.65 L785.21,241.67 L785.53,241.68 L785.84,241.7 L786.15,241.72 L786.46,241.73 L786.78,241.75 L787.09,241.77 L787.4,241.78" fill="none" stroke="#ee1c24" stroke-width="2" clip-path="url(#cf)"/>
<path d="M666.1,154.1 V182 M661.9,154.1 H670.3 M661.9,182 H670.3" stroke="#5ab0ec" stroke-width="1.2" fill="none"/>
<path d="M669.1,185.2 V195.6 M664.9,185.2 H673.3 M664.9,195.6 H673.3" stroke="#5ab0ec" stroke-width="1.2" fill="none"/>
<path d="M678.8,209.4 V217.1 M674.6,209.4 H683 M674.6,217.1 H683" stroke="#5ab0ec" stroke-width="1.2" fill="none"/>
<path d="M685.3,221 V231 M681.1,221 H689.5 M681.1,231 H689.5" stroke="#5ab0ec" stroke-width="1.2" fill="none"/>
<path d="M689.3,230 V236 M685.1,230 H693.5 M685.1,236 H693.5" stroke="#5ab0ec" stroke-width="1.2" fill="none"/>
<path d="M692.9,231 V236.5 M688.7,231 H697.1 M688.7,236.5 H697.1" stroke="#5ab0ec" stroke-width="1.2" fill="none"/>
<path d="M701.9,231 V242 M697.7,231 H706.1 M697.7,242 H706.1" stroke="#5ab0ec" stroke-width="1.2" fill="none"/>
<path d="M733.4,238 V246.9 M729.2,238 H737.6 M729.2,246.9 H737.6" stroke="#5ab0ec" stroke-width="1.2" fill="none"/>
<path d="M756.9,243.5 V248.9 M752.7,243.5 H761.1 M752.7,248.9 H761.1" stroke="#5ab0ec" stroke-width="1.2" fill="none"/>
<path d="M783.9,239 V246 M779.7,239 H788.1 M779.7,246 H788.1" stroke="#5ab0ec" stroke-width="1.2" fill="none"/>
<path d="M675,221 H685" stroke="#5ab0ec" stroke-width="1.2" fill="none"/>
<circle cx="666.1" cy="168" r="3.2" fill="url(#ball)"/>
<circle cx="669.1" cy="190.4" r="3.2" fill="url(#ball)"/>
<circle cx="678.8" cy="213.4" r="3.2" fill="url(#ball)"/>
<circle cx="685.3" cy="226.4" r="3.2" fill="url(#ball)"/>
<circle cx="689.3" cy="233" r="3.2" fill="url(#ball)"/>
<circle cx="692.9" cy="233.6" r="3.2" fill="url(#ball)"/>
<circle cx="701.9" cy="236.4" r="3.2" fill="url(#ball)"/>
<circle cx="733.4" cy="241.9" r="3.2" fill="url(#ball)"/>
<circle cx="756.9" cy="246.3" r="3.2" fill="url(#ball)"/>
<circle cx="783.9" cy="242.3" r="3.2" fill="url(#ball)"/>
<rect x="661.75" y="137.5" width="126.25" height="117.5" fill="none" stroke="#222" stroke-width="1.4"/>
<line x1="662" y1="255" x2="662" y2="252" stroke="#222" stroke-width="1.1"/>
<line x1="662" y1="137.5" x2="662" y2="140.5" stroke="#222" stroke-width="1.1"/>
<line x1="682.9" y1="255" x2="682.9" y2="252" stroke="#222" stroke-width="1.1"/>
<line x1="682.9" y1="137.5" x2="682.9" y2="140.5" stroke="#222" stroke-width="1.1"/>
<line x1="703.8" y1="255" x2="703.8" y2="252" stroke="#222" stroke-width="1.1"/>
<line x1="703.8" y1="137.5" x2="703.8" y2="140.5" stroke="#222" stroke-width="1.1"/>
<line x1="724.7" y1="255" x2="724.7" y2="252" stroke="#222" stroke-width="1.1"/>
<line x1="724.7" y1="137.5" x2="724.7" y2="140.5" stroke="#222" stroke-width="1.1"/>
<line x1="745.6" y1="255" x2="745.6" y2="252" stroke="#222" stroke-width="1.1"/>
<line x1="745.6" y1="137.5" x2="745.6" y2="140.5" stroke="#222" stroke-width="1.1"/>
<line x1="766.5" y1="255" x2="766.5" y2="252" stroke="#222" stroke-width="1.1"/>
<line x1="766.5" y1="137.5" x2="766.5" y2="140.5" stroke="#222" stroke-width="1.1"/>
<line x1="787.4" y1="255" x2="787.4" y2="252" stroke="#222" stroke-width="1.1"/>
<line x1="787.4" y1="137.5" x2="787.4" y2="140.5" stroke="#222" stroke-width="1.1"/>
<line x1="661.75" y1="255" x2="664.75" y2="255" stroke="#222" stroke-width="1.1"/>
<line x1="788" y1="255" x2="785" y2="255" stroke="#222" stroke-width="1.1"/>
<line x1="661.75" y1="231.4" x2="664.75" y2="231.4" stroke="#222" stroke-width="1.1"/>
<line x1="788" y1="231.4" x2="785" y2="231.4" stroke="#222" stroke-width="1.1"/>
<line x1="661.75" y1="207.8" x2="664.75" y2="207.8" stroke="#222" stroke-width="1.1"/>
<line x1="788" y1="207.8" x2="785" y2="207.8" stroke="#222" stroke-width="1.1"/>
<line x1="661.75" y1="184.2" x2="664.75" y2="184.2" stroke="#222" stroke-width="1.1"/>
<line x1="788" y1="184.2" x2="785" y2="184.2" stroke="#222" stroke-width="1.1"/>
<line x1="661.75" y1="160.6" x2="664.75" y2="160.6" stroke="#222" stroke-width="1.1"/>
<line x1="788" y1="160.6" x2="785" y2="160.6" stroke="#222" stroke-width="1.1"/>
<line x1="661.75" y1="137" x2="664.75" y2="137" stroke="#222" stroke-width="1.1"/>
<line x1="788" y1="137" x2="785" y2="137" stroke="#222" stroke-width="1.1"/>
<defs><linearGradient id="lvl" x1="0" x2="0" y1="0" y2="1"><stop offset="0" stop-color="#ffffff"/><stop offset="0.15" stop-color="#b8c6ca"/><stop offset="0.33" stop-color="#3c4a50"/><stop offset="0.45" stop-color="#0c0e10"/><stop offset="0.58" stop-color="#0c0e10"/><stop offset="0.72" stop-color="#3c4a50"/><stop offset="0.88" stop-color="#b8c6ca"/><stop offset="1" stop-color="#ffffff"/></linearGradient></defs>
<rect x="100" y="24.25" width="81" height="6.5" fill="url(#lvl)"/>
<line x1="100" y1="40.5" x2="181" y2="40.5" stroke="#111" stroke-width="1.9" stroke-dasharray="6,4.5"/>
<rect x="19.5" y="68.85" width="80.5" height="6.5" fill="url(#lvl)"/>
<line x1="19.5" y1="87" x2="100" y2="87" stroke="#111" stroke-width="1.9" stroke-dasharray="6,4.5"/>
<rect x="63.75" y="180.45" width="80.95" height="11.5" fill="url(#lvl)"/>
<line x1="63.75" y1="207" x2="141.25" y2="207" stroke="#111" stroke-width="1.9" stroke-dasharray="6,4.5"/>
<rect x="6.25" y="261.5" width="81.45" height="9" fill="url(#lvl)"/>
<path d="M100,27.5 L98.7,27.21 L98,26.85 L97.43,26.62 L96.98,26.55 L96.67,26.63 L96.5,26.87 L96.47,27.28 L96.57,27.84 L96.79,28.53 L97.11,29.35 L97.52,30.27 L98,31.26 L98.51,32.3 L99.03,33.35 L99.54,34.38 L100,35.36 L100.41,36.27 L100.72,37.08 L100.93,37.76 L101.01,38.3 L100.96,38.69 L100.78,38.91 L100.45,38.98 L99.99,38.88 L99.39,38.64 L98.69,38.26 L97.89,37.77 L97.01,37.2 L96.08,36.56 L95.12,35.89 L94.17,35.22 L93.24,34.59 L92.36,34.01 L91.55,33.52 L90.85,33.14 L90.25,32.89 L89.78,32.79 L89.45,32.85 L89.26,33.07 L89.21,33.46 L89.3,33.99 L89.5,34.67 L89.81,35.48 L90.21,36.38 L90.68,37.37 L91.18,38.4 L91.71,39.45 L92.22,40.48 L92.69,41.47 L93.1,42.4 L93.43,43.22 L93.65,43.92 L93.76,44.48 L93.73,44.89 L93.56,45.14 L93.25,45.22 L92.81,45.15 L92.23,44.93 L91.54,44.57 L90.76,44.09 L89.89,43.53 L88.96,42.9 L88.01,42.23 L87.05,41.56 L86.11,40.92 L85.23,40.33 L84.41,39.83 L83.69,39.43 L83.08,39.16 L82.59,39.04 L82.24,39.08 L82.03,39.28 L81.96,39.64 L82.03,40.16 L82.21,40.82 L82.51,41.6 L82.9,42.5 L83.36,43.47 L83.86,44.5 L84.38,45.54 L84.9,46.58 L85.38,47.58 L85.8,48.52 L86.14,49.35 L86.38,50.07 L86.5,50.66 L86.49,51.09 L86.34,51.36 L86.05,51.47 L85.63,51.42 L78.76,46.88" fill="none" stroke="#6a7076" stroke-width="1.7" stroke-linejoin="round" stroke-linecap="round"/>
<path d="M75,44.4 L82.24,45.23 L79.07,47.09 L78.61,50.74 Z" fill="#6a7076"/>
<path d="M19.5,72.5 L19.59,72.88 L18.5,72.9 L17.44,72.94 L16.46,73.01 L15.59,73.11 L14.85,73.26 L14.26,73.47 L13.86,73.74 L13.64,74.08 L13.62,74.48 L13.78,74.95 L14.11,75.48 L14.61,76.07 L15.23,76.71 L15.96,77.38 L16.76,78.08 L17.59,78.79 L18.42,79.5 L19.21,80.19 L19.92,80.86 L20.52,81.49 L20.99,82.07 L21.29,82.59 L21.41,83.05 L21.35,83.44 L21.1,83.76 L20.66,84.02 L20.04,84.21 L19.28,84.35 L18.38,84.45 L17.38,84.51 L16.31,84.54 L15.22,84.57 L14.13,84.59 L13.09,84.64 L12.12,84.71 L11.27,84.82 L10.56,84.98 L10.02,85.2 L9.65,85.48 L9.47,85.83 L9.48,86.25 L9.68,86.73 L10.04,87.28 L10.57,87.88 L11.21,88.52 L11.96,89.2 L12.77,89.9 L13.6,90.61 L14.43,91.32 L15.2,92.01 L15.89,92.67 L16.47,93.29 L16.9,93.86 L17.17,94.37 L17.26,94.81 L17.16,95.19 L16.87,95.5 L16.4,95.74 L15.75,95.93 L14.95,96.06 L14.03,96.15 L13.02,96.2 L11.95,96.23 L10.85,96.25 L9.77,96.28 L8.74,96.33 L7.79,96.41 L6.97,96.53 L6.29,96.7 L5.78,96.93 L5.44,97.23 L5.3,97.59 L5.35,98.02 L5.58,98.52 L5.98,99.08 L6.53,99.68 L7.2,100.34 L7.96,101.02 L8.78,101.72 L9.61,102.44 L10.43,103.14 L11.19,103.82 L11.86,104.48 L12.41,105.09 L12.82,105.64 L13.05,106.14 L13.1,106.57 L12.96,106.94 L12.64,107.24 L7.86,106.6" fill="none" stroke="#6a7076" stroke-width="1.7" stroke-linejoin="round" stroke-linecap="round"/>
<path d="M3.4,106 L10.28,103.59 L8.23,106.65 L9.4,110.13 Z" fill="#6a7076"/>
<path d="M64.2,189.2 L64.36,190.19 L63.31,190.15 L62.3,190.13 L61.35,190.14 L60.51,190.19 L59.78,190.3 L59.21,190.47 L58.8,190.71 L58.56,191.02 L58.5,191.41 L58.61,191.88 L58.88,192.41 L59.3,193.01 L59.84,193.66 L60.48,194.35 L61.19,195.08 L61.94,195.81 L62.68,196.55 L63.39,197.27 L64.03,197.97 L64.58,198.62 L65,199.22 L65.27,199.75 L65.38,200.21 L65.32,200.6 L65.08,200.92 L64.66,201.16 L64.09,201.33 L63.37,201.43 L62.52,201.48 L61.57,201.49 L60.56,201.47 L59.51,201.44 L58.47,201.4 L57.45,201.38 L56.51,201.39 L55.66,201.44 L54.94,201.55 L54.36,201.71 L53.95,201.95 L53.71,202.27 L53.64,202.65 L53.75,203.12 L54.02,203.65 L54.44,204.25 L54.98,204.9 L55.63,205.59 L56.34,206.32 L57.08,207.05 L57.82,207.79 L58.53,208.51 L59.18,209.21 L59.72,209.86 L60.14,210.46 L60.41,210.99 L60.53,211.46 L60.46,211.85 L60.23,212.16 L59.82,212.4 L59.24,212.57 L58.52,212.68 L57.68,212.73 L56.73,212.74 L55.72,212.72 L54.67,212.68 L53.63,212.65 L52.61,212.63 L51.67,212.64 L50.82,212.69 L50.09,212.79 L49.51,212.96 L49.1,213.2 L48.86,213.51 L48.79,213.9 L48.9,214.36 L49.17,214.89 L49.58,215.49 L50.13,216.14 L50.77,216.84 L51.48,217.56 L52.22,218.3 L52.96,219.03 L53.67,219.76 L54.32,220.45 L54.86,221.1 L55.29,221.7 L55.56,222.24 L55.67,222.7 L55.61,223.09 L55.38,223.41 L49.7,223.18" fill="none" stroke="#6a7076" stroke-width="1.7" stroke-linejoin="round" stroke-linecap="round"/>
<path d="M45.2,223 L51.83,219.96 L50.07,223.2 L51.56,226.56 Z" fill="#6a7076"/>
<line x1="64.79" y1="66.76" x2="130.81" y2="42.24" stroke="#5b2cf2" stroke-width="2.3"/>
<path d="M60.1,68.5 L65.48,62.88 L65.02,66.67 L67.85,69.25 Z" fill="#5b2cf2"/>
<path d="M135.5,40.5 L130.12,46.12 L130.58,42.33 L127.75,39.75 Z" fill="#5b2cf2"/>
<line x1="60.43" y1="92.28" x2="101.67" y2="175.22" stroke="#2244ee" stroke-width="2.4"/>
<path d="M58.2,87.8 L64.36,92.55 L60.54,92.5 L58.27,95.58 Z" fill="#2244ee"/>
<path d="M103.9,179.7 L97.74,174.95 L101.56,175 L103.83,171.92 Z" fill="#2244ee"/>
<line x1="48.3" y1="257.5" x2="99.95" y2="213.25" stroke="#f01e28" stroke-width="3.2"/>
<path d="M44.5,260.75 L48.59,250.92 L49.91,256.11 L54.84,258.22 Z" fill="#f01e28"/>
<path d="M103.75,210 L99.66,219.83 L98.34,214.64 L93.41,212.53 Z" fill="#f01e28"/>
<line x1="157.4" y1="47" x2="157.4" y2="61" stroke="#111" stroke-width="1.2"/>
<path d="M169.6,47 L173,54 L169.6,61" fill="none" stroke="#111" stroke-width="1.1"/>
<line x1="88.2" y1="99.6" x2="88.2" y2="113.8" stroke="#111" stroke-width="1.2"/>
<path d="M100.5,99.6 L103.8,106.7 L100.5,113.8" fill="none" stroke="#111" stroke-width="1.1"/>
<line x1="127.1" y1="218.6" x2="127.1" y2="232.8" stroke="#111" stroke-width="1.2"/>
<path d="M139.4,218.6 L143.5,225.7 L139.4,232.8" fill="none" stroke="#111" stroke-width="1.1"/>
<line x1="37.4" y1="276.2" x2="37.4" y2="290.4" stroke="#111" stroke-width="1.2"/>
<path d="M50.2,276.2 L53.8,283.3 L50.2,290.4" fill="none" stroke="#111" stroke-width="1.1"/>
<g style="will-change:transform">
<text id="t_a_lbl" x="8.90" y="24.50" font-size="17.46" font-family="Liberation Sans" fill="#1a1a1a" stroke="#1a1a1a" stroke-width="0.18" textLength="20.03" lengthAdjust="spacingAndGlyphs">(a)</text>
<text id="t_G4" x="66.44" y="28.54" font-size="14.22" font-family="Liberation Serif" fill="#5f6c76" font-weight="bold" stroke="#5f6c76" stroke-width="0.18" textLength="15.54" lengthAdjust="spacingAndGlyphs"><tspan font-style="italic">Γ</tspan><tspan font-size="68%" dy="3.4" dx="0.6" font-weight="normal">4</tspan></text>
<text id="t_DL" x="185.42" y="36.52" font-size="15.33" font-family="Liberation Serif" fill="#5b2cf2" font-weight="bold" stroke="#5b2cf2" stroke-width="0.18" textLength="16.31" lengthAdjust="spacingAndGlyphs"><tspan font-style="italic">Δ</tspan><tspan font-size="72%" dy="2.8" dx="0.6">L</tspan></text>
<text id="t_k4" x="161.42" y="58.18" font-size="13.63" font-family="Liberation Serif" fill="#1a1a1a" stroke="#1a1a1a" stroke-width="0.18">4</text>
<text id="t_OL" x="121.58" y="62.82" font-size="14.05" font-family="Liberation Serif" fill="#5b2cf2" font-weight="bold" stroke="#5b2cf2" stroke-width="0.18" textLength="18.26" lengthAdjust="spacingAndGlyphs"><tspan font-style="italic">Ω</tspan><tspan font-size="72%" dy="2.8" dx="0.6">L</tspan></text>
<text id="t_Dc" x="109.44" y="82.00" font-size="16.50" font-family="Liberation Serif" fill="#2244ee" font-weight="bold" stroke="#2244ee" stroke-width="0.18" textLength="15.56" lengthAdjust="spacingAndGlyphs"><tspan font-style="italic">Δ</tspan><tspan font-size="85%" dy="3.4" dx="0.6">c</tspan></text>
<text id="t_G3" x="19.14" y="106.26" font-size="14.72" font-family="Liberation Serif" fill="#5f6c76" font-weight="bold" stroke="#5f6c76" stroke-width="0.18" textLength="15.47" lengthAdjust="spacingAndGlyphs"><tspan font-style="italic">Γ</tspan><tspan font-size="68%" dy="3.4" dx="0.6" font-weight="normal">3</tspan></text>
<text id="t_k3" x="90.70" y="110.48" font-size="15.93" font-family="Liberation Serif" fill="#1a1a1a" stroke="#1a1a1a" stroke-width="0.18">3</text>
<text id="t_Oc" x="43.58" y="143.06" font-size="15.33" font-family="Liberation Serif" fill="#2244ee" font-weight="bold" stroke="#2244ee" stroke-width="0.18" textLength="16.73" lengthAdjust="spacingAndGlyphs"><tspan font-style="italic">Ω</tspan><tspan font-size="85%" dy="3.2" dx="0.6">c</tspan></text>
<text id="t_Dp" x="150.70" y="198.64" font-size="16.25" font-family="Liberation Serif" fill="#f01e28" font-weight="bold" stroke="#f01e28" stroke-width="0.18" textLength="16.44" lengthAdjust="spacingAndGlyphs"><tspan font-style="italic">Δ</tspan><tspan font-size="80%" dy="2.9" dx="0.6">p</tspan></text>
<text id="t_G2" x="28.88" y="204.26" font-size="14.72" font-family="Liberation Serif" fill="#5f6c76" font-weight="bold" stroke="#5f6c76" stroke-width="0.18" textLength="16.40" lengthAdjust="spacingAndGlyphs"><tspan font-style="italic">Γ</tspan><tspan font-size="68%" dy="3.4" dx="0.6" font-weight="normal">2</tspan></text>
<text id="t_k2" x="130.40" y="229.90" font-size="16.27" font-family="Liberation Serif" fill="#1a1a1a" stroke="#1a1a1a" stroke-width="0.18">2</text>
<text id="t_Op" x="90.20" y="238.52" font-size="15.04" font-family="Liberation Serif" fill="#f01e28" font-weight="bold" stroke="#f01e28" stroke-width="0.18" textLength="17.93" lengthAdjust="spacingAndGlyphs"><tspan font-style="italic">Ω</tspan><tspan font-size="80%" dy="2.8" dx="0.6">p</tspan></text>
<text id="t_k1" x="40.46" y="287.98" font-size="16.27" font-family="Liberation Serif" fill="#1a1a1a" stroke="#1a1a1a" stroke-width="0.18">1</text>
<text id="t_b_lbl" x="207.82" y="24.82" font-size="18.31" font-family="Liberation Sans" fill="#1a1a1a" stroke="#1a1a1a" stroke-width="0.18" textLength="22.15" lengthAdjust="spacingAndGlyphs">(b)</text>
<text id="t_cb_t" x="337.18" y="23.26" font-size="10.18" font-family="Liberation Sans" fill="#1a1a1a" stroke="#1a1a1a" stroke-width="0.18" textLength="60.41" lengthAdjust="spacingAndGlyphs">Ω<tspan font-size="70%" dy="2" font-style="italic">L</tspan><tspan dy="-2">/2</tspan><tspan font-family="Liberation Serif" font-style="italic">π</tspan>(MHz)</text>
<text id="t_cb0" x="337.60" y="53.60" font-size="10.29" font-family="Liberation Sans" fill="#1a1a1a" stroke="#1a1a1a" stroke-width="0.18">0</text>
<text id="t_cb50" x="362.64" y="53.60" font-size="10.29" font-family="Liberation Sans" fill="#1a1a1a" stroke="#1a1a1a" stroke-width="0.18" textLength="12.45" lengthAdjust="spacingAndGlyphs">50</text>
<text id="t_cb100" x="386.94" y="53.60" font-size="10.29" font-family="Liberation Sans" fill="#1a1a1a" stroke="#1a1a1a" stroke-width="0.18" textLength="17.74" lengthAdjust="spacingAndGlyphs">100</text>
<text id="t_b_y05" x="412.08" y="39.74" font-size="13.53" font-family="Liberation Sans" fill="#1a1a1a" stroke="#1a1a1a" stroke-width="0.18" textLength="18.97" lengthAdjust="spacingAndGlyphs">0.5</text>
<text id="t_b_y0" x="412.06" y="110.96" font-size="14.00" font-family="Liberation Sans" fill="#1a1a1a" stroke="#1a1a1a" stroke-width="0.18">0</text>
<text id="t_b_ylab" transform="translate(448.72,116.92) rotate(-90)" font-size="13.32" font-family="Liberation Sans" fill="#1a1a1a" stroke="#1a1a1a" stroke-width="0.18" textLength="113.23" lengthAdjust="spacingAndGlyphs">Transmission(a.u.)</text>
<text id="t_b_x100L" x="203.96" y="126.20" font-size="13.73" font-family="Liberation Sans" fill="#1a1a1a" stroke="#1a1a1a" stroke-width="0.18" textLength="20.67" lengthAdjust="spacingAndGlyphs">100</text>
<text id="t_b_xm50" x="246.52" y="125.46" font-size="11.93" font-family="Liberation Sans" fill="#1a1a1a" stroke="#1a1a1a" stroke-width="0.18" textLength="23.40" lengthAdjust="spacingAndGlyphs">−50</text>
<text id="t_b_x0" x="304.86" y="125.46" font-size="11.93" font-family="Liberation Sans" fill="#1a1a1a" stroke="#1a1a1a" stroke-width="0.18">0</text>
<text id="t_b_x50" x="349.34" y="126.68" font-size="13.15" font-family="Liberation Sans" fill="#1a1a1a" stroke="#1a1a1a" stroke-width="0.18" textLength="14.84" lengthAdjust="spacingAndGlyphs">50</text>
<text id="t_b_x100R" x="396.42" y="126.68" font-size="13.15" font-family="Liberation Sans" fill="#1a1a1a" stroke="#1a1a1a" stroke-width="0.18" textLength="21.34" lengthAdjust="spacingAndGlyphs">100</text>
<text id="t_b_xlab" x="271.08" y="143.62" font-size="14.52" font-family="Liberation Sans" fill="#1a1a1a" stroke="#1a1a1a" stroke-width="0.18" textLength="74.48" lengthAdjust="spacingAndGlyphs">Δ<tspan font-size="70%" dy="2.5" font-style="italic">c</tspan><tspan dy="-2.5">/2</tspan><tspan font-family="Liberation Serif" font-style="italic">π</tspan>(MHz)</text>
<text id="t_c_lbl" x="210.42" y="169.50" font-size="17.33" font-family="Liberation Sans" fill="#1a1a1a" stroke="#1a1a1a" stroke-width="0.18" textLength="19.41" lengthAdjust="spacingAndGlyphs">(c)</text>
<text id="t_AR" x="255.08" y="175.02" font-size="13.53" font-family="Liberation Sans" fill="#1a1a1a" stroke="#1a1a1a" stroke-width="0.18" textLength="17.81" lengthAdjust="spacingAndGlyphs">AR</text>
<text id="t_NL" x="308.04" y="175.02" font-size="13.53" font-family="Liberation Sans" fill="#1a1a1a" stroke="#1a1a1a" stroke-width="0.18" textLength="17.62" lengthAdjust="spacingAndGlyphs">NL</text>
<text id="t_AT" x="358.08" y="175.02" font-size="13.53" font-family="Liberation Sans" fill="#1a1a1a" stroke="#1a1a1a" stroke-width="0.18" textLength="16.08" lengthAdjust="spacingAndGlyphs">AT</text>
<text id="t_c_y40" x="412.18" y="164.74" font-size="13.53" font-family="Liberation Sans" fill="#1a1a1a" stroke="#1a1a1a" stroke-width="0.18" textLength="14.21" lengthAdjust="spacingAndGlyphs">40</text>
<text id="t_c_y20" x="411.36" y="210.58" font-size="13.88" font-family="Liberation Sans" fill="#1a1a1a" stroke="#1a1a1a" stroke-width="0.18" textLength="15.17" lengthAdjust="spacingAndGlyphs">20</text>
<text id="t_c_y0" x="412.02" y="256.06" font-size="13.15" font-family="Liberation Sans" fill="#1a1a1a" stroke="#1a1a1a" stroke-width="0.18">0</text>
<text id="t_c_ylab" transform="translate(443.08,264.74) rotate(-90)" font-size="13.09" font-family="Liberation Sans" fill="#1a1a1a" stroke="#1a1a1a" stroke-width="0.18" textLength="116.80" lengthAdjust="spacingAndGlyphs">Peak splitting(MHz)</text>
<text id="t_NH" x="386.50" y="227.58" font-size="11.53" font-family="Liberation Sans" fill="#1a1a1a" font-weight="bold" stroke="#1a1a1a" stroke-width="0.18" textLength="18.05" lengthAdjust="spacingAndGlyphs">NH</text>
<text id="t_H" x="385.68" y="249.00" font-size="13.00" font-family="Liberation Sans" fill="#1a1a1a" font-weight="bold" stroke="#1a1a1a" stroke-width="0.18">H</text>
<text id="t_EP" x="326.56" y="236.00" font-size="14.34" font-family="Liberation Sans" fill="#f01e28" font-weight="bold" stroke="#f01e28" stroke-width="0.18" textLength="16.74" lengthAdjust="spacingAndGlyphs">EP</text>
<text id="t_c_x0" x="206.16" y="271.64" font-size="13.29" font-family="Liberation Sans" fill="#1a1a1a" stroke="#1a1a1a" stroke-width="0.18">0</text>
<text id="t_c_x10" x="251.18" y="271.64" font-size="13.29" font-family="Liberation Sans" fill="#1a1a1a" stroke="#1a1a1a" stroke-width="0.18" textLength="14.47" lengthAdjust="spacingAndGlyphs">10</text>
<text id="t_c_x20" x="300.16" y="270.98" font-size="13.41" font-family="Liberation Sans" fill="#1a1a1a" stroke="#1a1a1a" stroke-width="0.18" textLength="15.64" lengthAdjust="spacingAndGlyphs">20</text>
<text id="t_c_x30" x="349.56" y="271.92" font-size="13.53" font-family="Liberation Sans" fill="#1a1a1a" stroke="#1a1a1a" stroke-width="0.18" textLength="14.74" lengthAdjust="spacingAndGlyphs">30</text>
<text id="t_c_x40" x="397.50" y="271.92" font-size="13.53" font-family="Liberation Sans" fill="#1a1a1a" stroke="#1a1a1a" stroke-width="0.18" textLength="15.10" lengthAdjust="spacingAndGlyphs">40</text>
<text id="t_c_xlab" x="269.92" y="289.96" font-size="11.46" font-family="Liberation Sans" fill="#1a1a1a" stroke="#1a1a1a" stroke-width="0.18" textLength="75.59" lengthAdjust="spacingAndGlyphs">Ω<tspan font-size="70%" dy="2" font-style="italic">L</tspan><tspan dy="-2">/2</tspan><tspan font-family="Liberation Serif" font-style="italic">π</tspan>(MHz)</text>
<text id="t_d_lbl" x="497.46" y="24.26" font-size="17.66" font-family="Liberation Sans" fill="#1a1a1a" stroke="#1a1a1a" stroke-width="0.18" textLength="21.51" lengthAdjust="spacingAndGlyphs">(d)</text>
<text id="t_d_y4" x="482.03" y="12.90" font-size="11.93" font-family="Liberation Sans" fill="#1a1a1a" stroke="#1a1a1a" stroke-width="0.18">4</text>
<text id="t_d_y3" x="482.20" y="75.20" font-size="13.73" font-family="Liberation Sans" fill="#1a1a1a" stroke="#1a1a1a" stroke-width="0.18">3</text>
<text id="t_d_y2" x="482.04" y="135.98" font-size="13.41" font-family="Liberation Sans" fill="#1a1a1a" stroke="#1a1a1a" stroke-width="0.18">2</text>
<text id="t_d_y1" x="481.48" y="198.10" font-size="13.53" font-family="Liberation Sans" fill="#1a1a1a" stroke="#1a1a1a" stroke-width="0.18">1</text>
<text id="t_d_y0" x="481.66" y="260.10" font-size="13.53" font-family="Liberation Sans" fill="#1a1a1a" stroke="#1a1a1a" stroke-width="0.18">0</text>
<text id="t_d_ylab" transform="translate(480.06,181.42) rotate(-90)" font-size="14.22" font-family="Liberation Sans" fill="#1a1a1a" stroke="#1a1a1a" stroke-width="0.18" textLength="93.49" lengthAdjust="spacingAndGlyphs">Transmission(a.u.)</text>
<text id="t_d_xm50" x="484.36" y="270.44" font-size="11.81" font-family="Liberation Sans" fill="#1a1a1a" stroke="#1a1a1a" stroke-width="0.18" textLength="17.02" lengthAdjust="spacingAndGlyphs">-50</text>
<text id="t_d_x0" x="554.20" y="270.44" font-size="11.81" font-family="Liberation Sans" fill="#1a1a1a" stroke="#1a1a1a" stroke-width="0.18">0</text>
<text id="t_d_x50" x="614.42" y="270.44" font-size="11.81" font-family="Liberation Sans" fill="#1a1a1a" stroke="#1a1a1a" stroke-width="0.18" textLength="12.35" lengthAdjust="spacingAndGlyphs">50</text>
<text id="t_d_xlab" x="525.24" y="284.00" font-size="11.62" font-family="Liberation Sans" fill="#1a1a1a" stroke="#1a1a1a" stroke-width="0.18" textLength="62.78" lengthAdjust="spacingAndGlyphs">Δ<tspan font-size="70%" dy="2.5">c</tspan><tspan dy="-2.5">/2</tspan><tspan font-family="Liberation Serif">π</tspan>(MHz)</text>
<text id="t_D32" x="513.70" y="215.44" font-size="10.22" font-family="Liberation Sans" fill="#1a1a1a" stroke="#1a1a1a" stroke-width="0.18" textLength="26.84" lengthAdjust="spacingAndGlyphs">75D<tspan font-size="62%" dy="2.6" dx="1.2">3/2</tspan></text>
<text id="t_D52" x="547.50" y="247.40" font-size="9.45" font-family="Liberation Sans" fill="#1a1a1a" stroke="#1a1a1a" stroke-width="0.18" textLength="26.59" lengthAdjust="spacingAndGlyphs">75D<tspan font-size="62%" dy="2.6" dx="1.2">5/2</tspan></text>
<text id="t_d_OL" x="587.60" y="141.35" font-size="14.09" font-family="Liberation Serif" fill="#ee1c24" stroke="#ee1c24" stroke-width="0.18" textLength="15.04" lengthAdjust="spacingAndGlyphs"><tspan font-style="italic">Ω</tspan><tspan font-family="Liberation Sans" font-size="72%" dy="2.5">L</tspan></text>
<text id="t_e_lbl" x="668.42" y="24.86" font-size="18.18" font-family="Liberation Sans" fill="#1a1a1a" stroke="#1a1a1a" stroke-width="0.18" textLength="20.53" lengthAdjust="spacingAndGlyphs">(e)</text>
<text id="t_e_y20" x="643.36" y="44.10" font-size="13.53" font-family="Liberation Sans" fill="#1a1a1a" stroke="#1a1a1a" stroke-width="0.18" textLength="14.05" lengthAdjust="spacingAndGlyphs">20</text>
<text id="t_e_y10" x="643.82" y="85.34" font-size="13.63" font-family="Liberation Sans" fill="#1a1a1a" stroke="#1a1a1a" stroke-width="0.18" textLength="12.68" lengthAdjust="spacingAndGlyphs">10</text>
<text id="t_e_y0" x="650.06" y="127.34" font-size="13.41" font-family="Liberation Sans" fill="#1a1a1a" stroke="#1a1a1a" stroke-width="0.18">0</text>
<text id="t_e_ylab" transform="translate(638.56,125.56) rotate(-90)" font-size="12.83" font-family="Liberation Sans" fill="#1a1a1a" stroke="#1a1a1a" stroke-width="0.18" textLength="104.89" lengthAdjust="spacingAndGlyphs">Peak splitting(MHz)</text>
<text id="t_slope" x="727.34" y="109.90" font-size="10.23" font-family="Liberation Sans" fill="#ee1c24" stroke="#ee1c24" stroke-width="0.18" textLength="42.20" lengthAdjust="spacingAndGlyphs">Slope=1/2</text>
<text id="t_f_lbl" x="669.70" y="152.26" font-size="17.66" font-family="Liberation Sans" fill="#1a1a1a" stroke="#1a1a1a" stroke-width="0.18" textLength="17.33" lengthAdjust="spacingAndGlyphs">(f)</text>
<text id="t_f_y20" x="643.24" y="164.50" font-size="11.87" font-family="Liberation Sans" fill="#1a1a1a" stroke="#1a1a1a" stroke-width="0.18" textLength="14.04" lengthAdjust="spacingAndGlyphs">20</text>
<text id="t_f_y10" x="643.82" y="212.58" font-size="13.88" font-family="Liberation Sans" fill="#1a1a1a" stroke="#1a1a1a" stroke-width="0.18" textLength="12.82" lengthAdjust="spacingAndGlyphs">10</text>
<text id="t_f_y0" x="650.08" y="260.10" font-size="13.53" font-family="Liberation Sans" fill="#1a1a1a" stroke="#1a1a1a" stroke-width="0.18">0</text>
<text id="t_f_ylab" transform="translate(640.86,235.18) rotate(-90)" font-size="11.96" font-family="Liberation Sans" fill="#1a1a1a" stroke="#1a1a1a" stroke-width="0.18" textLength="75.14" lengthAdjust="spacingAndGlyphs">Enhancement</text>
<text id="t_f_x0" x="658.32" y="270.44" font-size="11.81" font-family="Liberation Sans" fill="#1a1a1a" stroke="#1a1a1a" stroke-width="0.18">0</text>
<text id="t_f_x1" x="699.88" y="270.44" font-size="11.81" font-family="Liberation Sans" fill="#1a1a1a" stroke="#1a1a1a" stroke-width="0.18">1</text>
<text id="t_f_x2" x="742.42" y="270.44" font-size="11.81" font-family="Liberation Sans" fill="#1a1a1a" stroke="#1a1a1a" stroke-width="0.18">2</text>
<text id="t_f_x3" x="784.54" y="270.44" font-size="11.81" font-family="Liberation Sans" fill="#1a1a1a" stroke="#1a1a1a" stroke-width="0.18">3</text>
<text id="t_f_xlab" x="665.62" y="284.68" font-size="12.00" font-family="Liberation Sans" fill="#1a1a1a" stroke="#1a1a1a" stroke-width="0.18" textLength="112.58" lengthAdjust="spacingAndGlyphs">Perturbation(mV/cm)</text>
</g>
</svg></body></html>
